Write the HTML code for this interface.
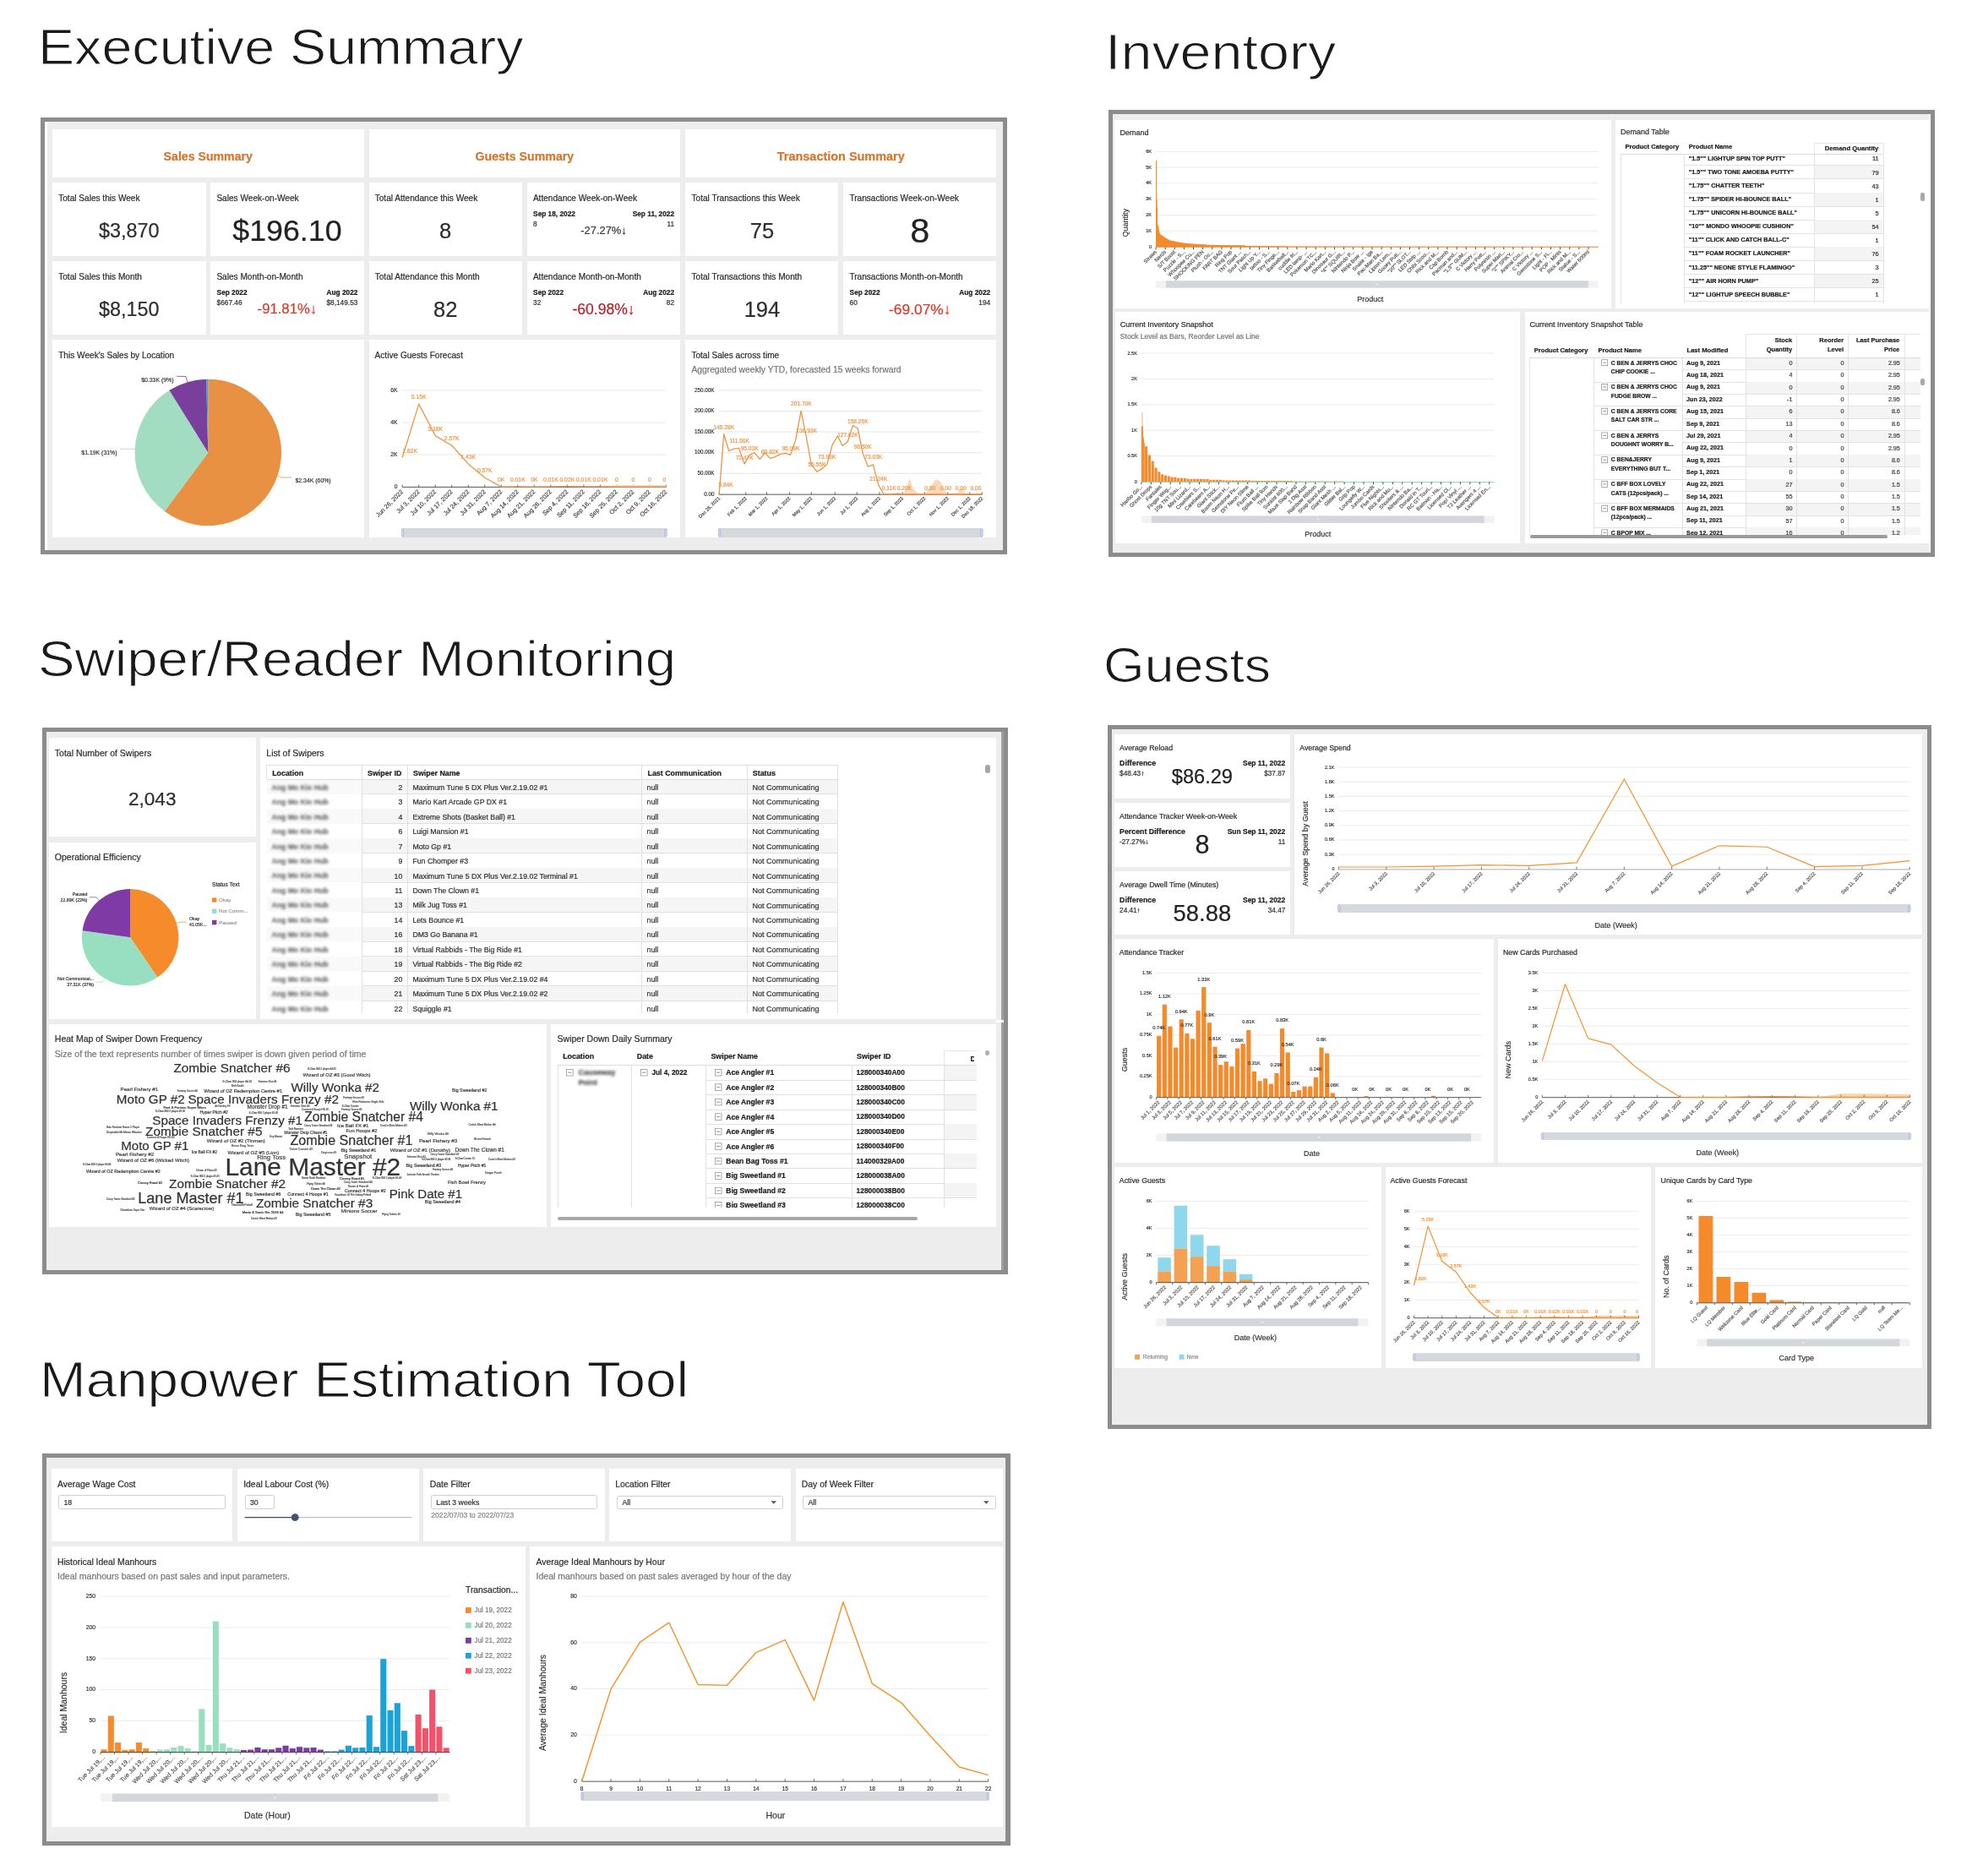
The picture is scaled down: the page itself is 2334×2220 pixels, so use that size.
<!DOCTYPE html>
<html><head><meta charset="utf-8"><title>Dashboards</title>
<style>
html,body{margin:0;padding:0;background:#fff;}
body{width:2334px;height:2220px;position:relative;overflow:hidden;font-family:"Liberation Sans",sans-serif;}
#bx div{position:absolute;}
.t{position:absolute;white-space:nowrap;line-height:1;-webkit-text-stroke:0.22px;}
svg{position:absolute;left:0;top:0;font-family:"Liberation Sans",sans-serif;will-change:transform;}
#tx{position:absolute;left:0;top:0;width:2334px;height:2220px;will-change:transform;}
</style></head><body>
<div id="bx">
<div style="left:48.4px;top:138.8px;width:1143.4px;height:517.4px;background:#8d8c8c;"></div>
<div style="left:53.4px;top:143.8px;width:1133.4px;height:507.4px;background:#ededed;"></div>
<div style="left:53.2px;top:143.8px;width:3px;height:507.6px;background:#fff;"></div>
<div style="left:62px;top:153.4px;width:368.6px;height:56.2px;background:#fff;"></div>
<div style="left:436.5px;top:153.4px;width:368.8px;height:56.2px;background:#fff;"></div>
<div style="left:811.3px;top:153.4px;width:368.1px;height:56.2px;background:#fff;"></div>
<div style="left:62px;top:216px;width:181.5px;height:86.8px;background:#fff;"></div>
<div style="left:62px;top:309px;width:181.5px;height:86.8px;background:#fff;"></div>
<div style="left:249.2px;top:216px;width:181.4px;height:86.8px;background:#fff;"></div>
<div style="left:249.2px;top:309px;width:181.4px;height:86.8px;background:#fff;"></div>
<div style="left:436.5px;top:216px;width:181.4px;height:86.8px;background:#fff;"></div>
<div style="left:436.5px;top:309px;width:181.4px;height:86.8px;background:#fff;"></div>
<div style="left:623.7px;top:216px;width:181.6px;height:86.8px;background:#fff;"></div>
<div style="left:623.7px;top:309px;width:181.6px;height:86.8px;background:#fff;"></div>
<div style="left:811.3px;top:216px;width:181.2px;height:86.8px;background:#fff;"></div>
<div style="left:811.3px;top:309px;width:181.2px;height:86.8px;background:#fff;"></div>
<div style="left:998.2px;top:216px;width:181.2px;height:86.8px;background:#fff;"></div>
<div style="left:998.2px;top:309px;width:181.2px;height:86.8px;background:#fff;"></div>
<div style="left:62px;top:402px;width:368.6px;height:233.7px;background:#fff;"></div>
<div style="left:436.5px;top:402px;width:368.8px;height:233.7px;background:#fff;"></div>
<div style="left:811.3px;top:402px;width:368.1px;height:233.7px;background:#fff;"></div>
<div style="left:1311.8px;top:130px;width:978px;height:529.4px;background:#8d8c8c;"></div>
<div style="left:1316.8px;top:135px;width:968px;height:519.4px;background:#ededed;"></div>
<div style="left:2283.1px;top:134.8px;width:1.9px;height:519.6px;background:#fff;"></div>
<div style="left:1319px;top:141.9px;width:587.8px;height:222.8px;background:#fff;"></div>
<div style="left:1912px;top:141.9px;width:371.1px;height:222.8px;background:#fff;"></div>
<div style="left:1319.8px;top:369.2px;width:479.4px;height:273.8px;background:#fff;"></div>
<div style="left:1804.5px;top:369.2px;width:478.6px;height:273.8px;background:#fff;"></div>
<div style="left:1993.8px;top:195.3px;width:235.5px;height:0.8px;background:#e2e2e2;"></div>
<div style="left:2147.3px;top:195.7px;width:82px;height:16.1px;background:#f4f4f4;"></div>
<div style="left:1993.8px;top:211.4px;width:235.5px;height:0.8px;background:#e2e2e2;"></div>
<div style="left:1993.8px;top:227.5px;width:235.5px;height:0.8px;background:#e2e2e2;"></div>
<div style="left:2147.3px;top:227.9px;width:82px;height:16.1px;background:#f4f4f4;"></div>
<div style="left:1993.8px;top:243.6px;width:235.5px;height:0.8px;background:#e2e2e2;"></div>
<div style="left:1993.8px;top:259.7px;width:235.5px;height:0.8px;background:#e2e2e2;"></div>
<div style="left:2147.3px;top:260.1px;width:82px;height:16.1px;background:#f4f4f4;"></div>
<div style="left:1993.8px;top:275.8px;width:235.5px;height:0.8px;background:#e2e2e2;"></div>
<div style="left:1993.8px;top:291.9px;width:235.5px;height:0.8px;background:#e2e2e2;"></div>
<div style="left:2147.3px;top:292.3px;width:82px;height:16.1px;background:#f4f4f4;"></div>
<div style="left:1993.8px;top:308px;width:235.5px;height:0.8px;background:#e2e2e2;"></div>
<div style="left:1993.8px;top:324.1px;width:235.5px;height:0.8px;background:#e2e2e2;"></div>
<div style="left:2147.3px;top:324.5px;width:82px;height:16.1px;background:#f4f4f4;"></div>
<div style="left:1993.8px;top:340.2px;width:235.5px;height:0.8px;background:#e2e2e2;"></div>
<div style="left:1993.8px;top:356.3px;width:235.5px;height:0.8px;background:#e2e2e2;"></div>
<div style="left:1917.6px;top:182.8px;width:0.8px;height:176.4px;background:#e2e2e2;"></div>
<div style="left:1993.4px;top:182.8px;width:0.8px;height:176.4px;background:#e2e2e2;"></div>
<div style="left:2146.9px;top:168.8px;width:0.8px;height:190.4px;background:#e2e2e2;"></div>
<div style="left:2228.9px;top:168.8px;width:0.8px;height:190.4px;background:#e2e2e2;"></div>
<div style="left:2273.3px;top:227.6px;width:4.3px;height:10.4px;background:#a8a8a8;border-radius:2px;"></div>
<div style="left:2066.4px;top:423.3px;width:206.7px;height:14.37px;background:#f4f4f4;"></div>
<div style="left:1991.7px;top:437.27px;width:281.4px;height:0.8px;background:#e2e2e2;"></div>
<div style="left:1886.8px;top:451.64px;width:386.3px;height:0.8px;background:#e2e2e2;"></div>
<div style="left:2066.4px;top:452.04px;width:206.7px;height:14.37px;background:#f4f4f4;"></div>
<div style="left:1991.7px;top:466.01px;width:281.4px;height:0.8px;background:#e2e2e2;"></div>
<div style="left:1886.8px;top:480.38px;width:386.3px;height:0.8px;background:#e2e2e2;"></div>
<div style="left:2066.4px;top:480.78px;width:206.7px;height:14.37px;background:#f4f4f4;"></div>
<div style="left:1991.7px;top:494.75px;width:281.4px;height:0.8px;background:#e2e2e2;"></div>
<div style="left:1886.8px;top:509.12px;width:386.3px;height:0.8px;background:#e2e2e2;"></div>
<div style="left:2066.4px;top:509.52px;width:206.7px;height:14.37px;background:#f4f4f4;"></div>
<div style="left:1991.7px;top:523.49px;width:281.4px;height:0.8px;background:#e2e2e2;"></div>
<div style="left:1886.8px;top:537.86px;width:386.3px;height:0.8px;background:#e2e2e2;"></div>
<div style="left:2066.4px;top:538.26px;width:206.7px;height:14.37px;background:#f4f4f4;"></div>
<div style="left:1991.7px;top:552.23px;width:281.4px;height:0.8px;background:#e2e2e2;"></div>
<div style="left:1886.8px;top:566.6px;width:386.3px;height:0.8px;background:#e2e2e2;"></div>
<div style="left:2066.4px;top:567px;width:206.7px;height:14.37px;background:#f4f4f4;"></div>
<div style="left:1991.7px;top:580.97px;width:281.4px;height:0.8px;background:#e2e2e2;"></div>
<div style="left:1886.8px;top:595.34px;width:386.3px;height:0.8px;background:#e2e2e2;"></div>
<div style="left:2066.4px;top:595.74px;width:206.7px;height:14.37px;background:#f4f4f4;"></div>
<div style="left:1991.7px;top:609.71px;width:281.4px;height:0.8px;background:#e2e2e2;"></div>
<div style="left:1886.8px;top:624.08px;width:386.3px;height:0.8px;background:#e2e2e2;"></div>
<div style="left:2066.4px;top:624.48px;width:206.7px;height:8.12px;background:#f4f4f4;"></div>
<div style="left:1810.2px;top:423.3px;width:0.8px;height:209.3px;background:#e2e2e2;"></div>
<div style="left:1886.4px;top:423.3px;width:0.8px;height:209.3px;background:#e2e2e2;"></div>
<div style="left:1991.3px;top:423.3px;width:0.8px;height:209.3px;background:#e2e2e2;"></div>
<div style="left:2066px;top:423.3px;width:0.8px;height:209.3px;background:#e2e2e2;"></div>
<div style="left:2126.4px;top:423.3px;width:0.8px;height:209.3px;background:#e2e2e2;"></div>
<div style="left:2187.3px;top:423.3px;width:0.8px;height:209.3px;background:#e2e2e2;"></div>
<div style="left:2254.3px;top:423.3px;width:0.8px;height:209.3px;background:#e2e2e2;"></div>
<div style="left:1810.6px;top:422.8px;width:462.5px;height:1px;background:#dcdcdc;"></div>
<div style="left:2066.4px;top:394.8px;width:206.7px;height:0.8px;background:#e6e6e6;"></div>
<div style="left:2066px;top:395.2px;width:0.8px;height:28.1px;background:#e6e6e6;"></div>
<div style="left:2126.4px;top:395.2px;width:0.8px;height:28.1px;background:#e6e6e6;"></div>
<div style="left:2187.3px;top:395.2px;width:0.8px;height:28.1px;background:#e6e6e6;"></div>
<div style="left:2254.3px;top:395.2px;width:0.8px;height:28.1px;background:#e6e6e6;"></div>
<div style="left:2273.3px;top:448.3px;width:4.3px;height:7.5px;background:#a8a8a8;border-radius:2px;"></div>
<div style="left:49.8px;top:861.4px;width:1143.1px;height:647px;background:#8d8c8c;"></div>
<div style="left:54.8px;top:866.4px;width:1129.9px;height:637px;background:#ededed;"></div>
<div style="left:1184.7px;top:866.4px;width:3.3px;height:637px;background:#9e9e9e;"></div>
<div style="left:57.7px;top:873.4px;width:244.9px;height:117px;background:#fff;"></div>
<div style="left:57.7px;top:996.7px;width:244.9px;height:209.1px;background:#fff;"></div>
<div style="left:308.3px;top:873.4px;width:871px;height:332.4px;background:#fff;"></div>
<div style="left:57.7px;top:1212px;width:589.3px;height:239.7px;background:#fff;"></div>
<div style="left:652.4px;top:1212px;width:526.9px;height:239.7px;background:#fff;"></div>
<div style="left:1179.3px;top:1207.2px;width:8.7px;height:2.8px;background:#fff;"></div>
<div style="left:315.5px;top:922.2px;width:676px;height:17.47px;background:#f5f5f5;"></div>
<div style="left:428px;top:939.27px;width:563.5px;height:0.8px;background:#e0e0e0;"></div>
<div style="left:428px;top:956.74px;width:563.5px;height:0.8px;background:#e0e0e0;"></div>
<div style="left:315.5px;top:957.14px;width:676px;height:17.47px;background:#f5f5f5;"></div>
<div style="left:428px;top:974.21px;width:563.5px;height:0.8px;background:#e0e0e0;"></div>
<div style="left:428px;top:991.68px;width:563.5px;height:0.8px;background:#e0e0e0;"></div>
<div style="left:315.5px;top:992.08px;width:676px;height:17.47px;background:#f5f5f5;"></div>
<div style="left:428px;top:1009.15px;width:563.5px;height:0.8px;background:#e0e0e0;"></div>
<div style="left:428px;top:1026.62px;width:563.5px;height:0.8px;background:#e0e0e0;"></div>
<div style="left:315.5px;top:1027.02px;width:676px;height:17.47px;background:#f5f5f5;"></div>
<div style="left:428px;top:1044.09px;width:563.5px;height:0.8px;background:#e0e0e0;"></div>
<div style="left:428px;top:1061.56px;width:563.5px;height:0.8px;background:#e0e0e0;"></div>
<div style="left:315.5px;top:1061.96px;width:676px;height:17.47px;background:#f5f5f5;"></div>
<div style="left:428px;top:1079.03px;width:563.5px;height:0.8px;background:#e0e0e0;"></div>
<div style="left:428px;top:1096.5px;width:563.5px;height:0.8px;background:#e0e0e0;"></div>
<div style="left:315.5px;top:1096.9px;width:676px;height:17.47px;background:#f5f5f5;"></div>
<div style="left:428px;top:1113.97px;width:563.5px;height:0.8px;background:#e0e0e0;"></div>
<div style="left:428px;top:1131.44px;width:563.5px;height:0.8px;background:#e0e0e0;"></div>
<div style="left:315.5px;top:1131.84px;width:676px;height:17.47px;background:#f5f5f5;"></div>
<div style="left:428px;top:1148.91px;width:563.5px;height:0.8px;background:#e0e0e0;"></div>
<div style="left:428px;top:1166.38px;width:563.5px;height:0.8px;background:#e0e0e0;"></div>
<div style="left:315.5px;top:1166.78px;width:676px;height:17.47px;background:#f5f5f5;"></div>
<div style="left:428px;top:1183.85px;width:563.5px;height:0.8px;background:#e0e0e0;"></div>
<div style="left:315.5px;top:922.2px;width:112px;height:276.8px;background:rgba(255,255,255,0.45);"></div>
<div style="left:427.6px;top:905.4px;width:0.8px;height:293.6px;background:#e0e0e0;"></div>
<div style="left:481.8px;top:905.4px;width:0.8px;height:293.6px;background:#e0e0e0;"></div>
<div style="left:759.3px;top:905.4px;width:0.8px;height:293.6px;background:#e0e0e0;"></div>
<div style="left:884.2px;top:905.4px;width:0.8px;height:293.6px;background:#e0e0e0;"></div>
<div style="left:991.1px;top:905.4px;width:0.8px;height:293.6px;background:#e0e0e0;"></div>
<div style="left:315.5px;top:905.4px;width:676px;height:16.8px;background:#fff;"></div>
<div style="left:315.5px;top:905px;width:676px;height:0.8px;background:#e0e0e0;"></div>
<div style="left:315.5px;top:921.8px;width:676px;height:0.8px;background:#dcdcdc;"></div>
<div style="left:315.1px;top:905.4px;width:0.8px;height:16.8px;background:#e0e0e0;"></div>
<div style="left:427.6px;top:905.4px;width:0.8px;height:16.8px;background:#e0e0e0;"></div>
<div style="left:481.8px;top:905.4px;width:0.8px;height:16.8px;background:#e0e0e0;"></div>
<div style="left:759.3px;top:905.4px;width:0.8px;height:16.8px;background:#e0e0e0;"></div>
<div style="left:884.2px;top:905.4px;width:0.8px;height:16.8px;background:#e0e0e0;"></div>
<div style="left:991.1px;top:905.4px;width:0.8px;height:16.8px;background:#e0e0e0;"></div>
<div style="left:1166px;top:905.2px;width:5.8px;height:9.4px;background:#a6a6a6;border-radius:3px;"></div>
<div style="left:1117.1px;top:1260.6px;width:38.6px;height:17.47px;background:#f4f4f4;"></div>
<div style="left:835.6px;top:1277.67px;width:320.1px;height:0.8px;background:#e0e0e0;"></div>
<div style="left:835.6px;top:1295.14px;width:320.1px;height:0.8px;background:#e0e0e0;"></div>
<div style="left:1117.1px;top:1295.54px;width:38.6px;height:17.47px;background:#f4f4f4;"></div>
<div style="left:835.6px;top:1312.61px;width:320.1px;height:0.8px;background:#e0e0e0;"></div>
<div style="left:835.6px;top:1330.08px;width:320.1px;height:0.8px;background:#e0e0e0;"></div>
<div style="left:1117.1px;top:1330.48px;width:38.6px;height:17.47px;background:#f4f4f4;"></div>
<div style="left:835.6px;top:1347.55px;width:320.1px;height:0.8px;background:#e0e0e0;"></div>
<div style="left:835.6px;top:1365.02px;width:320.1px;height:0.8px;background:#e0e0e0;"></div>
<div style="left:1117.1px;top:1365.42px;width:38.6px;height:17.47px;background:#f4f4f4;"></div>
<div style="left:835.6px;top:1382.49px;width:320.1px;height:0.8px;background:#e0e0e0;"></div>
<div style="left:835.6px;top:1399.96px;width:320.1px;height:0.8px;background:#e0e0e0;"></div>
<div style="left:1117.1px;top:1400.36px;width:38.6px;height:17.47px;background:#f4f4f4;"></div>
<div style="left:835.6px;top:1417.43px;width:320.1px;height:0.8px;background:#e0e0e0;"></div>
<div style="left:659.5px;top:1260.6px;width:0.8px;height:168px;background:#e0e0e0;"></div>
<div style="left:747.2px;top:1260.6px;width:0.8px;height:168px;background:#e0e0e0;"></div>
<div style="left:835.2px;top:1260.6px;width:0.8px;height:168px;background:#e0e0e0;"></div>
<div style="left:1007.5px;top:1260.6px;width:0.8px;height:168px;background:#e0e0e0;"></div>
<div style="left:1116.7px;top:1260.6px;width:0.8px;height:168px;background:#e0e0e0;"></div>
<div style="left:659.9px;top:1260.1px;width:495.8px;height:1px;background:#dcdcdc;"></div>
<div style="left:1117.1px;top:1243.4px;width:38.6px;height:0.8px;background:#e6e6e6;"></div>
<div style="left:1116.7px;top:1243.8px;width:0.8px;height:16.8px;background:#e6e6e6;"></div>
<div style="left:1165.8px;top:1243.2px;width:5.6px;height:5.6px;background:#b0b0b0;border-radius:3px;"></div>
<div style="left:1310.6px;top:858px;width:975.2px;height:832.6px;background:#8d8c8c;"></div>
<div style="left:1315.6px;top:863px;width:965.2px;height:822.6px;background:#ededed;"></div>
<div style="left:1319px;top:869.2px;width:207.8px;height:75.4px;background:#fff;"></div>
<div style="left:1319px;top:950.2px;width:207.8px;height:75.4px;background:#fff;"></div>
<div style="left:1319px;top:1030.9px;width:207.8px;height:75.6px;background:#fff;"></div>
<div style="left:1532.1px;top:869.2px;width:743.1px;height:237.3px;background:#fff;"></div>
<div style="left:1319px;top:1111.4px;width:448.8px;height:264.6px;background:#fff;"></div>
<div style="left:1773px;top:1111.4px;width:501.8px;height:264.6px;background:#fff;"></div>
<div style="left:1319px;top:1380.9px;width:315.7px;height:237.7px;background:#fff;"></div>
<div style="left:1639.7px;top:1380.9px;width:314.5px;height:237.7px;background:#fff;"></div>
<div style="left:1959.4px;top:1380.9px;width:315.4px;height:237.7px;background:#fff;"></div>
<div style="left:49.8px;top:1719.8px;width:1146px;height:464px;background:#8d8c8c;"></div>
<div style="left:54.6px;top:1724.6px;width:1135.9px;height:454.4px;background:#ededed;"></div>
<div style="left:60.8px;top:1737.5px;width:214.5px;height:86.5px;background:#fff;"></div>
<div style="left:280.9px;top:1737.5px;width:214.8px;height:86.5px;background:#fff;"></div>
<div style="left:501.4px;top:1737.5px;width:214.2px;height:86.5px;background:#fff;"></div>
<div style="left:721px;top:1737.5px;width:214.8px;height:86.5px;background:#fff;"></div>
<div style="left:941.5px;top:1737.5px;width:245.8px;height:86.5px;background:#fff;"></div>
<div style="left:60.8px;top:1830px;width:560.8px;height:331.8px;background:#fff;"></div>
<div style="left:627.4px;top:1830px;width:559.9px;height:331.8px;background:#fff;"></div>
<div style="left:69.3px;top:1769.4px;width:197.5px;height:16.6px;background:#fff;border:1px solid #cfcfcf;border-radius:2.5px;box-sizing:border-box;"></div>
<div style="left:289.7px;top:1769.4px;width:34.9px;height:16.6px;background:#fff;border:1px solid #cfcfcf;border-radius:2.5px;box-sizing:border-box;"></div>
<div style="left:510.1px;top:1769.4px;width:196.8px;height:16.6px;background:#fff;border:1px solid #cfcfcf;border-radius:2.5px;box-sizing:border-box;"></div>
<div style="left:730.2px;top:1769.5px;width:196.8px;height:16.1px;background:#fff;border:1px solid #cfcfcf;border-radius:2.5px;box-sizing:border-box;"></div>
<div style="left:950.3px;top:1769.5px;width:228.3px;height:16.1px;background:#fff;border:1px solid #cfcfcf;border-radius:2.5px;box-sizing:border-box;"></div>
</div>
<svg width="2334" height="2220" viewBox="0 0 2334 2220">
<path d="M246.3,535.4 L246.3,448.7 A86.7,86.7 0 1 1 194.73,605.09 Z" fill="#e99142"/>
<path d="M246.3,535.4 L194.73,605.09 A86.7,86.7 0 0 1 200.36,461.87 Z" fill="#a2dcc1"/>
<path d="M246.3,535.4 L200.36,461.87 A86.7,86.7 0 0 1 244.18,448.73 Z" fill="#7a3f9c"/>
<path d="M246.3,535.4 L244.18,448.73 A86.7,86.7 0 0 1 246.3,448.7 Z" fill="#3aa0d0"/>
<text x="214.5" y="591.84" font-size="1" fill="#333" stroke="#333" stroke-width="0.18" text-anchor="start"></text>
<polyline points="328.5,563 333,565 345,565" fill="none" stroke="#e99142" stroke-width="0.8" stroke-linejoin="round" />
<text x="349.5" y="571.17" font-size="6.9" fill="#333" stroke="#333" stroke-width="0.18" text-anchor="start">$2.34K (60%)</text>
<polyline points="160.5,531.5 152,531.2 142,531.2" fill="none" stroke="#a2dcc1" stroke-width="0.8" stroke-linejoin="round" />
<text x="138.5" y="537.57" font-size="6.9" fill="#333" stroke="#333" stroke-width="0.18" text-anchor="end">$1.19K (31%)</text>
<polyline points="221.8,452.5 220,445.5 209,445.3" fill="none" stroke="#7a3f9c" stroke-width="0.8" stroke-linejoin="round" />
<text x="205.5" y="451.57" font-size="6.9" fill="#333" stroke="#333" stroke-width="0.18" text-anchor="end">$0.33K (9%)</text>
<line x1="476.2" y1="462" x2="788.4" y2="462" stroke="#e4e4e4" stroke-width="0.9"/>
<text x="470.4" y="463.9" font-size="6.7" fill="#333" stroke="#333" stroke-width="0.18" text-anchor="end">6K</text>
<line x1="476.2" y1="500.03" x2="788.4" y2="500.03" stroke="#e4e4e4" stroke-width="0.9"/>
<text x="470.4" y="501.94" font-size="6.7" fill="#333" stroke="#333" stroke-width="0.18" text-anchor="end">4K</text>
<line x1="476.2" y1="538.07" x2="788.4" y2="538.07" stroke="#e4e4e4" stroke-width="0.9"/>
<text x="470.4" y="539.97" font-size="6.7" fill="#333" stroke="#333" stroke-width="0.18" text-anchor="end">2K</text>
<text x="470.4" y="577.8" font-size="6.7" fill="#333" stroke="#333" stroke-width="0.18" text-anchor="end">0</text>
<line x1="476.2" y1="576.4" x2="788.4" y2="576.4" stroke="#444" stroke-width="0.9"/>
<line x1="476.2" y1="573.6" x2="476.2" y2="576.6" stroke="#444" stroke-width="0.8"/>
<line x1="495.71" y1="573.6" x2="495.71" y2="576.6" stroke="#444" stroke-width="0.8"/>
<line x1="515.23" y1="573.6" x2="515.23" y2="576.6" stroke="#444" stroke-width="0.8"/>
<line x1="534.74" y1="573.6" x2="534.74" y2="576.6" stroke="#444" stroke-width="0.8"/>
<line x1="554.25" y1="573.6" x2="554.25" y2="576.6" stroke="#444" stroke-width="0.8"/>
<line x1="573.76" y1="573.6" x2="573.76" y2="576.6" stroke="#444" stroke-width="0.8"/>
<line x1="593.27" y1="573.6" x2="593.27" y2="576.6" stroke="#444" stroke-width="0.8"/>
<line x1="612.79" y1="573.6" x2="612.79" y2="576.6" stroke="#444" stroke-width="0.8"/>
<line x1="632.3" y1="573.6" x2="632.3" y2="576.6" stroke="#444" stroke-width="0.8"/>
<line x1="651.81" y1="573.6" x2="651.81" y2="576.6" stroke="#444" stroke-width="0.8"/>
<line x1="671.33" y1="573.6" x2="671.33" y2="576.6" stroke="#444" stroke-width="0.8"/>
<line x1="690.84" y1="573.6" x2="690.84" y2="576.6" stroke="#444" stroke-width="0.8"/>
<line x1="710.35" y1="573.6" x2="710.35" y2="576.6" stroke="#444" stroke-width="0.8"/>
<line x1="729.86" y1="573.6" x2="729.86" y2="576.6" stroke="#444" stroke-width="0.8"/>
<line x1="749.38" y1="573.6" x2="749.38" y2="576.6" stroke="#444" stroke-width="0.8"/>
<line x1="768.89" y1="573.6" x2="768.89" y2="576.6" stroke="#444" stroke-width="0.8"/>
<line x1="788.4" y1="573.6" x2="788.4" y2="576.6" stroke="#444" stroke-width="0.8"/>
<polygon points="710.35,576.1 729.86,573.7 788.4,574.1 788.4,576.1" fill="#fbd9b8" />
<polyline points="476.2,541.49 495.71,478.16 515.23,515.63 534.74,527.23 554.25,548.91 573.76,565.26 593.27,576.1 612.79,575.91 632.3,576.1 651.81,575.91 671.33,575.72 690.84,575.91 710.35,575.91 729.86,576.1 749.38,576.1 768.89,576.1 788.4,576.1" fill="none" stroke="#ef9440" stroke-width="1.3" stroke-linejoin="round" />
<text x="485.2" y="535.63" font-size="6.8" fill="#ef9440" stroke="#ef9440" stroke-width="0.18" text-anchor="middle">1.82K</text>
<text x="495.71" y="472.3" font-size="6.8" fill="#ef9440" stroke="#ef9440" stroke-width="0.18" text-anchor="middle">5.15K</text>
<text x="515.23" y="509.77" font-size="6.8" fill="#ef9440" stroke="#ef9440" stroke-width="0.18" text-anchor="middle">3.18K</text>
<text x="534.74" y="521.37" font-size="6.8" fill="#ef9440" stroke="#ef9440" stroke-width="0.18" text-anchor="middle">2.57K</text>
<text x="554.25" y="543.05" font-size="6.8" fill="#ef9440" stroke="#ef9440" stroke-width="0.18" text-anchor="middle">1.43K</text>
<text x="573.76" y="559.4" font-size="6.8" fill="#ef9440" stroke="#ef9440" stroke-width="0.18" text-anchor="middle">0.57K</text>
<text x="593.27" y="570.24" font-size="6.8" fill="#ef9440" stroke="#ef9440" stroke-width="0.18" text-anchor="middle">0K</text>
<text x="612.79" y="570.24" font-size="6.8" fill="#ef9440" stroke="#ef9440" stroke-width="0.18" text-anchor="middle">0.01K</text>
<text x="632.3" y="570.24" font-size="6.8" fill="#ef9440" stroke="#ef9440" stroke-width="0.18" text-anchor="middle">0K</text>
<text x="651.81" y="570.24" font-size="6.8" fill="#ef9440" stroke="#ef9440" stroke-width="0.18" text-anchor="middle">0.01K</text>
<text x="671.33" y="570.24" font-size="6.8" fill="#ef9440" stroke="#ef9440" stroke-width="0.18" text-anchor="middle">0.02K</text>
<text x="690.84" y="570.24" font-size="6.8" fill="#ef9440" stroke="#ef9440" stroke-width="0.18" text-anchor="middle">0.01K</text>
<text x="710.35" y="570.24" font-size="6.8" fill="#ef9440" stroke="#ef9440" stroke-width="0.18" text-anchor="middle">0.01K</text>
<text x="729.86" y="570.24" font-size="6.8" fill="#ef9440" stroke="#ef9440" stroke-width="0.18" text-anchor="middle">0</text>
<text x="749.38" y="570.24" font-size="6.8" fill="#ef9440" stroke="#ef9440" stroke-width="0.18" text-anchor="middle">0</text>
<text x="768.89" y="570.24" font-size="6.8" fill="#ef9440" stroke="#ef9440" stroke-width="0.18" text-anchor="middle">0</text>
<text x="786.4" y="570.24" font-size="6.8" fill="#ef9440" stroke="#ef9440" stroke-width="0.18" text-anchor="middle">0</text>
<text transform="translate(477.7,582.5) rotate(-45)" font-size="7.3" fill="#444" stroke="#444" stroke-width="0.18" text-anchor="end">Jun 26, 2022</text>
<text transform="translate(497.21,582.5) rotate(-45)" font-size="7.3" fill="#444" stroke="#444" stroke-width="0.18" text-anchor="end">Jul 3, 2022</text>
<text transform="translate(516.73,582.5) rotate(-45)" font-size="7.3" fill="#444" stroke="#444" stroke-width="0.18" text-anchor="end">Jul 10, 2022</text>
<text transform="translate(536.24,582.5) rotate(-45)" font-size="7.3" fill="#444" stroke="#444" stroke-width="0.18" text-anchor="end">Jul 17, 2022</text>
<text transform="translate(555.75,582.5) rotate(-45)" font-size="7.3" fill="#444" stroke="#444" stroke-width="0.18" text-anchor="end">Jul 24, 2022</text>
<text transform="translate(575.26,582.5) rotate(-45)" font-size="7.3" fill="#444" stroke="#444" stroke-width="0.18" text-anchor="end">Jul 31, 2022</text>
<text transform="translate(594.77,582.5) rotate(-45)" font-size="7.3" fill="#444" stroke="#444" stroke-width="0.18" text-anchor="end">Aug 7, 2022</text>
<text transform="translate(614.29,582.5) rotate(-45)" font-size="7.3" fill="#444" stroke="#444" stroke-width="0.18" text-anchor="end">Aug 14, 2022</text>
<text transform="translate(633.8,582.5) rotate(-45)" font-size="7.3" fill="#444" stroke="#444" stroke-width="0.18" text-anchor="end">Aug 21, 2022</text>
<text transform="translate(653.31,582.5) rotate(-45)" font-size="7.3" fill="#444" stroke="#444" stroke-width="0.18" text-anchor="end">Aug 28, 2022</text>
<text transform="translate(672.83,582.5) rotate(-45)" font-size="7.3" fill="#444" stroke="#444" stroke-width="0.18" text-anchor="end">Sep 4, 2022</text>
<text transform="translate(692.34,582.5) rotate(-45)" font-size="7.3" fill="#444" stroke="#444" stroke-width="0.18" text-anchor="end">Sep 11, 2022</text>
<text transform="translate(711.85,582.5) rotate(-45)" font-size="7.3" fill="#444" stroke="#444" stroke-width="0.18" text-anchor="end">Sep 18, 2022</text>
<text transform="translate(731.36,582.5) rotate(-45)" font-size="7.3" fill="#444" stroke="#444" stroke-width="0.18" text-anchor="end">Sep 25, 2022</text>
<text transform="translate(750.88,582.5) rotate(-45)" font-size="7.3" fill="#444" stroke="#444" stroke-width="0.18" text-anchor="end">Oct 2, 2022</text>
<text transform="translate(770.39,582.5) rotate(-45)" font-size="7.3" fill="#444" stroke="#444" stroke-width="0.18" text-anchor="end">Oct 9, 2022</text>
<text transform="translate(789.9,582.5) rotate(-45)" font-size="7.3" fill="#444" stroke="#444" stroke-width="0.18" text-anchor="end">Oct 16, 2022</text>
<rect x="476.2" y="625.2" width="312.2" height="10.5" fill="#d5d9de" stroke="#c8cdd6" stroke-width="0.5"/>
<rect x="475.3" y="625.8" width="2.4" height="9.3" fill="#cfd6ea" rx="1" stroke="#9fabd4" stroke-width="0.6"/>
<rect x="786.9" y="625.8" width="2.4" height="9.3" fill="#cfd6ea" rx="1" stroke="#9fabd4" stroke-width="0.6"/>
<line x1="851.15" y1="461.9" x2="1162.29" y2="461.9" stroke="#e4e4e4" stroke-width="0.9"/>
<text x="845.55" y="463.67" font-size="6.3" fill="#333" stroke="#333" stroke-width="0.18" text-anchor="end">250.00K</text>
<line x1="851.15" y1="486.49" x2="1162.29" y2="486.49" stroke="#e4e4e4" stroke-width="0.9"/>
<text x="845.55" y="488.25" font-size="6.3" fill="#333" stroke="#333" stroke-width="0.18" text-anchor="end">200.00K</text>
<line x1="851.15" y1="511.07" x2="1162.29" y2="511.07" stroke="#e4e4e4" stroke-width="0.9"/>
<text x="845.55" y="512.84" font-size="6.3" fill="#333" stroke="#333" stroke-width="0.18" text-anchor="end">150.00K</text>
<line x1="851.15" y1="535.66" x2="1162.29" y2="535.66" stroke="#e4e4e4" stroke-width="0.9"/>
<text x="845.55" y="537.43" font-size="6.3" fill="#333" stroke="#333" stroke-width="0.18" text-anchor="end">100.00K</text>
<line x1="851.15" y1="560.25" x2="1162.29" y2="560.25" stroke="#e4e4e4" stroke-width="0.9"/>
<text x="845.55" y="562.02" font-size="6.3" fill="#333" stroke="#333" stroke-width="0.18" text-anchor="end">50.00K</text>
<text x="845.55" y="586.61" font-size="6.3" fill="#333" stroke="#333" stroke-width="0.18" text-anchor="end">0.00</text>
<line x1="851.15" y1="585.14" x2="1162.29" y2="585.14" stroke="#444" stroke-width="0.9"/>
<line x1="851.15" y1="582.34" x2="851.15" y2="585.34" stroke="#444" stroke-width="0.8"/>
<line x1="882.79" y1="582.34" x2="882.79" y2="585.34" stroke="#444" stroke-width="0.8"/>
<line x1="907.51" y1="582.34" x2="907.51" y2="585.34" stroke="#444" stroke-width="0.8"/>
<line x1="934.54" y1="582.34" x2="934.54" y2="585.34" stroke="#444" stroke-width="0.8"/>
<line x1="960.25" y1="582.34" x2="960.25" y2="585.34" stroke="#444" stroke-width="0.8"/>
<line x1="988.27" y1="582.34" x2="988.27" y2="585.34" stroke="#444" stroke-width="0.8"/>
<line x1="1014.3" y1="582.34" x2="1014.3" y2="585.34" stroke="#444" stroke-width="0.8"/>
<line x1="1041" y1="582.34" x2="1041" y2="585.34" stroke="#444" stroke-width="0.8"/>
<line x1="1068.03" y1="582.34" x2="1068.03" y2="585.34" stroke="#444" stroke-width="0.8"/>
<line x1="1094.4" y1="582.34" x2="1094.4" y2="585.34" stroke="#444" stroke-width="0.8"/>
<line x1="1121.75" y1="582.34" x2="1121.75" y2="585.34" stroke="#444" stroke-width="0.8"/>
<line x1="1147.79" y1="582.34" x2="1147.79" y2="585.34" stroke="#444" stroke-width="0.8"/>
<line x1="1162.29" y1="582.34" x2="1162.29" y2="585.34" stroke="#444" stroke-width="0.8"/>
<polygon points="1068.03,584.84 1071.98,579.56 1076.6,566.05 1080.55,577.92 1086.16,583.52 1091.1,584.84" fill="#fbd9b8" />
<polygon points="1094.4,584.84 1100.99,576.27 1107.58,567.04 1112.85,569.35 1116.81,577.92 1121.42,584.84" fill="#fbd9b8" />
<polygon points="1131.31,584.84 1137.9,577.26 1143.84,584.84" fill="#fbd9b8" />
<polyline points="851.15,584.84 856.76,513.65 862.69,533.75 868.62,531.11 874.56,530.45 881.15,548.91 887.08,538.37 893.01,535.73 899.27,543.31 905.54,535.73 911.47,542.32 917.4,540.67 923.67,537.38 929.6,536.39 935.53,538.37 941.79,520.24 948.06,486.29 954.32,516.94 960.25,549.9 966.84,558.14 972.78,554.85 979.04,548.91 984.97,526.83 991.23,515.95 997.17,527.49 1003.43,522.54 1009.36,503.43 1015.29,507.05 1021.23,536.72 1027.49,552.21 1033.42,549.9 1040.01,574.62 1045.95,584.51 1054.85,584.84 1063.09,583.85 1068.03,584.84 1162.29,584.84" fill="none" stroke="#ef9440" stroke-width="1.3" stroke-linejoin="round" />
<text x="856.76" y="508.01" font-size="6.6" fill="#ef9440" stroke="#ef9440" stroke-width="0.18" text-anchor="middle">145.28K</text>
<text x="859.06" y="576.23" font-size="6.6" fill="#ef9440" stroke="#ef9440" stroke-width="0.18" text-anchor="middle">5.84K</text>
<text x="875.21" y="524.49" font-size="6.6" fill="#ef9440" stroke="#ef9440" stroke-width="0.18" text-anchor="middle">111.56K</text>
<text x="887.08" y="532.73" font-size="6.6" fill="#ef9440" stroke="#ef9440" stroke-width="0.18" text-anchor="middle">95.03K</text>
<text x="881.15" y="543.93" font-size="6.6" fill="#ef9440" stroke="#ef9440" stroke-width="0.18" text-anchor="middle">72.47K</text>
<text x="911.47" y="537.01" font-size="6.6" fill="#ef9440" stroke="#ef9440" stroke-width="0.18" text-anchor="middle">86.82K</text>
<text x="935.86" y="532.73" font-size="6.6" fill="#ef9440" stroke="#ef9440" stroke-width="0.18" text-anchor="middle">95.09K</text>
<text x="948.38" y="479.66" font-size="6.6" fill="#ef9440" stroke="#ef9440" stroke-width="0.18" text-anchor="middle">201.70K</text>
<text x="954.65" y="511.63" font-size="6.6" fill="#ef9440" stroke="#ef9440" stroke-width="0.18" text-anchor="middle">136.93K</text>
<text x="966.84" y="552.17" font-size="6.6" fill="#ef9440" stroke="#ef9440" stroke-width="0.18" text-anchor="middle">55.55K</text>
<text x="978.71" y="543.27" font-size="6.6" fill="#ef9440" stroke="#ef9440" stroke-width="0.18" text-anchor="middle">73.93K</text>
<text x="1003.43" y="516.57" font-size="6.6" fill="#ef9440" stroke="#ef9440" stroke-width="0.18" text-anchor="middle">127.62K</text>
<text x="1015.29" y="501.41" font-size="6.6" fill="#ef9440" stroke="#ef9440" stroke-width="0.18" text-anchor="middle">158.25K</text>
<text x="1021.23" y="530.75" font-size="6.6" fill="#ef9440" stroke="#ef9440" stroke-width="0.18" text-anchor="middle">98.50K</text>
<text x="1033.75" y="543.27" font-size="6.6" fill="#ef9440" stroke="#ef9440" stroke-width="0.18" text-anchor="middle">73.03K</text>
<text x="1039.68" y="569.31" font-size="6.6" fill="#ef9440" stroke="#ef9440" stroke-width="0.18" text-anchor="middle">21.24K</text>
<text x="1052.21" y="579.53" font-size="6.6" fill="#ef9440" stroke="#ef9440" stroke-width="0.18" text-anchor="middle">0.11K</text>
<text x="1070.34" y="579.53" font-size="6.6" fill="#ef9440" stroke="#ef9440" stroke-width="0.18" text-anchor="middle">0.20K</text>
<text x="1100.66" y="579.53" font-size="6.6" fill="#ef9440" stroke="#ef9440" stroke-width="0.18" text-anchor="middle">0.00</text>
<text x="1119.45" y="579.53" font-size="6.6" fill="#ef9440" stroke="#ef9440" stroke-width="0.18" text-anchor="middle">0.00</text>
<text x="1137.24" y="579.53" font-size="6.6" fill="#ef9440" stroke="#ef9440" stroke-width="0.18" text-anchor="middle">0.00</text>
<text x="1155.04" y="579.53" font-size="6.6" fill="#ef9440" stroke="#ef9440" stroke-width="0.18" text-anchor="middle">0.00</text>
<text transform="translate(852.65,590.04) rotate(-45)" font-size="5.6" fill="#444" stroke="#444" stroke-width="0.18" text-anchor="end">Dec 26, 2021</text>
<text transform="translate(884.29,590.04) rotate(-45)" font-size="5.6" fill="#444" stroke="#444" stroke-width="0.18" text-anchor="end">Feb 1, 2022</text>
<text transform="translate(909.01,590.04) rotate(-45)" font-size="5.6" fill="#444" stroke="#444" stroke-width="0.18" text-anchor="end">Mar 1, 2022</text>
<text transform="translate(936.04,590.04) rotate(-45)" font-size="5.6" fill="#444" stroke="#444" stroke-width="0.18" text-anchor="end">Apr 1, 2022</text>
<text transform="translate(961.75,590.04) rotate(-45)" font-size="5.6" fill="#444" stroke="#444" stroke-width="0.18" text-anchor="end">May 1, 2022</text>
<text transform="translate(989.77,590.04) rotate(-45)" font-size="5.6" fill="#444" stroke="#444" stroke-width="0.18" text-anchor="end">Jun 1, 2022</text>
<text transform="translate(1015.8,590.04) rotate(-45)" font-size="5.6" fill="#444" stroke="#444" stroke-width="0.18" text-anchor="end">Jul 1, 2022</text>
<text transform="translate(1042.5,590.04) rotate(-45)" font-size="5.6" fill="#444" stroke="#444" stroke-width="0.18" text-anchor="end">Aug 1, 2022</text>
<text transform="translate(1069.53,590.04) rotate(-45)" font-size="5.6" fill="#444" stroke="#444" stroke-width="0.18" text-anchor="end">Sep 1, 2022</text>
<text transform="translate(1095.9,590.04) rotate(-45)" font-size="5.6" fill="#444" stroke="#444" stroke-width="0.18" text-anchor="end">Oct 1, 2022</text>
<text transform="translate(1123.25,590.04) rotate(-45)" font-size="5.6" fill="#444" stroke="#444" stroke-width="0.18" text-anchor="end">Nov 1, 2022</text>
<text transform="translate(1149.29,590.04) rotate(-45)" font-size="5.6" fill="#444" stroke="#444" stroke-width="0.18" text-anchor="end">Dec 1, 2022</text>
<text transform="translate(1163.79,590.04) rotate(-45)" font-size="5.6" fill="#444" stroke="#444" stroke-width="0.18" text-anchor="end">Dec 18, 2022</text>
<rect x="851.15" y="625.2" width="311.14" height="10.5" fill="#d5d9de" stroke="#c8cdd6" stroke-width="0.5"/>
<rect x="850.25" y="625.8" width="2.4" height="9.3" fill="#cfd6ea" rx="1" stroke="#9fabd4" stroke-width="0.6"/>
<rect x="1160.79" y="625.8" width="2.4" height="9.3" fill="#cfd6ea" rx="1" stroke="#9fabd4" stroke-width="0.6"/>
<line x1="1368" y1="273.23" x2="1891.8" y2="273.23" stroke="#e6e6e6" stroke-width="0.8"/>
<text x="1363" y="274.76" font-size="5.6" fill="#333" stroke="#333" stroke-width="0.18" text-anchor="end">1K</text>
<line x1="1368" y1="254.47" x2="1891.8" y2="254.47" stroke="#e6e6e6" stroke-width="0.8"/>
<text x="1363" y="255.99" font-size="5.6" fill="#333" stroke="#333" stroke-width="0.18" text-anchor="end">2K</text>
<line x1="1368" y1="235.7" x2="1891.8" y2="235.7" stroke="#e6e6e6" stroke-width="0.8"/>
<text x="1363" y="237.23" font-size="5.6" fill="#333" stroke="#333" stroke-width="0.18" text-anchor="end">3K</text>
<line x1="1368" y1="216.93" x2="1891.8" y2="216.93" stroke="#e6e6e6" stroke-width="0.8"/>
<text x="1363" y="218.46" font-size="5.6" fill="#333" stroke="#333" stroke-width="0.18" text-anchor="end">4K</text>
<line x1="1368" y1="198.17" x2="1891.8" y2="198.17" stroke="#e6e6e6" stroke-width="0.8"/>
<text x="1363" y="199.69" font-size="5.6" fill="#333" stroke="#333" stroke-width="0.18" text-anchor="end">5K</text>
<line x1="1368" y1="179.4" x2="1891.8" y2="179.4" stroke="#e6e6e6" stroke-width="0.8"/>
<text x="1363" y="180.93" font-size="5.6" fill="#333" stroke="#333" stroke-width="0.18" text-anchor="end">6K</text>
<text x="1363" y="293.53" font-size="5.6" fill="#333" stroke="#333" stroke-width="0.18" text-anchor="end">0</text>
<polygon points="1368.04,291.94 1368.04,189.88 1369.09,189.88 1369.09,236.03 1369.62,236.03 1369.62,245.26 1370.15,245.26 1370.15,265.04 1371.2,268.21 1372.26,274.8 1373.84,277.7 1376.48,279.28 1379.11,281.13 1382.28,282.97 1384.92,284.56 1388.34,285.08 1392.3,285.88 1396.26,286.67 1401.53,287.46 1406.8,287.99 1412.08,288.51 1417.35,289.04 1427.9,289.3 1427.9,289.83 1447.68,290.09 1474.05,290.36 1474.05,290.89 1524.16,291.15 1524.16,291.55 1891.77,291.68 1891.77,292.1" fill="#f58a2b" />
<line x1="1368" y1="292.4" x2="1891.8" y2="292.4" stroke="#f08a30" stroke-width="0.9"/>
<line x1="1368" y1="292.5" x2="1368" y2="295.2" stroke="#333" stroke-width="0.9"/>
<line x1="1379.13" y1="292.5" x2="1379.13" y2="295.2" stroke="#333" stroke-width="0.9"/>
<line x1="1390.26" y1="292.5" x2="1390.26" y2="295.2" stroke="#333" stroke-width="0.9"/>
<line x1="1401.39" y1="292.5" x2="1401.39" y2="295.2" stroke="#333" stroke-width="0.9"/>
<line x1="1412.52" y1="292.5" x2="1412.52" y2="295.2" stroke="#333" stroke-width="0.9"/>
<line x1="1423.65" y1="292.5" x2="1423.65" y2="295.2" stroke="#333" stroke-width="0.9"/>
<line x1="1434.78" y1="292.5" x2="1434.78" y2="295.2" stroke="#333" stroke-width="0.9"/>
<line x1="1445.91" y1="292.5" x2="1445.91" y2="295.2" stroke="#333" stroke-width="0.9"/>
<line x1="1457.04" y1="292.5" x2="1457.04" y2="295.2" stroke="#333" stroke-width="0.9"/>
<line x1="1468.17" y1="292.5" x2="1468.17" y2="295.2" stroke="#333" stroke-width="0.9"/>
<line x1="1479.3" y1="292.5" x2="1479.3" y2="295.2" stroke="#333" stroke-width="0.9"/>
<line x1="1490.43" y1="292.5" x2="1490.43" y2="295.2" stroke="#333" stroke-width="0.9"/>
<line x1="1501.56" y1="292.5" x2="1501.56" y2="295.2" stroke="#333" stroke-width="0.9"/>
<line x1="1512.69" y1="292.5" x2="1512.69" y2="295.2" stroke="#333" stroke-width="0.9"/>
<line x1="1523.82" y1="292.5" x2="1523.82" y2="295.2" stroke="#333" stroke-width="0.9"/>
<line x1="1534.95" y1="292.5" x2="1534.95" y2="295.2" stroke="#333" stroke-width="0.9"/>
<line x1="1546.08" y1="292.5" x2="1546.08" y2="295.2" stroke="#333" stroke-width="0.9"/>
<line x1="1557.21" y1="292.5" x2="1557.21" y2="295.2" stroke="#333" stroke-width="0.9"/>
<line x1="1568.34" y1="292.5" x2="1568.34" y2="295.2" stroke="#333" stroke-width="0.9"/>
<line x1="1579.47" y1="292.5" x2="1579.47" y2="295.2" stroke="#333" stroke-width="0.9"/>
<line x1="1590.6" y1="292.5" x2="1590.6" y2="295.2" stroke="#333" stroke-width="0.9"/>
<line x1="1601.73" y1="292.5" x2="1601.73" y2="295.2" stroke="#333" stroke-width="0.9"/>
<line x1="1612.86" y1="292.5" x2="1612.86" y2="295.2" stroke="#333" stroke-width="0.9"/>
<line x1="1623.99" y1="292.5" x2="1623.99" y2="295.2" stroke="#333" stroke-width="0.9"/>
<line x1="1635.12" y1="292.5" x2="1635.12" y2="295.2" stroke="#333" stroke-width="0.9"/>
<line x1="1646.25" y1="292.5" x2="1646.25" y2="295.2" stroke="#333" stroke-width="0.9"/>
<line x1="1657.38" y1="292.5" x2="1657.38" y2="295.2" stroke="#333" stroke-width="0.9"/>
<line x1="1668.51" y1="292.5" x2="1668.51" y2="295.2" stroke="#333" stroke-width="0.9"/>
<line x1="1679.64" y1="292.5" x2="1679.64" y2="295.2" stroke="#333" stroke-width="0.9"/>
<line x1="1690.77" y1="292.5" x2="1690.77" y2="295.2" stroke="#333" stroke-width="0.9"/>
<line x1="1701.9" y1="292.5" x2="1701.9" y2="295.2" stroke="#333" stroke-width="0.9"/>
<line x1="1713.03" y1="292.5" x2="1713.03" y2="295.2" stroke="#333" stroke-width="0.9"/>
<line x1="1724.16" y1="292.5" x2="1724.16" y2="295.2" stroke="#333" stroke-width="0.9"/>
<line x1="1735.29" y1="292.5" x2="1735.29" y2="295.2" stroke="#333" stroke-width="0.9"/>
<line x1="1746.42" y1="292.5" x2="1746.42" y2="295.2" stroke="#333" stroke-width="0.9"/>
<line x1="1757.55" y1="292.5" x2="1757.55" y2="295.2" stroke="#333" stroke-width="0.9"/>
<line x1="1768.68" y1="292.5" x2="1768.68" y2="295.2" stroke="#333" stroke-width="0.9"/>
<line x1="1779.81" y1="292.5" x2="1779.81" y2="295.2" stroke="#333" stroke-width="0.9"/>
<line x1="1790.94" y1="292.5" x2="1790.94" y2="295.2" stroke="#333" stroke-width="0.9"/>
<line x1="1802.07" y1="292.5" x2="1802.07" y2="295.2" stroke="#333" stroke-width="0.9"/>
<line x1="1813.2" y1="292.5" x2="1813.2" y2="295.2" stroke="#333" stroke-width="0.9"/>
<line x1="1824.33" y1="292.5" x2="1824.33" y2="295.2" stroke="#333" stroke-width="0.9"/>
<line x1="1835.46" y1="292.5" x2="1835.46" y2="295.2" stroke="#333" stroke-width="0.9"/>
<line x1="1846.59" y1="292.5" x2="1846.59" y2="295.2" stroke="#333" stroke-width="0.9"/>
<line x1="1857.72" y1="292.5" x2="1857.72" y2="295.2" stroke="#333" stroke-width="0.9"/>
<line x1="1868.85" y1="292.5" x2="1868.85" y2="295.2" stroke="#333" stroke-width="0.9"/>
<line x1="1879.98" y1="292.5" x2="1879.98" y2="295.2" stroke="#333" stroke-width="0.9"/>
<text transform="translate(1369.5,298.5) rotate(-45)" font-size="6.2" fill="#555" stroke="#555" stroke-width="0.18" text-anchor="end">Straws</text>
<text transform="translate(1380.63,298.5) rotate(-45)" font-size="6.2" fill="#555" stroke="#555" stroke-width="0.18" text-anchor="end">Nerds</text>
<text transform="translate(1391.76,298.5) rotate(-45)" font-size="6.2" fill="#555" stroke="#555" stroke-width="0.18" text-anchor="end">S/T Boost</text>
<text transform="translate(1402.89,298.5) rotate(-45)" font-size="6.2" fill="#555" stroke="#555" stroke-width="0.18" text-anchor="end">Puzzle - S...</text>
<text transform="translate(1414.02,298.5) rotate(-45)" font-size="6.2" fill="#555" stroke="#555" stroke-width="0.18" text-anchor="end">Whoopee Cu...</text>
<text transform="translate(1425.15,298.5) rotate(-45)" font-size="6.2" fill="#555" stroke="#555" stroke-width="0.18" text-anchor="end">SHOCKING PEN</text>
<text transform="translate(1436.28,298.5) rotate(-45)" font-size="6.2" fill="#555" stroke="#555" stroke-width="0.18" text-anchor="end">Plush - Oc...</text>
<text transform="translate(1447.41,298.5) rotate(-45)" font-size="6.2" fill="#555" stroke="#555" stroke-width="0.18" text-anchor="end">FART BAG</text>
<text transform="translate(1458.54,298.5) rotate(-45)" font-size="6.2" fill="#555" stroke="#555" stroke-width="0.18" text-anchor="end">Ring Pop</text>
<text transform="translate(1469.67,298.5) rotate(-45)" font-size="6.2" fill="#555" stroke="#555" stroke-width="0.18" text-anchor="end">TNT Giant ...</text>
<text transform="translate(1480.8,298.5) rotate(-45)" font-size="6.2" fill="#555" stroke="#555" stroke-width="0.18" text-anchor="end">Sour Patch...</text>
<text transform="translate(1491.93,298.5) rotate(-45)" font-size="6.2" fill="#555" stroke="#555" stroke-width="0.18" text-anchor="end">Light Up Y...</text>
<text transform="translate(1503.06,298.5) rotate(-45)" font-size="6.2" fill="#555" stroke="#555" stroke-width="0.18" text-anchor="end">tattoo - S...</text>
<text transform="translate(1514.19,298.5) rotate(-45)" font-size="6.2" fill="#555" stroke="#555" stroke-width="0.18" text-anchor="end">Tiny Finge...</text>
<text transform="translate(1525.32,298.5) rotate(-45)" font-size="6.2" fill="#555" stroke="#555" stroke-width="0.18" text-anchor="end">Basketball...</text>
<text transform="translate(1536.45,298.5) rotate(-45)" font-size="6.2" fill="#555" stroke="#555" stroke-width="0.18" text-anchor="end">cuddle fri...</text>
<text transform="translate(1547.58,298.5) rotate(-45)" font-size="6.2" fill="#555" stroke="#555" stroke-width="0.18" text-anchor="end">LED lamp- ...</text>
<text transform="translate(1558.71,298.5) rotate(-45)" font-size="6.2" fill="#555" stroke="#555" stroke-width="0.18" text-anchor="end">Pokemon TC...</text>
<text transform="translate(1569.84,298.5) rotate(-45)" font-size="6.2" fill="#555" stroke="#555" stroke-width="0.18" text-anchor="end">Mario Kart...</text>
<text transform="translate(1580.97,298.5) rotate(-45)" font-size="6.2" fill="#555" stroke="#555" stroke-width="0.18" text-anchor="end">Dinosaur G...</text>
<text transform="translate(1592.1,298.5) rotate(-45)" font-size="6.2" fill="#555" stroke="#555" stroke-width="0.18" text-anchor="end">"4"" SQUIR...</text>
<text transform="translate(1603.23,298.5) rotate(-45)" font-size="6.2" fill="#555" stroke="#555" stroke-width="0.18" text-anchor="end">Nintendo P...</text>
<text transform="translate(1614.36,298.5) rotate(-45)" font-size="6.2" fill="#555" stroke="#555" stroke-width="0.18" text-anchor="end">Ninja Bow ...</text>
<text transform="translate(1625.49,298.5) rotate(-45)" font-size="6.2" fill="#555" stroke="#555" stroke-width="0.18" text-anchor="end">Snake - Ige</text>
<text transform="translate(1636.62,298.5) rotate(-45)" font-size="6.2" fill="#555" stroke="#555" stroke-width="0.18" text-anchor="end">Pac-Man Ba...</text>
<text transform="translate(1647.75,298.5) rotate(-45)" font-size="6.2" fill="#555" stroke="#555" stroke-width="0.18" text-anchor="end">Lipton Lem...</text>
<text transform="translate(1658.88,298.5) rotate(-45)" font-size="6.2" fill="#555" stroke="#555" stroke-width="0.18" text-anchor="end">Gooey Putt...</text>
<text transform="translate(1670.01,298.5) rotate(-45)" font-size="6.2" fill="#555" stroke="#555" stroke-width="0.18" text-anchor="end">"20"" SLOT...</text>
<text transform="translate(1681.14,298.5) rotate(-45)" font-size="6.2" fill="#555" stroke="#555" stroke-width="0.18" text-anchor="end">LED Strip ...</text>
<text transform="translate(1692.27,298.5) rotate(-45)" font-size="6.2" fill="#555" stroke="#555" stroke-width="0.18" text-anchor="end">Chibi Scoo...</text>
<text transform="translate(1703.4,298.5) rotate(-45)" font-size="6.2" fill="#555" stroke="#555" stroke-width="0.18" text-anchor="end">Rick and M...</text>
<text transform="translate(1714.53,298.5) rotate(-45)" font-size="6.2" fill="#555" stroke="#555" stroke-width="0.18" text-anchor="end">Cap Bomb</text>
<text transform="translate(1725.66,298.5) rotate(-45)" font-size="6.2" fill="#555" stroke="#555" stroke-width="0.18" text-anchor="end">Pacman and...</text>
<text transform="translate(1736.79,298.5) rotate(-45)" font-size="6.2" fill="#555" stroke="#555" stroke-width="0.18" text-anchor="end">"1.5"" GUM...</text>
<text transform="translate(1747.92,298.5) rotate(-45)" font-size="6.2" fill="#555" stroke="#555" stroke-width="0.18" text-anchor="end">C Victory ...</text>
<text transform="translate(1759.05,298.5) rotate(-45)" font-size="6.2" fill="#555" stroke="#555" stroke-width="0.18" text-anchor="end">Harry Pott...</text>
<text transform="translate(1770.18,298.5) rotate(-45)" font-size="6.2" fill="#555" stroke="#555" stroke-width="0.18" text-anchor="end">Polyresin ...</text>
<text transform="translate(1781.31,298.5) rotate(-45)" font-size="6.2" fill="#555" stroke="#555" stroke-width="0.18" text-anchor="end">Super Mari...</text>
<text transform="translate(1792.44,298.5) rotate(-45)" font-size="6.2" fill="#555" stroke="#555" stroke-width="0.18" text-anchor="end">"2"" SPIKY...</text>
<text transform="translate(1803.57,298.5) rotate(-45)" font-size="6.2" fill="#555" stroke="#555" stroke-width="0.18" text-anchor="end">Animal Cro...</text>
<text transform="translate(1814.7,298.5) rotate(-45)" font-size="6.2" fill="#555" stroke="#555" stroke-width="0.18" text-anchor="end">C Victory ...</text>
<text transform="translate(1825.83,298.5) rotate(-45)" font-size="6.2" fill="#555" stroke="#555" stroke-width="0.18" text-anchor="end">Gemstone S...</text>
<text transform="translate(1836.96,298.5) rotate(-45)" font-size="6.2" fill="#555" stroke="#555" stroke-width="0.18" text-anchor="end">Light - Fi...</text>
<text transform="translate(1848.09,298.5) rotate(-45)" font-size="6.2" fill="#555" stroke="#555" stroke-width="0.18" text-anchor="end">POP - Mints</text>
<text transform="translate(1859.22,298.5) rotate(-45)" font-size="6.2" fill="#555" stroke="#555" stroke-width="0.18" text-anchor="end">Rick and M...</text>
<text transform="translate(1870.35,298.5) rotate(-45)" font-size="6.2" fill="#555" stroke="#555" stroke-width="0.18" text-anchor="end">Statue - S...</text>
<text transform="translate(1881.48,298.5) rotate(-45)" font-size="6.2" fill="#555" stroke="#555" stroke-width="0.18" text-anchor="end">Water 600ml</text>
<rect x="1368" y="332.3" width="523.8" height="8.3" fill="#f2f2f2" />
<rect x="1380" y="332.3" width="499.8" height="8.3" fill="#d3d7dc" />
<rect x="1628.4" y="335.45" width="3" height="2" fill="#e6e8ec" />
<text x="1621.7" y="357.1" font-size="9" fill="#333" stroke="#333" stroke-width="0.18" text-anchor="middle">Product</text>
<text transform="translate(1334.9,263.7) rotate(-90)" font-size="9" fill="#333" stroke="#333" stroke-width="0.18" text-anchor="middle">Quantity</text>
<line x1="1350.9" y1="418" x2="1768.6" y2="418" stroke="#e6e6e6" stroke-width="0.8"/>
<text x="1345.9" y="419.53" font-size="5.6" fill="#333" stroke="#333" stroke-width="0.18" text-anchor="end">2.5K</text>
<line x1="1350.9" y1="448.4" x2="1768.6" y2="448.4" stroke="#e6e6e6" stroke-width="0.8"/>
<text x="1345.9" y="449.93" font-size="5.6" fill="#333" stroke="#333" stroke-width="0.18" text-anchor="end">2K</text>
<line x1="1350.9" y1="478.8" x2="1768.6" y2="478.8" stroke="#e6e6e6" stroke-width="0.8"/>
<text x="1345.9" y="480.33" font-size="5.6" fill="#333" stroke="#333" stroke-width="0.18" text-anchor="end">1.5K</text>
<line x1="1350.9" y1="509.2" x2="1768.6" y2="509.2" stroke="#e6e6e6" stroke-width="0.8"/>
<text x="1345.9" y="510.73" font-size="5.6" fill="#333" stroke="#333" stroke-width="0.18" text-anchor="end">1K</text>
<line x1="1350.9" y1="539.6" x2="1768.6" y2="539.6" stroke="#e6e6e6" stroke-width="0.8"/>
<text x="1345.9" y="541.13" font-size="5.6" fill="#333" stroke="#333" stroke-width="0.18" text-anchor="end">0.5K</text>
<text x="1345.9" y="571.53" font-size="5.6" fill="#333" stroke="#333" stroke-width="0.18" text-anchor="end">0</text>
<rect x="1350.9" y="487.56" width="2" height="82.44" fill="#fbd8b8" />
<rect x="1350.9" y="504.58" width="2" height="65.42" fill="#f58a2b" />
<rect x="1355.06" y="528.18" width="3.1" height="41.82" fill="#f58a2b" />
<rect x="1358.88" y="538.49" width="3.1" height="31.51" fill="#f58a2b" />
<rect x="1362.69" y="545.61" width="3.1" height="24.39" fill="#f58a2b" />
<rect x="1366.5" y="553.5" width="3.1" height="16.5" fill="#f58a2b" />
<rect x="1370.32" y="558.31" width="3.1" height="11.69" fill="#f58a2b" />
<rect x="1374.13" y="561.29" width="3.1" height="8.71" fill="#f58a2b" />
<rect x="1377.94" y="562.57" width="3.1" height="7.43" fill="#f58a2b" />
<rect x="1381.75" y="563.46" width="3.1" height="6.54" fill="#f58a2b" />
<rect x="1385.57" y="564.47" width="3.1" height="5.53" fill="#f58a2b" />
<rect x="1389.38" y="564.77" width="3.1" height="5.23" fill="#f58a2b" />
<rect x="1393.19" y="565.68" width="3.1" height="4.32" fill="#f58a2b" />
<rect x="1397.01" y="565.68" width="3.1" height="4.32" fill="#f58a2b" />
<rect x="1400.82" y="565.83" width="3.1" height="4.17" fill="#f58a2b" />
<rect x="1404.63" y="566.72" width="3.1" height="3.28" fill="#f58a2b" />
<rect x="1408.44" y="566.75" width="3.1" height="3.25" fill="#f58a2b" />
<rect x="1412.26" y="566.78" width="3.1" height="3.22" fill="#f58a2b" />
<rect x="1416.07" y="566.8" width="3.1" height="3.2" fill="#f58a2b" />
<rect x="1419.88" y="566.83" width="3.1" height="3.17" fill="#f58a2b" />
<rect x="1423.7" y="566.86" width="3.1" height="3.14" fill="#f58a2b" />
<rect x="1427.51" y="566.89" width="3.1" height="3.11" fill="#f58a2b" />
<rect x="1431.32" y="567.75" width="3.1" height="2.25" fill="#f58a2b" />
<rect x="1435.14" y="567.75" width="3.1" height="2.25" fill="#f58a2b" />
<rect x="1438.95" y="567.75" width="3.1" height="2.25" fill="#f58a2b" />
<rect x="1442.76" y="567.75" width="3.1" height="2.25" fill="#f58a2b" />
<rect x="1446.58" y="568.36" width="3.1" height="1.64" fill="#f58a2b" />
<rect x="1450.39" y="568.48" width="3.1" height="1.52" fill="#f58a2b" />
<rect x="1454.2" y="568.48" width="3.1" height="1.52" fill="#f58a2b" />
<rect x="1458.01" y="568.48" width="3.1" height="1.52" fill="#f58a2b" />
<rect x="1461.83" y="568.48" width="3.1" height="1.52" fill="#f58a2b" />
<rect x="1465.64" y="568.48" width="3.1" height="1.52" fill="#f58a2b" />
<rect x="1469.45" y="568.48" width="3.1" height="1.52" fill="#f58a2b" />
<rect x="1473.27" y="568.48" width="3.1" height="1.52" fill="#f58a2b" />
<rect x="1477.08" y="568.48" width="3.1" height="1.52" fill="#f58a2b" />
<rect x="1480.89" y="568.85" width="3.1" height="1.15" fill="#f58a2b" />
<rect x="1484.7" y="568.97" width="3.1" height="1.03" fill="#f58a2b" />
<rect x="1488.52" y="568.97" width="3.1" height="1.03" fill="#f58a2b" />
<rect x="1492.33" y="568.97" width="3.1" height="1.03" fill="#f58a2b" />
<rect x="1496.14" y="568.97" width="3.1" height="1.03" fill="#f58a2b" />
<rect x="1499.96" y="568.97" width="3.1" height="1.03" fill="#f58a2b" />
<rect x="1503.77" y="568.97" width="3.1" height="1.03" fill="#f58a2b" />
<rect x="1507.58" y="568.97" width="3.1" height="1.03" fill="#f58a2b" />
<rect x="1511.4" y="568.97" width="3.1" height="1.03" fill="#f58a2b" />
<rect x="1515.21" y="568.97" width="3.1" height="1.03" fill="#f58a2b" />
<rect x="1519.02" y="568.97" width="3.1" height="1.03" fill="#f58a2b" />
<rect x="1522.84" y="568.97" width="3.1" height="1.03" fill="#f58a2b" />
<rect x="1526.65" y="568.97" width="3.1" height="1.03" fill="#f58a2b" />
<polygon points="1352.9,570 1352.9,514.06 1354.8,525.62 1354.8,570" fill="#f58a2b" />
<line x1="1530.11" y1="569.7" x2="1590.08" y2="569.7" stroke="#f5c89a" stroke-width="0.9"/>
<line x1="1350.9" y1="570.5" x2="1768.6" y2="570.5" stroke="#8edab8" stroke-width="1.1"/>
<line x1="1350.9" y1="570.5" x2="1350.9" y2="573.2" stroke="#333" stroke-width="0.9"/>
<line x1="1362.34" y1="570.5" x2="1362.34" y2="573.2" stroke="#333" stroke-width="0.9"/>
<line x1="1373.78" y1="570.5" x2="1373.78" y2="573.2" stroke="#333" stroke-width="0.9"/>
<line x1="1385.22" y1="570.5" x2="1385.22" y2="573.2" stroke="#333" stroke-width="0.9"/>
<line x1="1396.66" y1="570.5" x2="1396.66" y2="573.2" stroke="#333" stroke-width="0.9"/>
<line x1="1408.1" y1="570.5" x2="1408.1" y2="573.2" stroke="#333" stroke-width="0.9"/>
<line x1="1419.54" y1="570.5" x2="1419.54" y2="573.2" stroke="#333" stroke-width="0.9"/>
<line x1="1430.98" y1="570.5" x2="1430.98" y2="573.2" stroke="#333" stroke-width="0.9"/>
<line x1="1442.42" y1="570.5" x2="1442.42" y2="573.2" stroke="#333" stroke-width="0.9"/>
<line x1="1453.86" y1="570.5" x2="1453.86" y2="573.2" stroke="#333" stroke-width="0.9"/>
<line x1="1465.3" y1="570.5" x2="1465.3" y2="573.2" stroke="#333" stroke-width="0.9"/>
<line x1="1476.74" y1="570.5" x2="1476.74" y2="573.2" stroke="#333" stroke-width="0.9"/>
<line x1="1488.18" y1="570.5" x2="1488.18" y2="573.2" stroke="#333" stroke-width="0.9"/>
<line x1="1499.62" y1="570.5" x2="1499.62" y2="573.2" stroke="#333" stroke-width="0.9"/>
<line x1="1511.06" y1="570.5" x2="1511.06" y2="573.2" stroke="#333" stroke-width="0.9"/>
<line x1="1522.5" y1="570.5" x2="1522.5" y2="573.2" stroke="#333" stroke-width="0.9"/>
<line x1="1533.94" y1="570.5" x2="1533.94" y2="573.2" stroke="#333" stroke-width="0.9"/>
<line x1="1545.38" y1="570.5" x2="1545.38" y2="573.2" stroke="#333" stroke-width="0.9"/>
<line x1="1556.82" y1="570.5" x2="1556.82" y2="573.2" stroke="#333" stroke-width="0.9"/>
<line x1="1568.26" y1="570.5" x2="1568.26" y2="573.2" stroke="#333" stroke-width="0.9"/>
<line x1="1579.7" y1="570.5" x2="1579.7" y2="573.2" stroke="#333" stroke-width="0.9"/>
<line x1="1591.14" y1="570.5" x2="1591.14" y2="573.2" stroke="#333" stroke-width="0.9"/>
<line x1="1602.58" y1="570.5" x2="1602.58" y2="573.2" stroke="#333" stroke-width="0.9"/>
<line x1="1614.02" y1="570.5" x2="1614.02" y2="573.2" stroke="#333" stroke-width="0.9"/>
<line x1="1625.46" y1="570.5" x2="1625.46" y2="573.2" stroke="#333" stroke-width="0.9"/>
<line x1="1636.9" y1="570.5" x2="1636.9" y2="573.2" stroke="#333" stroke-width="0.9"/>
<line x1="1648.34" y1="570.5" x2="1648.34" y2="573.2" stroke="#333" stroke-width="0.9"/>
<line x1="1659.78" y1="570.5" x2="1659.78" y2="573.2" stroke="#333" stroke-width="0.9"/>
<line x1="1671.22" y1="570.5" x2="1671.22" y2="573.2" stroke="#333" stroke-width="0.9"/>
<line x1="1682.66" y1="570.5" x2="1682.66" y2="573.2" stroke="#333" stroke-width="0.9"/>
<line x1="1694.1" y1="570.5" x2="1694.1" y2="573.2" stroke="#333" stroke-width="0.9"/>
<line x1="1705.54" y1="570.5" x2="1705.54" y2="573.2" stroke="#333" stroke-width="0.9"/>
<line x1="1716.98" y1="570.5" x2="1716.98" y2="573.2" stroke="#333" stroke-width="0.9"/>
<line x1="1728.42" y1="570.5" x2="1728.42" y2="573.2" stroke="#333" stroke-width="0.9"/>
<line x1="1739.86" y1="570.5" x2="1739.86" y2="573.2" stroke="#333" stroke-width="0.9"/>
<line x1="1751.3" y1="570.5" x2="1751.3" y2="573.2" stroke="#333" stroke-width="0.9"/>
<line x1="1762.74" y1="570.5" x2="1762.74" y2="573.2" stroke="#333" stroke-width="0.9"/>
<text transform="translate(1352.4,576.5) rotate(-45)" font-size="6.2" fill="#555" stroke="#555" stroke-width="0.18" text-anchor="end">Haribo Go...</text>
<text transform="translate(1363.84,576.5) rotate(-45)" font-size="6.2" fill="#555" stroke="#555" stroke-width="0.18" text-anchor="end">Ghost Drops</text>
<text transform="translate(1375.28,576.5) rotate(-45)" font-size="6.2" fill="#555" stroke="#555" stroke-width="0.18" text-anchor="end">Fantales</text>
<text transform="translate(1386.72,576.5) rotate(-45)" font-size="6.2" fill="#555" stroke="#555" stroke-width="0.18" text-anchor="end">Finger Wrig...</text>
<text transform="translate(1398.16,576.5) rotate(-45)" font-size="6.2" fill="#555" stroke="#555" stroke-width="0.18" text-anchor="end">10g TNT Sou...</text>
<text transform="translate(1409.6,576.5) rotate(-45)" font-size="6.2" fill="#555" stroke="#555" stroke-width="0.18" text-anchor="end">Mini Lizard...</text>
<text transform="translate(1421.04,576.5) rotate(-45)" font-size="6.2" fill="#555" stroke="#555" stroke-width="0.18" text-anchor="end">Creebiers S...</text>
<text transform="translate(1432.48,576.5) rotate(-45)" font-size="6.2" fill="#555" stroke="#555" stroke-width="0.18" text-anchor="end">Carebears A...</text>
<text transform="translate(1443.92,576.5) rotate(-45)" font-size="6.2" fill="#555" stroke="#555" stroke-width="0.18" text-anchor="end">Giant Stick...</text>
<text transform="translate(1455.36,576.5) rotate(-45)" font-size="6.2" fill="#555" stroke="#555" stroke-width="0.18" text-anchor="end">Boom Neon H...</text>
<text transform="translate(1466.8,576.5) rotate(-45)" font-size="6.2" fill="#555" stroke="#555" stroke-width="0.18" text-anchor="end">Gemstone Pe...</text>
<text transform="translate(1478.24,576.5) rotate(-45)" font-size="6.2" fill="#555" stroke="#555" stroke-width="0.18" text-anchor="end">DIY Neon Slime</text>
<text transform="translate(1489.68,576.5) rotate(-45)" font-size="6.2" fill="#555" stroke="#555" stroke-width="0.18" text-anchor="end">Fluro Ball ...</text>
<text transform="translate(1501.12,576.5) rotate(-45)" font-size="6.2" fill="#555" stroke="#555" stroke-width="0.18" text-anchor="end">Spike Ball 9cm</text>
<text transform="translate(1512.56,576.5) rotate(-45)" font-size="6.2" fill="#555" stroke="#555" stroke-width="0.18" text-anchor="end">Tiny Hands</text>
<text transform="translate(1524,576.5) rotate(-45)" font-size="6.2" fill="#555" stroke="#555" stroke-width="0.18" text-anchor="end">Sunkist 600...</text>
<text transform="translate(1535.44,576.5) rotate(-45)" font-size="6.2" fill="#555" stroke="#555" stroke-width="0.18" text-anchor="end">Maze Slap Band</text>
<text transform="translate(1546.88,576.5) rotate(-45)" font-size="6.2" fill="#555" stroke="#555" stroke-width="0.18" text-anchor="end">1 Dig Asst</text>
<text transform="translate(1558.32,576.5) rotate(-45)" font-size="6.2" fill="#555" stroke="#555" stroke-width="0.18" text-anchor="end">Rainbow Ribbon</text>
<text transform="translate(1569.76,576.5) rotate(-45)" font-size="6.2" fill="#555" stroke="#555" stroke-width="0.18" text-anchor="end">Snap Band Asst</text>
<text transform="translate(1581.2,576.5) rotate(-45)" font-size="6.2" fill="#555" stroke="#555" stroke-width="0.18" text-anchor="end">Giant Mesh ...</text>
<text transform="translate(1592.64,576.5) rotate(-45)" font-size="6.2" fill="#555" stroke="#555" stroke-width="0.18" text-anchor="end">Glitter Bal...</text>
<text transform="translate(1604.08,576.5) rotate(-45)" font-size="6.2" fill="#555" stroke="#555" stroke-width="0.18" text-anchor="end">Grip Pop</text>
<text transform="translate(1615.52,576.5) rotate(-45)" font-size="6.2" fill="#555" stroke="#555" stroke-width="0.18" text-anchor="end">Loungefly W...</text>
<text transform="translate(1626.96,576.5) rotate(-45)" font-size="6.2" fill="#555" stroke="#555" stroke-width="0.18" text-anchor="end">Jumbo Cards</text>
<text transform="translate(1638.4,576.5) rotate(-45)" font-size="6.2" fill="#555" stroke="#555" stroke-width="0.18" text-anchor="end">Five Nights...</text>
<text transform="translate(1649.84,576.5) rotate(-45)" font-size="6.2" fill="#555" stroke="#555" stroke-width="0.18" text-anchor="end">Rick and Mo...</text>
<text transform="translate(1661.28,576.5) rotate(-45)" font-size="6.2" fill="#555" stroke="#555" stroke-width="0.18" text-anchor="end">Shooters &amp; ...</text>
<text transform="translate(1672.72,576.5) rotate(-45)" font-size="6.2" fill="#555" stroke="#555" stroke-width="0.18" text-anchor="end">Nintendo Ba...</text>
<text transform="translate(1684.16,576.5) rotate(-45)" font-size="6.2" fill="#555" stroke="#555" stroke-width="0.18" text-anchor="end">Donald in T...</text>
<text transform="translate(1695.6,576.5) rotate(-45)" font-size="6.2" fill="#555" stroke="#555" stroke-width="0.18" text-anchor="end">RC GT Touri...</text>
<text transform="translate(1707.04,576.5) rotate(-45)" font-size="6.2" fill="#555" stroke="#555" stroke-width="0.18" text-anchor="end">Batman - Ha...</text>
<text transform="translate(1718.48,576.5) rotate(-45)" font-size="6.2" fill="#555" stroke="#555" stroke-width="0.18" text-anchor="end">Licensed Cl...</text>
<text transform="translate(1729.92,576.5) rotate(-45)" font-size="6.2" fill="#555" stroke="#555" stroke-width="0.18" text-anchor="end">Pop! Vinyl ...</text>
<text transform="translate(1741.36,576.5) rotate(-45)" font-size="6.2" fill="#555" stroke="#555" stroke-width="0.18" text-anchor="end">T2 Leather ...</text>
<text transform="translate(1752.8,576.5) rotate(-45)" font-size="6.2" fill="#555" stroke="#555" stroke-width="0.18" text-anchor="end">Avengers 4 ...</text>
<text transform="translate(1764.24,576.5) rotate(-45)" font-size="6.2" fill="#555" stroke="#555" stroke-width="0.18" text-anchor="end">Licensed En...</text>
<rect x="1350.9" y="610.5" width="417.7" height="8.3" fill="#f2f2f2" />
<rect x="1362.9" y="610.5" width="393.7" height="8.3" fill="#d3d7dc" />
<rect x="1558.25" y="613.65" width="3" height="2" fill="#e6e8ec" />
<text x="1559.8" y="634.7" font-size="9" fill="#333" stroke="#333" stroke-width="0.18" text-anchor="middle">Product</text>
<rect x="1895.7" y="425.7" width="7" height="7" fill="#fff" stroke="#888" stroke-width="0.7"/>
<line x1="1897.3" y1="429.2" x2="1901.1" y2="429.2" stroke="#777" stroke-width="0.8"/>
<rect x="1895.7" y="454.44" width="7" height="7" fill="#fff" stroke="#888" stroke-width="0.7"/>
<line x1="1897.3" y1="457.94" x2="1901.1" y2="457.94" stroke="#777" stroke-width="0.8"/>
<rect x="1895.7" y="483.18" width="7" height="7" fill="#fff" stroke="#888" stroke-width="0.7"/>
<line x1="1897.3" y1="486.68" x2="1901.1" y2="486.68" stroke="#777" stroke-width="0.8"/>
<rect x="1895.7" y="511.92" width="7" height="7" fill="#fff" stroke="#888" stroke-width="0.7"/>
<line x1="1897.3" y1="515.42" x2="1901.1" y2="515.42" stroke="#777" stroke-width="0.8"/>
<rect x="1895.7" y="540.66" width="7" height="7" fill="#fff" stroke="#888" stroke-width="0.7"/>
<line x1="1897.3" y1="544.16" x2="1901.1" y2="544.16" stroke="#777" stroke-width="0.8"/>
<rect x="1895.7" y="569.4" width="7" height="7" fill="#fff" stroke="#888" stroke-width="0.7"/>
<line x1="1897.3" y1="572.9" x2="1901.1" y2="572.9" stroke="#777" stroke-width="0.8"/>
<rect x="1895.7" y="598.14" width="7" height="7" fill="#fff" stroke="#888" stroke-width="0.7"/>
<line x1="1897.3" y1="601.64" x2="1901.1" y2="601.64" stroke="#777" stroke-width="0.8"/>
<rect x="1895.7" y="626.88" width="7" height="7" fill="#fff" stroke="#888" stroke-width="0.7"/>
<line x1="1897.3" y1="630.38" x2="1901.1" y2="630.38" stroke="#777" stroke-width="0.8"/>
<path d="M154.2,1109.3 L154.2,1052.1 A57.2,57.2 0 0 1 186.35,1156.61 Z" fill="#f68b2c"/>
<path d="M154.2,1109.3 L186.35,1156.61 A57.2,57.2 0 0 1 97.58,1101.14 Z" fill="#97dfc0"/>
<path d="M154.2,1109.3 L97.58,1101.14 A57.2,57.2 0 0 1 154.2,1052.1 Z" fill="#7f3aa6"/>
<polyline points="208.8,1092.6 213,1091.2 221,1091.2" fill="none" stroke="#f68b2c" stroke-width="0.7" stroke-linejoin="round" />
<text x="224" y="1089.39" font-size="5.2" fill="#333" stroke="#333" stroke-width="0.18" text-anchor="start">Okay</text>
<text x="224" y="1095.99" font-size="5.2" fill="#333" stroke="#333" stroke-width="0.18" text-anchor="start">41.05K...</text>
<polyline points="117.8,1065.5 114,1061.8 106,1061.8" fill="none" stroke="#7f3aa6" stroke-width="0.7" stroke-linejoin="round" />
<text x="103.3" y="1060.39" font-size="5.2" fill="#333" stroke="#333" stroke-width="0.18" text-anchor="end">Paused</text>
<text x="103.3" y="1066.79" font-size="5.2" fill="#333" stroke="#333" stroke-width="0.18" text-anchor="end">22.89K (23%)</text>
<polyline points="124.5,1158.3 121,1162.2 113,1162.2" fill="none" stroke="#97dfc0" stroke-width="0.7" stroke-linejoin="round" />
<text x="111" y="1160.39" font-size="5.2" fill="#333" stroke="#333" stroke-width="0.18" text-anchor="end">Not Communicat...</text>
<text x="111" y="1166.79" font-size="5.2" fill="#333" stroke="#333" stroke-width="0.18" text-anchor="end">37.31K (37%)</text>
<text x="251" y="1048.67" font-size="6.6" fill="#222" stroke="#222" stroke-width="0.18" text-anchor="start">Status Text</text>
<rect x="251" y="1062.3" width="5.4" height="5.4" fill="#f68b2c" />
<text x="259" y="1067.13" font-size="6.2" fill="#999" stroke="#999" stroke-width="0.18" text-anchor="start">Okay</text>
<rect x="251" y="1075.6" width="5.4" height="5.4" fill="#97dfc0" />
<text x="259" y="1080.43" font-size="6.2" fill="#999" stroke="#999" stroke-width="0.18" text-anchor="start">Not Comm...</text>
<rect x="251" y="1088.9" width="5.4" height="5.4" fill="#7f3aa6" />
<text x="259" y="1093.73" font-size="6.2" fill="#999" stroke="#999" stroke-width="0.18" text-anchor="start">Paused</text>
<rect x="846.4" y="1265.4" width="7.6" height="7.6" fill="#fff" stroke="#888" stroke-width="0.7"/>
<line x1="848" y1="1269.2" x2="852.4" y2="1269.2" stroke="#777" stroke-width="0.8"/>
<rect x="846.4" y="1282.87" width="7.6" height="7.6" fill="#fff" stroke="#888" stroke-width="0.7"/>
<line x1="848" y1="1286.67" x2="852.4" y2="1286.67" stroke="#777" stroke-width="0.8"/>
<rect x="846.4" y="1300.34" width="7.6" height="7.6" fill="#fff" stroke="#888" stroke-width="0.7"/>
<line x1="848" y1="1304.14" x2="852.4" y2="1304.14" stroke="#777" stroke-width="0.8"/>
<rect x="846.4" y="1317.81" width="7.6" height="7.6" fill="#fff" stroke="#888" stroke-width="0.7"/>
<line x1="848" y1="1321.61" x2="852.4" y2="1321.61" stroke="#777" stroke-width="0.8"/>
<rect x="846.4" y="1335.28" width="7.6" height="7.6" fill="#fff" stroke="#888" stroke-width="0.7"/>
<line x1="848" y1="1339.08" x2="852.4" y2="1339.08" stroke="#777" stroke-width="0.8"/>
<rect x="846.4" y="1352.75" width="7.6" height="7.6" fill="#fff" stroke="#888" stroke-width="0.7"/>
<line x1="848" y1="1356.55" x2="852.4" y2="1356.55" stroke="#777" stroke-width="0.8"/>
<rect x="846.4" y="1370.22" width="7.6" height="7.6" fill="#fff" stroke="#888" stroke-width="0.7"/>
<line x1="848" y1="1374.02" x2="852.4" y2="1374.02" stroke="#777" stroke-width="0.8"/>
<rect x="846.4" y="1387.69" width="7.6" height="7.6" fill="#fff" stroke="#888" stroke-width="0.7"/>
<line x1="848" y1="1391.49" x2="852.4" y2="1391.49" stroke="#777" stroke-width="0.8"/>
<rect x="846.4" y="1405.16" width="7.6" height="7.6" fill="#fff" stroke="#888" stroke-width="0.7"/>
<line x1="848" y1="1408.96" x2="852.4" y2="1408.96" stroke="#777" stroke-width="0.8"/>
<rect x="846.4" y="1422.63" width="7.6" height="7.6" fill="#fff" stroke="#888" stroke-width="0.7"/>
<line x1="848" y1="1426.43" x2="852.4" y2="1426.43" stroke="#777" stroke-width="0.8"/>
<rect x="670.6" y="1265.4" width="7.6" height="7.6" fill="#fff" stroke="#888" stroke-width="0.7"/>
<line x1="672.2" y1="1269.2" x2="676.6" y2="1269.2" stroke="#777" stroke-width="0.8"/>
<rect x="758.4" y="1265.4" width="7.6" height="7.6" fill="#fff" stroke="#888" stroke-width="0.7"/>
<line x1="760" y1="1269.2" x2="764.4" y2="1269.2" stroke="#777" stroke-width="0.8"/>
<line x1="1584.5" y1="908" x2="2260.2" y2="908" stroke="#e6e6e6" stroke-width="0.8"/>
<text x="1579.5" y="909.53" font-size="5.6" fill="#333" stroke="#333" stroke-width="0.18" text-anchor="end">2.1K</text>
<line x1="1584.5" y1="925.19" x2="2260.2" y2="925.19" stroke="#e6e6e6" stroke-width="0.8"/>
<text x="1579.5" y="926.71" font-size="5.6" fill="#333" stroke="#333" stroke-width="0.18" text-anchor="end">1.8K</text>
<line x1="1584.5" y1="942.37" x2="2260.2" y2="942.37" stroke="#e6e6e6" stroke-width="0.8"/>
<text x="1579.5" y="943.9" font-size="5.6" fill="#333" stroke="#333" stroke-width="0.18" text-anchor="end">1.5K</text>
<line x1="1584.5" y1="959.56" x2="2260.2" y2="959.56" stroke="#e6e6e6" stroke-width="0.8"/>
<text x="1579.5" y="961.08" font-size="5.6" fill="#333" stroke="#333" stroke-width="0.18" text-anchor="end">1.2K</text>
<line x1="1584.5" y1="976.74" x2="2260.2" y2="976.74" stroke="#e6e6e6" stroke-width="0.8"/>
<text x="1579.5" y="978.27" font-size="5.6" fill="#333" stroke="#333" stroke-width="0.18" text-anchor="end">0.9K</text>
<line x1="1584.5" y1="993.93" x2="2260.2" y2="993.93" stroke="#e6e6e6" stroke-width="0.8"/>
<text x="1579.5" y="995.45" font-size="5.6" fill="#333" stroke="#333" stroke-width="0.18" text-anchor="end">0.6K</text>
<line x1="1584.5" y1="1011.11" x2="2260.2" y2="1011.11" stroke="#e6e6e6" stroke-width="0.8"/>
<text x="1579.5" y="1012.64" font-size="5.6" fill="#333" stroke="#333" stroke-width="0.18" text-anchor="end">0.3K</text>
<text x="1579.5" y="1029.83" font-size="5.6" fill="#333" stroke="#333" stroke-width="0.18" text-anchor="end">0</text>
<line x1="1584.5" y1="1028.8" x2="2260.2" y2="1028.8" stroke="#bbb" stroke-width="1.2"/>
<line x1="1584.5" y1="1025.7" x2="1584.5" y2="1028.9" stroke="#444" stroke-width="0.7"/>
<line x1="1640.81" y1="1025.7" x2="1640.81" y2="1028.9" stroke="#444" stroke-width="0.7"/>
<line x1="1697.12" y1="1025.7" x2="1697.12" y2="1028.9" stroke="#444" stroke-width="0.7"/>
<line x1="1753.42" y1="1025.7" x2="1753.42" y2="1028.9" stroke="#444" stroke-width="0.7"/>
<line x1="1809.73" y1="1025.7" x2="1809.73" y2="1028.9" stroke="#444" stroke-width="0.7"/>
<line x1="1866.04" y1="1025.7" x2="1866.04" y2="1028.9" stroke="#444" stroke-width="0.7"/>
<line x1="1922.35" y1="1025.7" x2="1922.35" y2="1028.9" stroke="#444" stroke-width="0.7"/>
<line x1="1978.66" y1="1025.7" x2="1978.66" y2="1028.9" stroke="#444" stroke-width="0.7"/>
<line x1="2034.97" y1="1025.7" x2="2034.97" y2="1028.9" stroke="#444" stroke-width="0.7"/>
<line x1="2091.27" y1="1025.7" x2="2091.27" y2="1028.9" stroke="#444" stroke-width="0.7"/>
<line x1="2147.58" y1="1025.7" x2="2147.58" y2="1028.9" stroke="#444" stroke-width="0.7"/>
<line x1="2203.89" y1="1025.7" x2="2203.89" y2="1028.9" stroke="#444" stroke-width="0.7"/>
<line x1="2260.2" y1="1025.7" x2="2260.2" y2="1028.9" stroke="#444" stroke-width="0.7"/>
<polyline points="1584.5,1026.01 1640.81,1026.01 1697.12,1025.15 1753.42,1023.72 1809.73,1024.29 1866.04,1020.85 1922.35,922.03 1978.66,1025.15 2034.97,1000.8 2091.27,1002.24 2147.58,1025.66 2203.89,1024.29 2260.2,1018.56" fill="none" stroke="#f7922d" stroke-width="1.2" stroke-linejoin="round" />
<text transform="translate(1586,1034.3) rotate(-45)" font-size="5.8" fill="#555" stroke="#555" stroke-width="0.18" text-anchor="end">Jun 26, 2022</text>
<text transform="translate(1642.31,1034.3) rotate(-45)" font-size="5.8" fill="#555" stroke="#555" stroke-width="0.18" text-anchor="end">Jul 3, 2022</text>
<text transform="translate(1698.62,1034.3) rotate(-45)" font-size="5.8" fill="#555" stroke="#555" stroke-width="0.18" text-anchor="end">Jul 10, 2022</text>
<text transform="translate(1754.92,1034.3) rotate(-45)" font-size="5.8" fill="#555" stroke="#555" stroke-width="0.18" text-anchor="end">Jul 17, 2022</text>
<text transform="translate(1811.23,1034.3) rotate(-45)" font-size="5.8" fill="#555" stroke="#555" stroke-width="0.18" text-anchor="end">Jul 24, 2022</text>
<text transform="translate(1867.54,1034.3) rotate(-45)" font-size="5.8" fill="#555" stroke="#555" stroke-width="0.18" text-anchor="end">Jul 31, 2022</text>
<text transform="translate(1923.85,1034.3) rotate(-45)" font-size="5.8" fill="#555" stroke="#555" stroke-width="0.18" text-anchor="end">Aug 7, 2022</text>
<text transform="translate(1980.16,1034.3) rotate(-45)" font-size="5.8" fill="#555" stroke="#555" stroke-width="0.18" text-anchor="end">Aug 14, 2022</text>
<text transform="translate(2036.47,1034.3) rotate(-45)" font-size="5.8" fill="#555" stroke="#555" stroke-width="0.18" text-anchor="end">Aug 21, 2022</text>
<text transform="translate(2092.77,1034.3) rotate(-45)" font-size="5.8" fill="#555" stroke="#555" stroke-width="0.18" text-anchor="end">Aug 28, 2022</text>
<text transform="translate(2149.08,1034.3) rotate(-45)" font-size="5.8" fill="#555" stroke="#555" stroke-width="0.18" text-anchor="end">Sep 4, 2022</text>
<text transform="translate(2205.39,1034.3) rotate(-45)" font-size="5.8" fill="#555" stroke="#555" stroke-width="0.18" text-anchor="end">Sep 11, 2022</text>
<text transform="translate(2261.7,1034.3) rotate(-45)" font-size="5.8" fill="#555" stroke="#555" stroke-width="0.18" text-anchor="end">Sep 18, 2022</text>
<rect x="1584.5" y="1070.4" width="675.7" height="9.2" fill="#d5d9de" stroke="#c8cdd6" stroke-width="0.5"/>
<rect x="1583.6" y="1071" width="2.4" height="8" fill="#cfd6ea" rx="1" stroke="#9fabd4" stroke-width="0.6"/>
<rect x="2258.7" y="1071" width="2.4" height="8" fill="#cfd6ea" rx="1" stroke="#9fabd4" stroke-width="0.6"/>
<text x="1912.7" y="1097.7" font-size="9" fill="#333" stroke="#333" stroke-width="0.18" text-anchor="middle">Date (Week)</text>
<text transform="translate(1547.8,998.5) rotate(-90)" font-size="9" fill="#333" stroke="#333" stroke-width="0.18" text-anchor="middle">Average Spend by Guest</text>
<line x1="1368.5" y1="1151.5" x2="1753.1" y2="1151.5" stroke="#e6e6e6" stroke-width="0.8"/>
<text x="1363.5" y="1153.03" font-size="5.6" fill="#333" stroke="#333" stroke-width="0.18" text-anchor="end">1.5K</text>
<line x1="1368.5" y1="1175.97" x2="1753.1" y2="1175.97" stroke="#e6e6e6" stroke-width="0.8"/>
<text x="1363.5" y="1177.49" font-size="5.6" fill="#333" stroke="#333" stroke-width="0.18" text-anchor="end">1.25K</text>
<line x1="1368.5" y1="1200.43" x2="1753.1" y2="1200.43" stroke="#e6e6e6" stroke-width="0.8"/>
<text x="1363.5" y="1201.96" font-size="5.6" fill="#333" stroke="#333" stroke-width="0.18" text-anchor="end">1K</text>
<line x1="1368.5" y1="1224.9" x2="1753.1" y2="1224.9" stroke="#e6e6e6" stroke-width="0.8"/>
<text x="1363.5" y="1226.43" font-size="5.6" fill="#333" stroke="#333" stroke-width="0.18" text-anchor="end">0.75K</text>
<line x1="1368.5" y1="1249.37" x2="1753.1" y2="1249.37" stroke="#e6e6e6" stroke-width="0.8"/>
<text x="1363.5" y="1250.89" font-size="5.6" fill="#333" stroke="#333" stroke-width="0.18" text-anchor="end">0.5K</text>
<line x1="1368.5" y1="1273.83" x2="1753.1" y2="1273.83" stroke="#e6e6e6" stroke-width="0.8"/>
<text x="1363.5" y="1275.36" font-size="5.6" fill="#333" stroke="#333" stroke-width="0.18" text-anchor="end">0.25K</text>
<text x="1363.5" y="1299.83" font-size="5.6" fill="#333" stroke="#333" stroke-width="0.18" text-anchor="end">0</text>
<rect x="1369.1" y="1225.88" width="5.2" height="72.42" fill="#f58a2b" />
<rect x="1375.73" y="1188.69" width="5.2" height="109.61" fill="#f58a2b" />
<rect x="1382.36" y="1214.62" width="5.2" height="83.68" fill="#f58a2b" />
<rect x="1388.99" y="1239.58" width="5.2" height="58.72" fill="#f58a2b" />
<rect x="1395.62" y="1206.31" width="5.2" height="91.99" fill="#f58a2b" />
<rect x="1402.26" y="1222.94" width="5.2" height="75.36" fill="#f58a2b" />
<rect x="1408.89" y="1229.3" width="5.2" height="69" fill="#f58a2b" />
<rect x="1415.52" y="1196.03" width="5.2" height="102.27" fill="#f58a2b" />
<rect x="1422.15" y="1168.14" width="5.2" height="130.16" fill="#f58a2b" />
<rect x="1428.78" y="1210.22" width="5.2" height="88.08" fill="#f58a2b" />
<rect x="1435.41" y="1238.6" width="5.2" height="59.7" fill="#f58a2b" />
<rect x="1442.04" y="1260.13" width="5.2" height="38.17" fill="#f58a2b" />
<rect x="1448.67" y="1256.22" width="5.2" height="42.08" fill="#f58a2b" />
<rect x="1455.3" y="1262.09" width="5.2" height="36.21" fill="#f58a2b" />
<rect x="1461.93" y="1240.56" width="5.2" height="57.74" fill="#f58a2b" />
<rect x="1468.57" y="1235.18" width="5.2" height="63.12" fill="#f58a2b" />
<rect x="1475.2" y="1219.03" width="5.2" height="79.27" fill="#f58a2b" />
<rect x="1481.83" y="1267.96" width="5.2" height="30.34" fill="#f58a2b" />
<rect x="1488.46" y="1279.22" width="5.2" height="19.08" fill="#f58a2b" />
<rect x="1495.09" y="1276.28" width="5.2" height="22.02" fill="#f58a2b" />
<rect x="1501.72" y="1282.64" width="5.2" height="15.66" fill="#f58a2b" />
<rect x="1508.35" y="1269.92" width="5.2" height="28.38" fill="#f58a2b" />
<rect x="1514.98" y="1217.07" width="5.2" height="81.23" fill="#f58a2b" />
<rect x="1521.61" y="1245.45" width="5.2" height="52.85" fill="#f58a2b" />
<rect x="1528.24" y="1291.94" width="5.2" height="6.36" fill="#f58a2b" />
<rect x="1534.88" y="1290.18" width="5.2" height="8.12" fill="#f58a2b" />
<rect x="1541.51" y="1285.58" width="5.2" height="12.72" fill="#f58a2b" />
<rect x="1548.14" y="1285.58" width="5.2" height="12.72" fill="#f58a2b" />
<rect x="1554.77" y="1274.81" width="5.2" height="23.49" fill="#f58a2b" />
<rect x="1561.4" y="1239.58" width="5.2" height="58.72" fill="#f58a2b" />
<rect x="1568.03" y="1246.43" width="5.2" height="51.87" fill="#f58a2b" />
<rect x="1574.66" y="1293.41" width="5.2" height="4.89" fill="#f58a2b" />
<rect x="1581.29" y="1298.1" width="5.2" height="0.2" fill="#f58a2b" />
<rect x="1587.92" y="1298.1" width="5.2" height="0.2" fill="#f58a2b" />
<rect x="1594.56" y="1298.1" width="5.2" height="0.2" fill="#f58a2b" />
<rect x="1601.19" y="1298.1" width="5.2" height="0.2" fill="#f58a2b" />
<rect x="1607.82" y="1298.1" width="5.2" height="0.2" fill="#f58a2b" />
<rect x="1614.45" y="1297.13" width="5.2" height="1.17" fill="#f58a2b" />
<rect x="1621.08" y="1298.1" width="5.2" height="0.2" fill="#f58a2b" />
<rect x="1627.71" y="1298.1" width="5.2" height="0.2" fill="#f58a2b" />
<rect x="1634.34" y="1298.1" width="5.2" height="0.2" fill="#f58a2b" />
<rect x="1640.97" y="1298.1" width="5.2" height="0.2" fill="#f58a2b" />
<rect x="1647.6" y="1298.1" width="5.2" height="0.2" fill="#f58a2b" />
<rect x="1654.23" y="1298.1" width="5.2" height="0.2" fill="#f58a2b" />
<rect x="1660.87" y="1298.1" width="5.2" height="0.2" fill="#f58a2b" />
<rect x="1667.5" y="1298.1" width="5.2" height="0.2" fill="#f58a2b" />
<rect x="1674.13" y="1298.1" width="5.2" height="0.2" fill="#f58a2b" />
<rect x="1680.76" y="1298.1" width="5.2" height="0.2" fill="#f58a2b" />
<rect x="1687.39" y="1298.1" width="5.2" height="0.2" fill="#f58a2b" />
<rect x="1694.02" y="1296.73" width="5.2" height="1.57" fill="#f58a2b" />
<rect x="1700.65" y="1298.1" width="5.2" height="0.2" fill="#f58a2b" />
<rect x="1707.28" y="1298.1" width="5.2" height="0.2" fill="#f58a2b" />
<rect x="1713.91" y="1298.1" width="5.2" height="0.2" fill="#f58a2b" />
<rect x="1720.54" y="1298.1" width="5.2" height="0.2" fill="#f58a2b" />
<rect x="1727.18" y="1298.1" width="5.2" height="0.2" fill="#f58a2b" />
<rect x="1733.81" y="1298.1" width="5.2" height="0.2" fill="#f58a2b" />
<rect x="1740.44" y="1298.1" width="5.2" height="0.2" fill="#f58a2b" />
<rect x="1747.07" y="1298.1" width="5.2" height="0.2" fill="#f58a2b" />
<line x1="1368.5" y1="1298.7" x2="1753.1" y2="1298.7" stroke="#444" stroke-width="0.9"/>
<line x1="1368.5" y1="1298.8" x2="1368.5" y2="1301.3" stroke="#444" stroke-width="0.7"/>
<line x1="1381.76" y1="1298.8" x2="1381.76" y2="1301.3" stroke="#444" stroke-width="0.7"/>
<line x1="1395.02" y1="1298.8" x2="1395.02" y2="1301.3" stroke="#444" stroke-width="0.7"/>
<line x1="1408.29" y1="1298.8" x2="1408.29" y2="1301.3" stroke="#444" stroke-width="0.7"/>
<line x1="1421.55" y1="1298.8" x2="1421.55" y2="1301.3" stroke="#444" stroke-width="0.7"/>
<line x1="1434.81" y1="1298.8" x2="1434.81" y2="1301.3" stroke="#444" stroke-width="0.7"/>
<line x1="1448.07" y1="1298.8" x2="1448.07" y2="1301.3" stroke="#444" stroke-width="0.7"/>
<line x1="1461.33" y1="1298.8" x2="1461.33" y2="1301.3" stroke="#444" stroke-width="0.7"/>
<line x1="1474.6" y1="1298.8" x2="1474.6" y2="1301.3" stroke="#444" stroke-width="0.7"/>
<line x1="1487.86" y1="1298.8" x2="1487.86" y2="1301.3" stroke="#444" stroke-width="0.7"/>
<line x1="1501.12" y1="1298.8" x2="1501.12" y2="1301.3" stroke="#444" stroke-width="0.7"/>
<line x1="1514.38" y1="1298.8" x2="1514.38" y2="1301.3" stroke="#444" stroke-width="0.7"/>
<line x1="1527.64" y1="1298.8" x2="1527.64" y2="1301.3" stroke="#444" stroke-width="0.7"/>
<line x1="1540.91" y1="1298.8" x2="1540.91" y2="1301.3" stroke="#444" stroke-width="0.7"/>
<line x1="1554.17" y1="1298.8" x2="1554.17" y2="1301.3" stroke="#444" stroke-width="0.7"/>
<line x1="1567.43" y1="1298.8" x2="1567.43" y2="1301.3" stroke="#444" stroke-width="0.7"/>
<line x1="1580.69" y1="1298.8" x2="1580.69" y2="1301.3" stroke="#444" stroke-width="0.7"/>
<line x1="1593.96" y1="1298.8" x2="1593.96" y2="1301.3" stroke="#444" stroke-width="0.7"/>
<line x1="1607.22" y1="1298.8" x2="1607.22" y2="1301.3" stroke="#444" stroke-width="0.7"/>
<line x1="1620.48" y1="1298.8" x2="1620.48" y2="1301.3" stroke="#444" stroke-width="0.7"/>
<line x1="1633.74" y1="1298.8" x2="1633.74" y2="1301.3" stroke="#444" stroke-width="0.7"/>
<line x1="1647" y1="1298.8" x2="1647" y2="1301.3" stroke="#444" stroke-width="0.7"/>
<line x1="1660.27" y1="1298.8" x2="1660.27" y2="1301.3" stroke="#444" stroke-width="0.7"/>
<line x1="1673.53" y1="1298.8" x2="1673.53" y2="1301.3" stroke="#444" stroke-width="0.7"/>
<line x1="1686.79" y1="1298.8" x2="1686.79" y2="1301.3" stroke="#444" stroke-width="0.7"/>
<line x1="1700.05" y1="1298.8" x2="1700.05" y2="1301.3" stroke="#444" stroke-width="0.7"/>
<line x1="1713.31" y1="1298.8" x2="1713.31" y2="1301.3" stroke="#444" stroke-width="0.7"/>
<line x1="1726.58" y1="1298.8" x2="1726.58" y2="1301.3" stroke="#444" stroke-width="0.7"/>
<line x1="1739.84" y1="1298.8" x2="1739.84" y2="1301.3" stroke="#444" stroke-width="0.7"/>
<text x="1371.7" y="1218.24" font-size="5.7" fill="#333" stroke="#333" stroke-width="0.18" text-anchor="middle">0.74K</text>
<text x="1378.33" y="1181.05" font-size="5.7" fill="#333" stroke="#333" stroke-width="0.18" text-anchor="middle">1.12K</text>
<text x="1398.22" y="1198.67" font-size="5.7" fill="#333" stroke="#333" stroke-width="0.18" text-anchor="middle">0.94K</text>
<text x="1404.86" y="1215.3" font-size="5.7" fill="#333" stroke="#333" stroke-width="0.18" text-anchor="middle">0.77K</text>
<text x="1424.75" y="1160.5" font-size="5.7" fill="#333" stroke="#333" stroke-width="0.18" text-anchor="middle">1.33K</text>
<text x="1431.38" y="1202.58" font-size="5.7" fill="#333" stroke="#333" stroke-width="0.18" text-anchor="middle">0.9K</text>
<text x="1438.01" y="1230.96" font-size="5.7" fill="#333" stroke="#333" stroke-width="0.18" text-anchor="middle">0.61K</text>
<text x="1444.64" y="1252.49" font-size="5.7" fill="#333" stroke="#333" stroke-width="0.18" text-anchor="middle">0.39K</text>
<text x="1464.53" y="1232.92" font-size="5.7" fill="#333" stroke="#333" stroke-width="0.18" text-anchor="middle">0.59K</text>
<text x="1477.8" y="1211.39" font-size="5.7" fill="#333" stroke="#333" stroke-width="0.18" text-anchor="middle">0.81K</text>
<text x="1484.43" y="1260.32" font-size="5.7" fill="#333" stroke="#333" stroke-width="0.18" text-anchor="middle">0.31K</text>
<text x="1510.95" y="1262.28" font-size="5.7" fill="#333" stroke="#333" stroke-width="0.18" text-anchor="middle">0.29K</text>
<text x="1517.58" y="1209.43" font-size="5.7" fill="#333" stroke="#333" stroke-width="0.18" text-anchor="middle">0.83K</text>
<text x="1524.21" y="1237.81" font-size="5.7" fill="#333" stroke="#333" stroke-width="0.18" text-anchor="middle">0.54K</text>
<text x="1530.84" y="1284.3" font-size="5.7" fill="#333" stroke="#333" stroke-width="0.18" text-anchor="middle">0.07K</text>
<text x="1557.37" y="1267.17" font-size="5.7" fill="#333" stroke="#333" stroke-width="0.18" text-anchor="middle">0.24K</text>
<text x="1564" y="1231.94" font-size="5.7" fill="#333" stroke="#333" stroke-width="0.18" text-anchor="middle">0.6K</text>
<text x="1577.26" y="1285.77" font-size="5.7" fill="#333" stroke="#333" stroke-width="0.18" text-anchor="middle">0.06K</text>
<text x="1603.79" y="1290.66" font-size="5.7" fill="#333" stroke="#333" stroke-width="0.18" text-anchor="middle">0K</text>
<text x="1623.68" y="1290.66" font-size="5.7" fill="#333" stroke="#333" stroke-width="0.18" text-anchor="middle">0K</text>
<text x="1643.57" y="1290.66" font-size="5.7" fill="#333" stroke="#333" stroke-width="0.18" text-anchor="middle">0K</text>
<text x="1663.47" y="1290.66" font-size="5.7" fill="#333" stroke="#333" stroke-width="0.18" text-anchor="middle">0K</text>
<text x="1689.99" y="1290.66" font-size="5.7" fill="#333" stroke="#333" stroke-width="0.18" text-anchor="middle">0K</text>
<text x="1716.51" y="1290.66" font-size="5.7" fill="#333" stroke="#333" stroke-width="0.18" text-anchor="middle">0K</text>
<text x="1736.41" y="1290.66" font-size="5.7" fill="#333" stroke="#333" stroke-width="0.18" text-anchor="middle">0K</text>
<text transform="translate(1373,1304.8) rotate(-45)" font-size="6" fill="#555" stroke="#555" stroke-width="0.18" text-anchor="end">Jul 1, 2022</text>
<text transform="translate(1386.26,1304.8) rotate(-45)" font-size="6" fill="#555" stroke="#555" stroke-width="0.18" text-anchor="end">Jul 3, 2022</text>
<text transform="translate(1399.52,1304.8) rotate(-45)" font-size="6" fill="#555" stroke="#555" stroke-width="0.18" text-anchor="end">Jul 5, 2022</text>
<text transform="translate(1412.79,1304.8) rotate(-45)" font-size="6" fill="#555" stroke="#555" stroke-width="0.18" text-anchor="end">Jul 7, 2022</text>
<text transform="translate(1426.05,1304.8) rotate(-45)" font-size="6" fill="#555" stroke="#555" stroke-width="0.18" text-anchor="end">Jul 9, 2022</text>
<text transform="translate(1439.31,1304.8) rotate(-45)" font-size="6" fill="#555" stroke="#555" stroke-width="0.18" text-anchor="end">Jul 11, 2022</text>
<text transform="translate(1452.57,1304.8) rotate(-45)" font-size="6" fill="#555" stroke="#555" stroke-width="0.18" text-anchor="end">Jul 13, 2022</text>
<text transform="translate(1465.83,1304.8) rotate(-45)" font-size="6" fill="#555" stroke="#555" stroke-width="0.18" text-anchor="end">Jul 15, 2022</text>
<text transform="translate(1479.1,1304.8) rotate(-45)" font-size="6" fill="#555" stroke="#555" stroke-width="0.18" text-anchor="end">Jul 17, 2022</text>
<text transform="translate(1492.36,1304.8) rotate(-45)" font-size="6" fill="#555" stroke="#555" stroke-width="0.18" text-anchor="end">Jul 19, 2022</text>
<text transform="translate(1505.62,1304.8) rotate(-45)" font-size="6" fill="#555" stroke="#555" stroke-width="0.18" text-anchor="end">Jul 21, 2022</text>
<text transform="translate(1518.88,1304.8) rotate(-45)" font-size="6" fill="#555" stroke="#555" stroke-width="0.18" text-anchor="end">Jul 23, 2022</text>
<text transform="translate(1532.14,1304.8) rotate(-45)" font-size="6" fill="#555" stroke="#555" stroke-width="0.18" text-anchor="end">Jul 25, 2022</text>
<text transform="translate(1545.41,1304.8) rotate(-45)" font-size="6" fill="#555" stroke="#555" stroke-width="0.18" text-anchor="end">Jul 27, 2022</text>
<text transform="translate(1558.67,1304.8) rotate(-45)" font-size="6" fill="#555" stroke="#555" stroke-width="0.18" text-anchor="end">Jul 29, 2022</text>
<text transform="translate(1571.93,1304.8) rotate(-45)" font-size="6" fill="#555" stroke="#555" stroke-width="0.18" text-anchor="end">Jul 31, 2022</text>
<text transform="translate(1585.19,1304.8) rotate(-45)" font-size="6" fill="#555" stroke="#555" stroke-width="0.18" text-anchor="end">Aug 2, 2022</text>
<text transform="translate(1598.46,1304.8) rotate(-45)" font-size="6" fill="#555" stroke="#555" stroke-width="0.18" text-anchor="end">Aug 5, 2022</text>
<text transform="translate(1611.72,1304.8) rotate(-45)" font-size="6" fill="#555" stroke="#555" stroke-width="0.18" text-anchor="end">Aug 11, 2022</text>
<text transform="translate(1624.98,1304.8) rotate(-45)" font-size="6" fill="#555" stroke="#555" stroke-width="0.18" text-anchor="end">Aug 16, 2022</text>
<text transform="translate(1638.24,1304.8) rotate(-45)" font-size="6" fill="#555" stroke="#555" stroke-width="0.18" text-anchor="end">Aug 24, 2022</text>
<text transform="translate(1651.5,1304.8) rotate(-45)" font-size="6" fill="#555" stroke="#555" stroke-width="0.18" text-anchor="end">Aug 29, 2022</text>
<text transform="translate(1664.77,1304.8) rotate(-45)" font-size="6" fill="#555" stroke="#555" stroke-width="0.18" text-anchor="end">Aug 31, 2022</text>
<text transform="translate(1678.03,1304.8) rotate(-45)" font-size="6" fill="#555" stroke="#555" stroke-width="0.18" text-anchor="end">Sep 6, 2022</text>
<text transform="translate(1691.29,1304.8) rotate(-45)" font-size="6" fill="#555" stroke="#555" stroke-width="0.18" text-anchor="end">Sep 8, 2022</text>
<text transform="translate(1704.55,1304.8) rotate(-45)" font-size="6" fill="#555" stroke="#555" stroke-width="0.18" text-anchor="end">Sep 10, 2022</text>
<text transform="translate(1717.81,1304.8) rotate(-45)" font-size="6" fill="#555" stroke="#555" stroke-width="0.18" text-anchor="end">Sep 13, 2022</text>
<text transform="translate(1731.08,1304.8) rotate(-45)" font-size="6" fill="#555" stroke="#555" stroke-width="0.18" text-anchor="end">Sep 15, 2022</text>
<text transform="translate(1744.34,1304.8) rotate(-45)" font-size="6" fill="#555" stroke="#555" stroke-width="0.18" text-anchor="end">Sep 20, 2022</text>
<rect x="1368.5" y="1341.4" width="384.6" height="9.2" fill="#f2f2f2" />
<rect x="1380.5" y="1341.4" width="360.6" height="9.2" fill="#d3d7dc" />
<rect x="1559.3" y="1345" width="3" height="2" fill="#e6e8ec" />
<text x="1552.5" y="1367.6" font-size="9" fill="#333" stroke="#333" stroke-width="0.18" text-anchor="middle">Date</text>
<text transform="translate(1334.3,1254) rotate(-90)" font-size="9" fill="#333" stroke="#333" stroke-width="0.18" text-anchor="middle">Guests</text>
<line x1="1825.3" y1="1151.3" x2="2260.6" y2="1151.3" stroke="#e6e6e6" stroke-width="0.8"/>
<text x="1820.3" y="1152.83" font-size="5.6" fill="#333" stroke="#333" stroke-width="0.18" text-anchor="end">3.5K</text>
<line x1="1825.3" y1="1172.3" x2="2260.6" y2="1172.3" stroke="#e6e6e6" stroke-width="0.8"/>
<text x="1820.3" y="1173.83" font-size="5.6" fill="#333" stroke="#333" stroke-width="0.18" text-anchor="end">3K</text>
<line x1="1825.3" y1="1193.3" x2="2260.6" y2="1193.3" stroke="#e6e6e6" stroke-width="0.8"/>
<text x="1820.3" y="1194.83" font-size="5.6" fill="#333" stroke="#333" stroke-width="0.18" text-anchor="end">2.5K</text>
<line x1="1825.3" y1="1214.3" x2="2260.6" y2="1214.3" stroke="#e6e6e6" stroke-width="0.8"/>
<text x="1820.3" y="1215.83" font-size="5.6" fill="#333" stroke="#333" stroke-width="0.18" text-anchor="end">2K</text>
<line x1="1825.3" y1="1235.3" x2="2260.6" y2="1235.3" stroke="#e6e6e6" stroke-width="0.8"/>
<text x="1820.3" y="1236.83" font-size="5.6" fill="#333" stroke="#333" stroke-width="0.18" text-anchor="end">1.5K</text>
<line x1="1825.3" y1="1256.3" x2="2260.6" y2="1256.3" stroke="#e6e6e6" stroke-width="0.8"/>
<text x="1820.3" y="1257.83" font-size="5.6" fill="#333" stroke="#333" stroke-width="0.18" text-anchor="end">1K</text>
<line x1="1825.3" y1="1277.3" x2="2260.6" y2="1277.3" stroke="#e6e6e6" stroke-width="0.8"/>
<text x="1820.3" y="1278.83" font-size="5.6" fill="#333" stroke="#333" stroke-width="0.18" text-anchor="end">0.5K</text>
<text x="1820.3" y="1299.83" font-size="5.6" fill="#333" stroke="#333" stroke-width="0.18" text-anchor="end">0</text>
<polygon points="2151.78,1298.3 2178.98,1294.3 2206.19,1294.3 2260.6,1295.1 2260.6,1298.3" fill="#fbd3a8" />
<line x1="1825.3" y1="1298.7" x2="2260.6" y2="1298.7" stroke="#444" stroke-width="0.9"/>
<line x1="1825.3" y1="1295.7" x2="1825.3" y2="1298.9" stroke="#444" stroke-width="0.7"/>
<line x1="1852.51" y1="1295.7" x2="1852.51" y2="1298.9" stroke="#444" stroke-width="0.7"/>
<line x1="1879.71" y1="1295.7" x2="1879.71" y2="1298.9" stroke="#444" stroke-width="0.7"/>
<line x1="1906.92" y1="1295.7" x2="1906.92" y2="1298.9" stroke="#444" stroke-width="0.7"/>
<line x1="1934.12" y1="1295.7" x2="1934.12" y2="1298.9" stroke="#444" stroke-width="0.7"/>
<line x1="1961.33" y1="1295.7" x2="1961.33" y2="1298.9" stroke="#444" stroke-width="0.7"/>
<line x1="1988.54" y1="1295.7" x2="1988.54" y2="1298.9" stroke="#444" stroke-width="0.7"/>
<line x1="2015.74" y1="1295.7" x2="2015.74" y2="1298.9" stroke="#444" stroke-width="0.7"/>
<line x1="2042.95" y1="1295.7" x2="2042.95" y2="1298.9" stroke="#444" stroke-width="0.7"/>
<line x1="2070.16" y1="1295.7" x2="2070.16" y2="1298.9" stroke="#444" stroke-width="0.7"/>
<line x1="2097.36" y1="1295.7" x2="2097.36" y2="1298.9" stroke="#444" stroke-width="0.7"/>
<line x1="2124.57" y1="1295.7" x2="2124.57" y2="1298.9" stroke="#444" stroke-width="0.7"/>
<line x1="2151.78" y1="1295.7" x2="2151.78" y2="1298.9" stroke="#444" stroke-width="0.7"/>
<line x1="2178.98" y1="1295.7" x2="2178.98" y2="1298.9" stroke="#444" stroke-width="0.7"/>
<line x1="2206.19" y1="1295.7" x2="2206.19" y2="1298.9" stroke="#444" stroke-width="0.7"/>
<line x1="2233.39" y1="1295.7" x2="2233.39" y2="1298.9" stroke="#444" stroke-width="0.7"/>
<line x1="2260.6" y1="1295.7" x2="2260.6" y2="1298.9" stroke="#444" stroke-width="0.7"/>
<polyline points="1825.3,1255.63 1852.51,1164.74 1879.71,1228.87 1906.92,1236.14 1934.12,1261.21 1961.33,1281.29 1988.54,1298.3 2015.74,1298.3 2042.95,1298.3 2070.16,1297.88 2097.36,1297.67 2124.57,1297.88 2151.78,1298.3 2178.98,1298.3 2206.19,1298.3 2233.39,1298.3 2260.6,1298.3" fill="none" stroke="#f7922d" stroke-width="1.2" stroke-linejoin="round" />
<text transform="translate(1826.8,1304.3) rotate(-45)" font-size="5.8" fill="#555" stroke="#555" stroke-width="0.18" text-anchor="end">Jun 26, 2022</text>
<text transform="translate(1854.01,1304.3) rotate(-45)" font-size="5.8" fill="#555" stroke="#555" stroke-width="0.18" text-anchor="end">Jul 3, 2022</text>
<text transform="translate(1881.21,1304.3) rotate(-45)" font-size="5.8" fill="#555" stroke="#555" stroke-width="0.18" text-anchor="end">Jul 10, 2022</text>
<text transform="translate(1908.42,1304.3) rotate(-45)" font-size="5.8" fill="#555" stroke="#555" stroke-width="0.18" text-anchor="end">Jul 17, 2022</text>
<text transform="translate(1935.62,1304.3) rotate(-45)" font-size="5.8" fill="#555" stroke="#555" stroke-width="0.18" text-anchor="end">Jul 24, 2022</text>
<text transform="translate(1962.83,1304.3) rotate(-45)" font-size="5.8" fill="#555" stroke="#555" stroke-width="0.18" text-anchor="end">Jul 31, 2022</text>
<text transform="translate(1990.04,1304.3) rotate(-45)" font-size="5.8" fill="#555" stroke="#555" stroke-width="0.18" text-anchor="end">Aug 7, 2022</text>
<text transform="translate(2017.24,1304.3) rotate(-45)" font-size="5.8" fill="#555" stroke="#555" stroke-width="0.18" text-anchor="end">Aug 14, 2022</text>
<text transform="translate(2044.45,1304.3) rotate(-45)" font-size="5.8" fill="#555" stroke="#555" stroke-width="0.18" text-anchor="end">Aug 21, 2022</text>
<text transform="translate(2071.66,1304.3) rotate(-45)" font-size="5.8" fill="#555" stroke="#555" stroke-width="0.18" text-anchor="end">Aug 28, 2022</text>
<text transform="translate(2098.86,1304.3) rotate(-45)" font-size="5.8" fill="#555" stroke="#555" stroke-width="0.18" text-anchor="end">Sep 4, 2022</text>
<text transform="translate(2126.07,1304.3) rotate(-45)" font-size="5.8" fill="#555" stroke="#555" stroke-width="0.18" text-anchor="end">Sep 11, 2022</text>
<text transform="translate(2153.28,1304.3) rotate(-45)" font-size="5.8" fill="#555" stroke="#555" stroke-width="0.18" text-anchor="end">Sep 18, 2022</text>
<text transform="translate(2180.48,1304.3) rotate(-45)" font-size="5.8" fill="#555" stroke="#555" stroke-width="0.18" text-anchor="end">Sep 25, 2022</text>
<text transform="translate(2207.69,1304.3) rotate(-45)" font-size="5.8" fill="#555" stroke="#555" stroke-width="0.18" text-anchor="end">Oct 2, 2022</text>
<text transform="translate(2234.89,1304.3) rotate(-45)" font-size="5.8" fill="#555" stroke="#555" stroke-width="0.18" text-anchor="end">Oct 9, 2022</text>
<text transform="translate(2262.1,1304.3) rotate(-45)" font-size="5.8" fill="#555" stroke="#555" stroke-width="0.18" text-anchor="end">Oct 16, 2022</text>
<rect x="1825.3" y="1340.4" width="435.3" height="8.4" fill="#d5d9de" stroke="#c8cdd6" stroke-width="0.5"/>
<rect x="1824.4" y="1341" width="2.4" height="7.2" fill="#cfd6ea" rx="1" stroke="#9fabd4" stroke-width="0.6"/>
<rect x="2259.1" y="1341" width="2.4" height="7.2" fill="#cfd6ea" rx="1" stroke="#9fabd4" stroke-width="0.6"/>
<text x="2032.8" y="1367.2" font-size="9" fill="#333" stroke="#333" stroke-width="0.18" text-anchor="middle">Date (Week)</text>
<text transform="translate(1788.4,1254.2) rotate(-90)" font-size="9" fill="#333" stroke="#333" stroke-width="0.18" text-anchor="middle">New Cards</text>
<line x1="1368.5" y1="1421.5" x2="1619.5" y2="1421.5" stroke="#e6e6e6" stroke-width="0.8"/>
<text x="1363.5" y="1423.03" font-size="5.6" fill="#333" stroke="#333" stroke-width="0.18" text-anchor="end">6K</text>
<line x1="1368.5" y1="1453.43" x2="1619.5" y2="1453.43" stroke="#e6e6e6" stroke-width="0.8"/>
<text x="1363.5" y="1454.96" font-size="5.6" fill="#333" stroke="#333" stroke-width="0.18" text-anchor="end">4K</text>
<line x1="1368.5" y1="1485.37" x2="1619.5" y2="1485.37" stroke="#e6e6e6" stroke-width="0.8"/>
<text x="1363.5" y="1486.89" font-size="5.6" fill="#333" stroke="#333" stroke-width="0.18" text-anchor="end">2K</text>
<text x="1363.5" y="1518.83" font-size="5.6" fill="#333" stroke="#333" stroke-width="0.18" text-anchor="end">0</text>
<rect x="1370.3" y="1488.16" width="15.6" height="16.21" fill="#8fd7ec" />
<rect x="1370.3" y="1504.37" width="15.6" height="12.93" fill="#f4a153" />
<rect x="1389.61" y="1426.77" width="15.6" height="50.77" fill="#8fd7ec" />
<rect x="1389.61" y="1477.54" width="15.6" height="39.76" fill="#f4a153" />
<rect x="1408.92" y="1461.26" width="15.6" height="25.87" fill="#8fd7ec" />
<rect x="1408.92" y="1487.12" width="15.6" height="30.18" fill="#f4a153" />
<rect x="1428.22" y="1474.19" width="15.6" height="23.95" fill="#8fd7ec" />
<rect x="1428.22" y="1498.14" width="15.6" height="19.16" fill="#f4a153" />
<rect x="1447.53" y="1490.16" width="15.6" height="14.21" fill="#8fd7ec" />
<rect x="1447.53" y="1504.37" width="15.6" height="12.93" fill="#f4a153" />
<rect x="1466.84" y="1507.72" width="15.6" height="6.39" fill="#8fd7ec" />
<rect x="1466.84" y="1514.11" width="15.6" height="3.19" fill="#f4a153" />
<line x1="1368.5" y1="1517.7" x2="1619.5" y2="1517.7" stroke="#333" stroke-width="0.9"/>
<line x1="1368.5" y1="1517.8" x2="1368.5" y2="1520.3" stroke="#333" stroke-width="0.7"/>
<line x1="1387.81" y1="1517.8" x2="1387.81" y2="1520.3" stroke="#333" stroke-width="0.7"/>
<line x1="1407.12" y1="1517.8" x2="1407.12" y2="1520.3" stroke="#333" stroke-width="0.7"/>
<line x1="1426.42" y1="1517.8" x2="1426.42" y2="1520.3" stroke="#333" stroke-width="0.7"/>
<line x1="1445.73" y1="1517.8" x2="1445.73" y2="1520.3" stroke="#333" stroke-width="0.7"/>
<line x1="1465.04" y1="1517.8" x2="1465.04" y2="1520.3" stroke="#333" stroke-width="0.7"/>
<line x1="1484.35" y1="1517.8" x2="1484.35" y2="1520.3" stroke="#333" stroke-width="0.7"/>
<line x1="1503.65" y1="1517.8" x2="1503.65" y2="1520.3" stroke="#333" stroke-width="0.7"/>
<line x1="1522.96" y1="1517.8" x2="1522.96" y2="1520.3" stroke="#333" stroke-width="0.7"/>
<line x1="1542.27" y1="1517.8" x2="1542.27" y2="1520.3" stroke="#333" stroke-width="0.7"/>
<line x1="1561.58" y1="1517.8" x2="1561.58" y2="1520.3" stroke="#333" stroke-width="0.7"/>
<line x1="1580.88" y1="1517.8" x2="1580.88" y2="1520.3" stroke="#333" stroke-width="0.7"/>
<line x1="1600.19" y1="1517.8" x2="1600.19" y2="1520.3" stroke="#333" stroke-width="0.7"/>
<line x1="1619.5" y1="1517.8" x2="1619.5" y2="1520.3" stroke="#333" stroke-width="0.7"/>
<text transform="translate(1380.65,1523.8) rotate(-45)" font-size="6.1" fill="#555" stroke="#555" stroke-width="0.18" text-anchor="end">Jun 26, 2022</text>
<text transform="translate(1399.96,1523.8) rotate(-45)" font-size="6.1" fill="#555" stroke="#555" stroke-width="0.18" text-anchor="end">Jul 3, 2022</text>
<text transform="translate(1419.27,1523.8) rotate(-45)" font-size="6.1" fill="#555" stroke="#555" stroke-width="0.18" text-anchor="end">Jul 10, 2022</text>
<text transform="translate(1438.58,1523.8) rotate(-45)" font-size="6.1" fill="#555" stroke="#555" stroke-width="0.18" text-anchor="end">Jul 17, 2022</text>
<text transform="translate(1457.88,1523.8) rotate(-45)" font-size="6.1" fill="#555" stroke="#555" stroke-width="0.18" text-anchor="end">Jul 24, 2022</text>
<text transform="translate(1477.19,1523.8) rotate(-45)" font-size="6.1" fill="#555" stroke="#555" stroke-width="0.18" text-anchor="end">Jul 31, 2022</text>
<text transform="translate(1496.5,1523.8) rotate(-45)" font-size="6.1" fill="#555" stroke="#555" stroke-width="0.18" text-anchor="end">Aug 7, 2022</text>
<text transform="translate(1515.81,1523.8) rotate(-45)" font-size="6.1" fill="#555" stroke="#555" stroke-width="0.18" text-anchor="end">Aug 14, 2022</text>
<text transform="translate(1535.12,1523.8) rotate(-45)" font-size="6.1" fill="#555" stroke="#555" stroke-width="0.18" text-anchor="end">Aug 21, 2022</text>
<text transform="translate(1554.42,1523.8) rotate(-45)" font-size="6.1" fill="#555" stroke="#555" stroke-width="0.18" text-anchor="end">Aug 28, 2022</text>
<text transform="translate(1573.73,1523.8) rotate(-45)" font-size="6.1" fill="#555" stroke="#555" stroke-width="0.18" text-anchor="end">Sep 4, 2022</text>
<text transform="translate(1593.04,1523.8) rotate(-45)" font-size="6.1" fill="#555" stroke="#555" stroke-width="0.18" text-anchor="end">Sep 11, 2022</text>
<text transform="translate(1612.35,1523.8) rotate(-45)" font-size="6.1" fill="#555" stroke="#555" stroke-width="0.18" text-anchor="end">Sep 18, 2022</text>
<rect x="1368.5" y="1560.2" width="251" height="9.1" fill="#f2f2f2" />
<rect x="1380.5" y="1560.2" width="227" height="9.1" fill="#d3d7dc" />
<rect x="1492.5" y="1563.75" width="3" height="2" fill="#e6e8ec" />
<text x="1485.9" y="1586.3" font-size="9" fill="#333" stroke="#333" stroke-width="0.18" text-anchor="middle">Date (Week)</text>
<text transform="translate(1334.3,1510.7) rotate(-90)" font-size="9" fill="#333" stroke="#333" stroke-width="0.18" text-anchor="middle">Active Guests</text>
<rect x="1343.1" y="1602.9" width="5.9" height="5.9" fill="#f4a153" />
<text x="1352.5" y="1608.14" font-size="6.8" fill="#888" stroke="#888" stroke-width="0.18" text-anchor="start">Returning</text>
<rect x="1395.6" y="1602.9" width="5.9" height="5.9" fill="#8fd7ec" />
<text x="1404.5" y="1608.14" font-size="6.8" fill="#888" stroke="#888" stroke-width="0.18" text-anchor="start">New</text>
<line x1="1673.5" y1="1433.3" x2="1939.5" y2="1433.3" stroke="#e6e6e6" stroke-width="0.8"/>
<text x="1668.5" y="1434.83" font-size="5.6" fill="#333" stroke="#333" stroke-width="0.18" text-anchor="end">6K</text>
<line x1="1673.5" y1="1454.3" x2="1939.5" y2="1454.3" stroke="#e6e6e6" stroke-width="0.8"/>
<text x="1668.5" y="1455.83" font-size="5.6" fill="#333" stroke="#333" stroke-width="0.18" text-anchor="end">5K</text>
<line x1="1673.5" y1="1475.3" x2="1939.5" y2="1475.3" stroke="#e6e6e6" stroke-width="0.8"/>
<text x="1668.5" y="1476.83" font-size="5.6" fill="#333" stroke="#333" stroke-width="0.18" text-anchor="end">4K</text>
<line x1="1673.5" y1="1496.3" x2="1939.5" y2="1496.3" stroke="#e6e6e6" stroke-width="0.8"/>
<text x="1668.5" y="1497.83" font-size="5.6" fill="#333" stroke="#333" stroke-width="0.18" text-anchor="end">3K</text>
<line x1="1673.5" y1="1517.3" x2="1939.5" y2="1517.3" stroke="#e6e6e6" stroke-width="0.8"/>
<text x="1668.5" y="1518.83" font-size="5.6" fill="#333" stroke="#333" stroke-width="0.18" text-anchor="end">2K</text>
<line x1="1673.5" y1="1538.3" x2="1939.5" y2="1538.3" stroke="#e6e6e6" stroke-width="0.8"/>
<text x="1668.5" y="1539.83" font-size="5.6" fill="#333" stroke="#333" stroke-width="0.18" text-anchor="end">1K</text>
<text x="1668.5" y="1560.83" font-size="5.6" fill="#333" stroke="#333" stroke-width="0.18" text-anchor="end">0</text>
<polygon points="1873,1559.3 1889.62,1556.7 1939.5,1557.1 1939.5,1559.3" fill="#fbd3a8" />
<line x1="1673.5" y1="1559.7" x2="1939.5" y2="1559.7" stroke="#444" stroke-width="0.9"/>
<line x1="1673.5" y1="1556.7" x2="1673.5" y2="1559.9" stroke="#444" stroke-width="0.7"/>
<line x1="1690.12" y1="1556.7" x2="1690.12" y2="1559.9" stroke="#444" stroke-width="0.7"/>
<line x1="1706.75" y1="1556.7" x2="1706.75" y2="1559.9" stroke="#444" stroke-width="0.7"/>
<line x1="1723.38" y1="1556.7" x2="1723.38" y2="1559.9" stroke="#444" stroke-width="0.7"/>
<line x1="1740" y1="1556.7" x2="1740" y2="1559.9" stroke="#444" stroke-width="0.7"/>
<line x1="1756.62" y1="1556.7" x2="1756.62" y2="1559.9" stroke="#444" stroke-width="0.7"/>
<line x1="1773.25" y1="1556.7" x2="1773.25" y2="1559.9" stroke="#444" stroke-width="0.7"/>
<line x1="1789.88" y1="1556.7" x2="1789.88" y2="1559.9" stroke="#444" stroke-width="0.7"/>
<line x1="1806.5" y1="1556.7" x2="1806.5" y2="1559.9" stroke="#444" stroke-width="0.7"/>
<line x1="1823.12" y1="1556.7" x2="1823.12" y2="1559.9" stroke="#444" stroke-width="0.7"/>
<line x1="1839.75" y1="1556.7" x2="1839.75" y2="1559.9" stroke="#444" stroke-width="0.7"/>
<line x1="1856.38" y1="1556.7" x2="1856.38" y2="1559.9" stroke="#444" stroke-width="0.7"/>
<line x1="1873" y1="1556.7" x2="1873" y2="1559.9" stroke="#444" stroke-width="0.7"/>
<line x1="1889.62" y1="1556.7" x2="1889.62" y2="1559.9" stroke="#444" stroke-width="0.7"/>
<line x1="1906.25" y1="1556.7" x2="1906.25" y2="1559.9" stroke="#444" stroke-width="0.7"/>
<line x1="1922.88" y1="1556.7" x2="1922.88" y2="1559.9" stroke="#444" stroke-width="0.7"/>
<line x1="1939.5" y1="1556.7" x2="1939.5" y2="1559.9" stroke="#444" stroke-width="0.7"/>
<polyline points="1673.5,1521.08 1690.12,1451.15 1706.75,1492.52 1723.38,1505.33 1740,1529.27 1756.62,1547.33 1773.25,1559.3 1789.88,1559.09 1806.5,1559.3 1823.12,1559.09 1839.75,1558.88 1856.38,1559.09 1873,1559.09 1889.62,1559.3 1906.25,1559.3 1922.88,1559.3 1939.5,1559.3" fill="none" stroke="#f7922d" stroke-width="1.2" stroke-linejoin="round" />
<text x="1681.5" y="1515.34" font-size="5.4" fill="#f7922d" stroke="#f7922d" stroke-width="0.18" text-anchor="middle">1.82K</text>
<text x="1690.12" y="1445.41" font-size="5.4" fill="#f7922d" stroke="#f7922d" stroke-width="0.18" text-anchor="middle">5.15K</text>
<text x="1706.75" y="1486.78" font-size="5.4" fill="#f7922d" stroke="#f7922d" stroke-width="0.18" text-anchor="middle">3.18K</text>
<text x="1723.38" y="1499.59" font-size="5.4" fill="#f7922d" stroke="#f7922d" stroke-width="0.18" text-anchor="middle">2.57K</text>
<text x="1740" y="1523.53" font-size="5.4" fill="#f7922d" stroke="#f7922d" stroke-width="0.18" text-anchor="middle">1.43K</text>
<text x="1756.62" y="1541.59" font-size="5.4" fill="#f7922d" stroke="#f7922d" stroke-width="0.18" text-anchor="middle">0.57K</text>
<text x="1773.25" y="1553.56" font-size="5.4" fill="#f7922d" stroke="#f7922d" stroke-width="0.18" text-anchor="middle">0K</text>
<text x="1789.88" y="1553.56" font-size="5.4" fill="#f7922d" stroke="#f7922d" stroke-width="0.18" text-anchor="middle">0.01K</text>
<text x="1806.5" y="1553.56" font-size="5.4" fill="#f7922d" stroke="#f7922d" stroke-width="0.18" text-anchor="middle">0K</text>
<text x="1823.12" y="1553.56" font-size="5.4" fill="#f7922d" stroke="#f7922d" stroke-width="0.18" text-anchor="middle">0.01K</text>
<text x="1839.75" y="1553.56" font-size="5.4" fill="#f7922d" stroke="#f7922d" stroke-width="0.18" text-anchor="middle">0.02K</text>
<text x="1856.38" y="1553.56" font-size="5.4" fill="#f7922d" stroke="#f7922d" stroke-width="0.18" text-anchor="middle">0.01K</text>
<text x="1873" y="1553.56" font-size="5.4" fill="#f7922d" stroke="#f7922d" stroke-width="0.18" text-anchor="middle">0.01K</text>
<text x="1889.62" y="1553.56" font-size="5.4" fill="#f7922d" stroke="#f7922d" stroke-width="0.18" text-anchor="middle">0</text>
<text x="1906.25" y="1553.56" font-size="5.4" fill="#f7922d" stroke="#f7922d" stroke-width="0.18" text-anchor="middle">0</text>
<text x="1922.88" y="1553.56" font-size="5.4" fill="#f7922d" stroke="#f7922d" stroke-width="0.18" text-anchor="middle">0</text>
<text x="1937.5" y="1553.56" font-size="5.4" fill="#f7922d" stroke="#f7922d" stroke-width="0.18" text-anchor="middle">0</text>
<text transform="translate(1675,1565.3) rotate(-45)" font-size="5.8" fill="#555" stroke="#555" stroke-width="0.18" text-anchor="end">Jun 26, 2022</text>
<text transform="translate(1691.62,1565.3) rotate(-45)" font-size="5.8" fill="#555" stroke="#555" stroke-width="0.18" text-anchor="end">Jul 3, 2022</text>
<text transform="translate(1708.25,1565.3) rotate(-45)" font-size="5.8" fill="#555" stroke="#555" stroke-width="0.18" text-anchor="end">Jul 10, 2022</text>
<text transform="translate(1724.88,1565.3) rotate(-45)" font-size="5.8" fill="#555" stroke="#555" stroke-width="0.18" text-anchor="end">Jul 17, 2022</text>
<text transform="translate(1741.5,1565.3) rotate(-45)" font-size="5.8" fill="#555" stroke="#555" stroke-width="0.18" text-anchor="end">Jul 24, 2022</text>
<text transform="translate(1758.12,1565.3) rotate(-45)" font-size="5.8" fill="#555" stroke="#555" stroke-width="0.18" text-anchor="end">Jul 31, 2022</text>
<text transform="translate(1774.75,1565.3) rotate(-45)" font-size="5.8" fill="#555" stroke="#555" stroke-width="0.18" text-anchor="end">Aug 7, 2022</text>
<text transform="translate(1791.38,1565.3) rotate(-45)" font-size="5.8" fill="#555" stroke="#555" stroke-width="0.18" text-anchor="end">Aug 14, 2022</text>
<text transform="translate(1808,1565.3) rotate(-45)" font-size="5.8" fill="#555" stroke="#555" stroke-width="0.18" text-anchor="end">Aug 21, 2022</text>
<text transform="translate(1824.62,1565.3) rotate(-45)" font-size="5.8" fill="#555" stroke="#555" stroke-width="0.18" text-anchor="end">Aug 28, 2022</text>
<text transform="translate(1841.25,1565.3) rotate(-45)" font-size="5.8" fill="#555" stroke="#555" stroke-width="0.18" text-anchor="end">Sep 4, 2022</text>
<text transform="translate(1857.88,1565.3) rotate(-45)" font-size="5.8" fill="#555" stroke="#555" stroke-width="0.18" text-anchor="end">Sep 11, 2022</text>
<text transform="translate(1874.5,1565.3) rotate(-45)" font-size="5.8" fill="#555" stroke="#555" stroke-width="0.18" text-anchor="end">Sep 18, 2022</text>
<text transform="translate(1891.12,1565.3) rotate(-45)" font-size="5.8" fill="#555" stroke="#555" stroke-width="0.18" text-anchor="end">Sep 25, 2022</text>
<text transform="translate(1907.75,1565.3) rotate(-45)" font-size="5.8" fill="#555" stroke="#555" stroke-width="0.18" text-anchor="end">Oct 2, 2022</text>
<text transform="translate(1924.38,1565.3) rotate(-45)" font-size="5.8" fill="#555" stroke="#555" stroke-width="0.18" text-anchor="end">Oct 9, 2022</text>
<text transform="translate(1941,1565.3) rotate(-45)" font-size="5.8" fill="#555" stroke="#555" stroke-width="0.18" text-anchor="end">Oct 16, 2022</text>
<rect x="1673.5" y="1601.6" width="266" height="9.1" fill="#d5d9de" stroke="#c8cdd6" stroke-width="0.5"/>
<rect x="1672.6" y="1602.2" width="2.4" height="7.9" fill="#cfd6ea" rx="1" stroke="#9fabd4" stroke-width="0.6"/>
<rect x="1938" y="1602.2" width="2.4" height="7.9" fill="#cfd6ea" rx="1" stroke="#9fabd4" stroke-width="0.6"/>
<line x1="2008.4" y1="1421.4" x2="2260.3" y2="1421.4" stroke="#e6e6e6" stroke-width="0.8"/>
<text x="2003.4" y="1422.93" font-size="5.6" fill="#333" stroke="#333" stroke-width="0.18" text-anchor="end">6K</text>
<line x1="2008.4" y1="1441.4" x2="2260.3" y2="1441.4" stroke="#e6e6e6" stroke-width="0.8"/>
<text x="2003.4" y="1442.93" font-size="5.6" fill="#333" stroke="#333" stroke-width="0.18" text-anchor="end">5K</text>
<line x1="2008.4" y1="1461.4" x2="2260.3" y2="1461.4" stroke="#e6e6e6" stroke-width="0.8"/>
<text x="2003.4" y="1462.93" font-size="5.6" fill="#333" stroke="#333" stroke-width="0.18" text-anchor="end">4K</text>
<line x1="2008.4" y1="1481.4" x2="2260.3" y2="1481.4" stroke="#e6e6e6" stroke-width="0.8"/>
<text x="2003.4" y="1482.93" font-size="5.6" fill="#333" stroke="#333" stroke-width="0.18" text-anchor="end">3K</text>
<line x1="2008.4" y1="1501.4" x2="2260.3" y2="1501.4" stroke="#e6e6e6" stroke-width="0.8"/>
<text x="2003.4" y="1502.93" font-size="5.6" fill="#333" stroke="#333" stroke-width="0.18" text-anchor="end">2K</text>
<line x1="2008.4" y1="1521.4" x2="2260.3" y2="1521.4" stroke="#e6e6e6" stroke-width="0.8"/>
<text x="2003.4" y="1522.93" font-size="5.6" fill="#333" stroke="#333" stroke-width="0.18" text-anchor="end">1K</text>
<text x="2003.4" y="1542.93" font-size="5.6" fill="#333" stroke="#333" stroke-width="0.18" text-anchor="end">0</text>
<rect x="2010.5" y="1439" width="16.8" height="102.4" fill="#f58a2b" />
<rect x="2031.49" y="1511" width="16.8" height="30.4" fill="#f58a2b" />
<rect x="2052.48" y="1517" width="16.8" height="24.4" fill="#f58a2b" />
<rect x="2073.47" y="1529.8" width="16.8" height="11.6" fill="#f58a2b" />
<rect x="2094.47" y="1538.4" width="16.8" height="3" fill="#f58a2b" />
<rect x="2115.46" y="1540.4" width="16.8" height="1" fill="#f58a2b" />
<rect x="2136.45" y="1541" width="16.8" height="0.4" fill="#f58a2b" />
<rect x="2157.44" y="1541.1" width="16.8" height="0.3" fill="#f58a2b" />
<rect x="2178.43" y="1541.16" width="16.8" height="0.24" fill="#f58a2b" />
<rect x="2199.43" y="1541.2" width="16.8" height="0.2" fill="#f58a2b" />
<rect x="2220.42" y="1541.2" width="16.8" height="0.2" fill="#f58a2b" />
<rect x="2241.41" y="1541.2" width="16.8" height="0.2" fill="#f58a2b" />
<line x1="2008.4" y1="1541.8" x2="2260.3" y2="1541.8" stroke="#333" stroke-width="0.9"/>
<line x1="2008.4" y1="1541.9" x2="2008.4" y2="1544.4" stroke="#333" stroke-width="0.7"/>
<line x1="2029.39" y1="1541.9" x2="2029.39" y2="1544.4" stroke="#333" stroke-width="0.7"/>
<line x1="2050.38" y1="1541.9" x2="2050.38" y2="1544.4" stroke="#333" stroke-width="0.7"/>
<line x1="2071.38" y1="1541.9" x2="2071.38" y2="1544.4" stroke="#333" stroke-width="0.7"/>
<line x1="2092.37" y1="1541.9" x2="2092.37" y2="1544.4" stroke="#333" stroke-width="0.7"/>
<line x1="2113.36" y1="1541.9" x2="2113.36" y2="1544.4" stroke="#333" stroke-width="0.7"/>
<line x1="2134.35" y1="1541.9" x2="2134.35" y2="1544.4" stroke="#333" stroke-width="0.7"/>
<line x1="2155.34" y1="1541.9" x2="2155.34" y2="1544.4" stroke="#333" stroke-width="0.7"/>
<line x1="2176.33" y1="1541.9" x2="2176.33" y2="1544.4" stroke="#333" stroke-width="0.7"/>
<line x1="2197.33" y1="1541.9" x2="2197.33" y2="1544.4" stroke="#333" stroke-width="0.7"/>
<line x1="2218.32" y1="1541.9" x2="2218.32" y2="1544.4" stroke="#333" stroke-width="0.7"/>
<line x1="2239.31" y1="1541.9" x2="2239.31" y2="1544.4" stroke="#333" stroke-width="0.7"/>
<line x1="2260.3" y1="1541.9" x2="2260.3" y2="1544.4" stroke="#333" stroke-width="0.7"/>
<text transform="translate(2021.4,1547.9) rotate(-45)" font-size="5.9" fill="#555" stroke="#555" stroke-width="0.18" text-anchor="end">LQ Guest</text>
<text transform="translate(2042.39,1547.9) rotate(-45)" font-size="5.9" fill="#555" stroke="#555" stroke-width="0.18" text-anchor="end">LQ Member</text>
<text transform="translate(2063.38,1547.9) rotate(-45)" font-size="5.9" fill="#555" stroke="#555" stroke-width="0.18" text-anchor="end">Welcome Card</text>
<text transform="translate(2084.37,1547.9) rotate(-45)" font-size="5.9" fill="#555" stroke="#555" stroke-width="0.18" text-anchor="end">Blue Elite...</text>
<text transform="translate(2105.36,1547.9) rotate(-45)" font-size="5.9" fill="#555" stroke="#555" stroke-width="0.18" text-anchor="end">Gold Card</text>
<text transform="translate(2126.35,1547.9) rotate(-45)" font-size="5.9" fill="#555" stroke="#555" stroke-width="0.18" text-anchor="end">Platinum Card</text>
<text transform="translate(2147.35,1547.9) rotate(-45)" font-size="5.9" fill="#555" stroke="#555" stroke-width="0.18" text-anchor="end">Normal Card</text>
<text transform="translate(2168.34,1547.9) rotate(-45)" font-size="5.9" fill="#555" stroke="#555" stroke-width="0.18" text-anchor="end">Paper Card</text>
<text transform="translate(2189.33,1547.9) rotate(-45)" font-size="5.9" fill="#555" stroke="#555" stroke-width="0.18" text-anchor="end">Standard Card</text>
<text transform="translate(2210.32,1547.9) rotate(-45)" font-size="5.9" fill="#555" stroke="#555" stroke-width="0.18" text-anchor="end">LQ Gold</text>
<text transform="translate(2231.31,1547.9) rotate(-45)" font-size="5.9" fill="#555" stroke="#555" stroke-width="0.18" text-anchor="end">null</text>
<text transform="translate(2252.3,1547.9) rotate(-45)" font-size="5.9" fill="#555" stroke="#555" stroke-width="0.18" text-anchor="end">LQ Team Me...</text>
<rect x="2008.4" y="1584.5" width="251.9" height="8.7" fill="#f2f2f2" />
<rect x="2020.4" y="1584.5" width="227.9" height="8.7" fill="#d3d7dc" />
<rect x="2132.85" y="1587.85" width="3" height="2" fill="#e6e8ec" />
<text x="2126.3" y="1610.3" font-size="9" fill="#333" stroke="#333" stroke-width="0.18" text-anchor="middle">Card Type</text>
<text transform="translate(1974.9,1510.7) rotate(-90)" font-size="9" fill="#333" stroke="#333" stroke-width="0.18" text-anchor="middle">No. of Cards</text>
<polygon points="912.4,1776.2 919,1776.2 915.7,1779.8" fill="#555" />
<polygon points="1164,1776.2 1170.6,1776.2 1167.3,1779.8" fill="#555" />
<line x1="289.7" y1="1795.7" x2="487.5" y2="1795.7" stroke="#9aa7ba" stroke-width="0.9"/>
<line x1="289.7" y1="1795.7" x2="349" y2="1795.7" stroke="#3f546f" stroke-width="1.2"/>
<circle cx="349.2" cy="1795.7" r="4.4" fill="#3f546f"/>
<line x1="119" y1="1889.2" x2="532.4" y2="1889.2" stroke="#e6e6e6" stroke-width="0.8"/>
<text x="113" y="1891.14" font-size="6.8" fill="#333" stroke="#333" stroke-width="0.18" text-anchor="end">250</text>
<line x1="119" y1="1925.98" x2="532.4" y2="1925.98" stroke="#e6e6e6" stroke-width="0.8"/>
<text x="113" y="1927.92" font-size="6.8" fill="#333" stroke="#333" stroke-width="0.18" text-anchor="end">200</text>
<line x1="119" y1="1962.76" x2="532.4" y2="1962.76" stroke="#e6e6e6" stroke-width="0.8"/>
<text x="113" y="1964.7" font-size="6.8" fill="#333" stroke="#333" stroke-width="0.18" text-anchor="end">150</text>
<line x1="119" y1="1999.54" x2="532.4" y2="1999.54" stroke="#e6e6e6" stroke-width="0.8"/>
<text x="113" y="2001.48" font-size="6.8" fill="#333" stroke="#333" stroke-width="0.18" text-anchor="end">100</text>
<line x1="119" y1="2036.32" x2="532.4" y2="2036.32" stroke="#e6e6e6" stroke-width="0.8"/>
<text x="113" y="2038.26" font-size="6.8" fill="#333" stroke="#333" stroke-width="0.18" text-anchor="end">50</text>
<text x="113" y="2075.04" font-size="6.8" fill="#333" stroke="#333" stroke-width="0.18" text-anchor="end">0</text>
<rect x="119.5" y="2070.16" width="7.1" height="2.94" fill="#f68b2c" />
<rect x="127.77" y="2030.44" width="7.1" height="42.66" fill="#f68b2c" />
<rect x="136.04" y="2062.07" width="7.1" height="11.03" fill="#f68b2c" />
<rect x="144.3" y="2070.89" width="7.1" height="2.21" fill="#f68b2c" />
<rect x="152.57" y="2070.16" width="7.1" height="2.94" fill="#f68b2c" />
<rect x="160.84" y="2062.07" width="7.1" height="11.03" fill="#f68b2c" />
<rect x="169.11" y="2069.05" width="7.1" height="4.05" fill="#f68b2c" />
<rect x="177.38" y="2072.36" width="7.1" height="0.74" fill="#f68b2c" />
<rect x="185.64" y="2070.53" width="7.1" height="2.57" fill="#98dfc0" />
<rect x="193.91" y="2070.16" width="7.1" height="2.94" fill="#98dfc0" />
<rect x="202.18" y="2067.95" width="7.1" height="5.15" fill="#98dfc0" />
<rect x="210.45" y="2066.11" width="7.1" height="6.99" fill="#98dfc0" />
<rect x="218.72" y="2069.05" width="7.1" height="4.05" fill="#98dfc0" />
<rect x="226.98" y="2072.36" width="7.1" height="0.74" fill="#98dfc0" />
<rect x="235.25" y="2022.34" width="7.1" height="50.76" fill="#98dfc0" />
<rect x="243.52" y="2065.01" width="7.1" height="8.09" fill="#98dfc0" />
<rect x="251.79" y="1918.62" width="7.1" height="154.48" fill="#98dfc0" />
<rect x="260.06" y="2063.17" width="7.1" height="9.93" fill="#98dfc0" />
<rect x="268.32" y="2068.32" width="7.1" height="4.78" fill="#98dfc0" />
<rect x="276.59" y="2070.16" width="7.1" height="2.94" fill="#98dfc0" />
<rect x="284.86" y="2070.89" width="7.1" height="2.21" fill="#7e3ba5" />
<rect x="293.13" y="2070.53" width="7.1" height="2.57" fill="#7e3ba5" />
<rect x="301.4" y="2067.95" width="7.1" height="5.15" fill="#7e3ba5" />
<rect x="309.66" y="2070.16" width="7.1" height="2.94" fill="#7e3ba5" />
<rect x="317.93" y="2070.16" width="7.1" height="2.94" fill="#7e3ba5" />
<rect x="326.2" y="2068.32" width="7.1" height="4.78" fill="#7e3ba5" />
<rect x="334.47" y="2065.74" width="7.1" height="7.36" fill="#7e3ba5" />
<rect x="342.74" y="2069.05" width="7.1" height="4.05" fill="#7e3ba5" />
<rect x="351" y="2067.22" width="7.1" height="5.88" fill="#7e3ba5" />
<rect x="359.27" y="2068.32" width="7.1" height="4.78" fill="#7e3ba5" />
<rect x="367.54" y="2067.95" width="7.1" height="5.15" fill="#7e3ba5" />
<rect x="375.81" y="2070.53" width="7.1" height="2.57" fill="#7e3ba5" />
<rect x="384.08" y="2072.36" width="7.1" height="0.74" fill="#1ba3d8" />
<rect x="392.34" y="2072.36" width="7.1" height="0.74" fill="#1ba3d8" />
<rect x="400.61" y="2070.53" width="7.1" height="2.57" fill="#1ba3d8" />
<rect x="408.88" y="2065.74" width="7.1" height="7.36" fill="#1ba3d8" />
<rect x="417.15" y="2068.32" width="7.1" height="4.78" fill="#1ba3d8" />
<rect x="425.42" y="2067.95" width="7.1" height="5.15" fill="#1ba3d8" />
<rect x="433.68" y="2030.07" width="7.1" height="43.03" fill="#1ba3d8" />
<rect x="441.95" y="2067.22" width="7.1" height="5.88" fill="#1ba3d8" />
<rect x="450.22" y="1963.13" width="7.1" height="109.97" fill="#1ba3d8" />
<rect x="458.49" y="2023.81" width="7.1" height="49.29" fill="#1ba3d8" />
<rect x="466.76" y="2015.36" width="7.1" height="57.74" fill="#1ba3d8" />
<rect x="475.02" y="2048.09" width="7.1" height="25.01" fill="#1ba3d8" />
<rect x="483.29" y="2066.11" width="7.1" height="6.99" fill="#1ba3d8" />
<rect x="491.56" y="2028.96" width="7.1" height="44.14" fill="#f4516b" />
<rect x="499.83" y="2045.15" width="7.1" height="27.95" fill="#f4516b" />
<rect x="508.1" y="1999.54" width="7.1" height="73.56" fill="#f4516b" />
<rect x="516.36" y="2043.31" width="7.1" height="29.79" fill="#f4516b" />
<rect x="524.63" y="2068.32" width="7.1" height="4.78" fill="#f4516b" />
<line x1="119" y1="2073.5" x2="532.4" y2="2073.5" stroke="#333" stroke-width="0.9"/>
<line x1="119" y1="2073.6" x2="119" y2="2076.3" stroke="#333" stroke-width="0.7"/>
<line x1="135.54" y1="2073.6" x2="135.54" y2="2076.3" stroke="#333" stroke-width="0.7"/>
<line x1="152.07" y1="2073.6" x2="152.07" y2="2076.3" stroke="#333" stroke-width="0.7"/>
<line x1="168.61" y1="2073.6" x2="168.61" y2="2076.3" stroke="#333" stroke-width="0.7"/>
<line x1="185.14" y1="2073.6" x2="185.14" y2="2076.3" stroke="#333" stroke-width="0.7"/>
<line x1="201.68" y1="2073.6" x2="201.68" y2="2076.3" stroke="#333" stroke-width="0.7"/>
<line x1="218.22" y1="2073.6" x2="218.22" y2="2076.3" stroke="#333" stroke-width="0.7"/>
<line x1="234.75" y1="2073.6" x2="234.75" y2="2076.3" stroke="#333" stroke-width="0.7"/>
<line x1="251.29" y1="2073.6" x2="251.29" y2="2076.3" stroke="#333" stroke-width="0.7"/>
<line x1="267.82" y1="2073.6" x2="267.82" y2="2076.3" stroke="#333" stroke-width="0.7"/>
<line x1="284.36" y1="2073.6" x2="284.36" y2="2076.3" stroke="#333" stroke-width="0.7"/>
<line x1="300.9" y1="2073.6" x2="300.9" y2="2076.3" stroke="#333" stroke-width="0.7"/>
<line x1="317.43" y1="2073.6" x2="317.43" y2="2076.3" stroke="#333" stroke-width="0.7"/>
<line x1="333.97" y1="2073.6" x2="333.97" y2="2076.3" stroke="#333" stroke-width="0.7"/>
<line x1="350.5" y1="2073.6" x2="350.5" y2="2076.3" stroke="#333" stroke-width="0.7"/>
<line x1="367.04" y1="2073.6" x2="367.04" y2="2076.3" stroke="#333" stroke-width="0.7"/>
<line x1="383.58" y1="2073.6" x2="383.58" y2="2076.3" stroke="#333" stroke-width="0.7"/>
<line x1="400.11" y1="2073.6" x2="400.11" y2="2076.3" stroke="#333" stroke-width="0.7"/>
<line x1="416.65" y1="2073.6" x2="416.65" y2="2076.3" stroke="#333" stroke-width="0.7"/>
<line x1="433.18" y1="2073.6" x2="433.18" y2="2076.3" stroke="#333" stroke-width="0.7"/>
<line x1="449.72" y1="2073.6" x2="449.72" y2="2076.3" stroke="#333" stroke-width="0.7"/>
<line x1="466.26" y1="2073.6" x2="466.26" y2="2076.3" stroke="#333" stroke-width="0.7"/>
<line x1="482.79" y1="2073.6" x2="482.79" y2="2076.3" stroke="#333" stroke-width="0.7"/>
<line x1="499.33" y1="2073.6" x2="499.33" y2="2076.3" stroke="#333" stroke-width="0.7"/>
<line x1="515.86" y1="2073.6" x2="515.86" y2="2076.3" stroke="#333" stroke-width="0.7"/>
<text transform="translate(124.5,2080.1) rotate(-45)" font-size="7.2" fill="#555" stroke="#555" stroke-width="0.18" text-anchor="end">Tue Jul 19,...</text>
<text transform="translate(141.04,2080.1) rotate(-45)" font-size="7.2" fill="#555" stroke="#555" stroke-width="0.18" text-anchor="end">Tue Jul 19,...</text>
<text transform="translate(157.57,2080.1) rotate(-45)" font-size="7.2" fill="#555" stroke="#555" stroke-width="0.18" text-anchor="end">Tue Jul 19,...</text>
<text transform="translate(174.11,2080.1) rotate(-45)" font-size="7.2" fill="#555" stroke="#555" stroke-width="0.18" text-anchor="end">Tue Jul 19,...</text>
<text transform="translate(190.64,2080.1) rotate(-45)" font-size="7.2" fill="#555" stroke="#555" stroke-width="0.18" text-anchor="end">Wed Jul 20,...</text>
<text transform="translate(207.18,2080.1) rotate(-45)" font-size="7.2" fill="#555" stroke="#555" stroke-width="0.18" text-anchor="end">Wed Jul 20,...</text>
<text transform="translate(223.72,2080.1) rotate(-45)" font-size="7.2" fill="#555" stroke="#555" stroke-width="0.18" text-anchor="end">Wed Jul 20,...</text>
<text transform="translate(240.25,2080.1) rotate(-45)" font-size="7.2" fill="#555" stroke="#555" stroke-width="0.18" text-anchor="end">Wed Jul 20,...</text>
<text transform="translate(256.79,2080.1) rotate(-45)" font-size="7.2" fill="#555" stroke="#555" stroke-width="0.18" text-anchor="end">Wed Jul 20,...</text>
<text transform="translate(273.32,2080.1) rotate(-45)" font-size="7.2" fill="#555" stroke="#555" stroke-width="0.18" text-anchor="end">Wed Jul 20,...</text>
<text transform="translate(289.86,2080.1) rotate(-45)" font-size="7.2" fill="#555" stroke="#555" stroke-width="0.18" text-anchor="end">Thu Jul 21,...</text>
<text transform="translate(306.4,2080.1) rotate(-45)" font-size="7.2" fill="#555" stroke="#555" stroke-width="0.18" text-anchor="end">Thu Jul 21,...</text>
<text transform="translate(322.93,2080.1) rotate(-45)" font-size="7.2" fill="#555" stroke="#555" stroke-width="0.18" text-anchor="end">Thu Jul 21,...</text>
<text transform="translate(339.47,2080.1) rotate(-45)" font-size="7.2" fill="#555" stroke="#555" stroke-width="0.18" text-anchor="end">Thu Jul 21,...</text>
<text transform="translate(356,2080.1) rotate(-45)" font-size="7.2" fill="#555" stroke="#555" stroke-width="0.18" text-anchor="end">Thu Jul 21,...</text>
<text transform="translate(372.54,2080.1) rotate(-45)" font-size="7.2" fill="#555" stroke="#555" stroke-width="0.18" text-anchor="end">Thu Jul 21,...</text>
<text transform="translate(389.08,2080.1) rotate(-45)" font-size="7.2" fill="#555" stroke="#555" stroke-width="0.18" text-anchor="end">Fri Jul 22,...</text>
<text transform="translate(405.61,2080.1) rotate(-45)" font-size="7.2" fill="#555" stroke="#555" stroke-width="0.18" text-anchor="end">Fri Jul 22,...</text>
<text transform="translate(422.15,2080.1) rotate(-45)" font-size="7.2" fill="#555" stroke="#555" stroke-width="0.18" text-anchor="end">Fri Jul 22,...</text>
<text transform="translate(438.68,2080.1) rotate(-45)" font-size="7.2" fill="#555" stroke="#555" stroke-width="0.18" text-anchor="end">Fri Jul 22,...</text>
<text transform="translate(455.22,2080.1) rotate(-45)" font-size="7.2" fill="#555" stroke="#555" stroke-width="0.18" text-anchor="end">Fri Jul 22,...</text>
<text transform="translate(471.76,2080.1) rotate(-45)" font-size="7.2" fill="#555" stroke="#555" stroke-width="0.18" text-anchor="end">Fri Jul 22,...</text>
<text transform="translate(488.29,2080.1) rotate(-45)" font-size="7.2" fill="#555" stroke="#555" stroke-width="0.18" text-anchor="end">Fri Jul 22,...</text>
<text transform="translate(504.83,2080.1) rotate(-45)" font-size="7.2" fill="#555" stroke="#555" stroke-width="0.18" text-anchor="end">Sat Jul 23,...</text>
<text transform="translate(521.36,2080.1) rotate(-45)" font-size="7.2" fill="#555" stroke="#555" stroke-width="0.18" text-anchor="end">Sat Jul 23,...</text>
<rect x="119" y="2122.5" width="413.4" height="9.7" fill="#f2f2f2" />
<rect x="133" y="2122.5" width="385.4" height="9.7" fill="#d3d7dc" />
<rect x="324.2" y="2126.35" width="3" height="2" fill="#e6e8ec" />
<text x="316.4" y="2151.51" font-size="10.5" fill="#333" stroke="#333" stroke-width="0.18" text-anchor="middle">Date (Hour)</text>
<text transform="translate(79.41,2015) rotate(-90)" font-size="10.5" fill="#333" stroke="#333" stroke-width="0.18" text-anchor="middle">Ideal Manhours</text>
<text x="551" y="1884.84" font-size="10.3" fill="#222" stroke="#222" stroke-width="0.18" text-anchor="start">Transaction...</text>
<rect x="551" y="1902.1" width="6.8" height="6.8" fill="#f68b2c" />
<text x="561.4" y="1908.3" font-size="8.15" fill="#777" stroke="#777" stroke-width="0.18" text-anchor="start">Jul 19, 2022</text>
<rect x="551" y="1920.03" width="6.8" height="6.8" fill="#98dfc0" />
<text x="561.4" y="1926.23" font-size="8.15" fill="#777" stroke="#777" stroke-width="0.18" text-anchor="start">Jul 20, 2022</text>
<rect x="551" y="1937.96" width="6.8" height="6.8" fill="#7e3ba5" />
<text x="561.4" y="1944.16" font-size="8.15" fill="#777" stroke="#777" stroke-width="0.18" text-anchor="start">Jul 21, 2022</text>
<rect x="551" y="1955.89" width="6.8" height="6.8" fill="#1ba3d8" />
<text x="561.4" y="1962.09" font-size="8.15" fill="#777" stroke="#777" stroke-width="0.18" text-anchor="start">Jul 22, 2022</text>
<rect x="551" y="1973.82" width="6.8" height="6.8" fill="#f4516b" />
<text x="561.4" y="1980.02" font-size="8.15" fill="#777" stroke="#777" stroke-width="0.18" text-anchor="start">Jul 23, 2022</text>
<line x1="688.7" y1="1889.2" x2="1169.7" y2="1889.2" stroke="#e6e6e6" stroke-width="0.8"/>
<text x="682.7" y="1891.14" font-size="6.8" fill="#333" stroke="#333" stroke-width="0.18" text-anchor="end">80</text>
<line x1="688.7" y1="1943.83" x2="1169.7" y2="1943.83" stroke="#e6e6e6" stroke-width="0.8"/>
<text x="682.7" y="1945.76" font-size="6.8" fill="#333" stroke="#333" stroke-width="0.18" text-anchor="end">60</text>
<line x1="688.7" y1="1998.45" x2="1169.7" y2="1998.45" stroke="#e6e6e6" stroke-width="0.8"/>
<text x="682.7" y="2000.39" font-size="6.8" fill="#333" stroke="#333" stroke-width="0.18" text-anchor="end">40</text>
<line x1="688.7" y1="2053.07" x2="1169.7" y2="2053.07" stroke="#e6e6e6" stroke-width="0.8"/>
<text x="682.7" y="2055.01" font-size="6.8" fill="#333" stroke="#333" stroke-width="0.18" text-anchor="end">20</text>
<text x="682.7" y="2109.64" font-size="6.8" fill="#333" stroke="#333" stroke-width="0.18" text-anchor="end">0</text>
<line x1="688.7" y1="2108.1" x2="1169.7" y2="2108.1" stroke="#444" stroke-width="0.9"/>
<line x1="688.7" y1="2104.9" x2="688.7" y2="2108.3" stroke="#444" stroke-width="0.7"/>
<line x1="723.06" y1="2104.9" x2="723.06" y2="2108.3" stroke="#444" stroke-width="0.7"/>
<line x1="757.41" y1="2104.9" x2="757.41" y2="2108.3" stroke="#444" stroke-width="0.7"/>
<line x1="791.77" y1="2104.9" x2="791.77" y2="2108.3" stroke="#444" stroke-width="0.7"/>
<line x1="826.13" y1="2104.9" x2="826.13" y2="2108.3" stroke="#444" stroke-width="0.7"/>
<line x1="860.49" y1="2104.9" x2="860.49" y2="2108.3" stroke="#444" stroke-width="0.7"/>
<line x1="894.84" y1="2104.9" x2="894.84" y2="2108.3" stroke="#444" stroke-width="0.7"/>
<line x1="929.2" y1="2104.9" x2="929.2" y2="2108.3" stroke="#444" stroke-width="0.7"/>
<line x1="963.56" y1="2104.9" x2="963.56" y2="2108.3" stroke="#444" stroke-width="0.7"/>
<line x1="997.91" y1="2104.9" x2="997.91" y2="2108.3" stroke="#444" stroke-width="0.7"/>
<line x1="1032.27" y1="2104.9" x2="1032.27" y2="2108.3" stroke="#444" stroke-width="0.7"/>
<line x1="1066.63" y1="2104.9" x2="1066.63" y2="2108.3" stroke="#444" stroke-width="0.7"/>
<line x1="1100.99" y1="2104.9" x2="1100.99" y2="2108.3" stroke="#444" stroke-width="0.7"/>
<line x1="1135.34" y1="2104.9" x2="1135.34" y2="2108.3" stroke="#444" stroke-width="0.7"/>
<line x1="1169.7" y1="2104.9" x2="1169.7" y2="2108.3" stroke="#444" stroke-width="0.7"/>
<polyline points="688.7,2107.7 723.06,1998.72 757.41,1943.28 791.77,1920.06 826.13,1993.53 860.49,1994.35 894.84,1955.57 929.2,1940.55 963.56,2012.11 997.91,1895.76 1032.27,1992.44 1066.63,2014.84 1100.99,2054.17 1135.34,2091.04 1169.7,2100.6" fill="none" stroke="#f7922d" stroke-width="1.45" stroke-linejoin="round" />
<text x="688.7" y="2118.87" font-size="6.6" fill="#333" stroke="#333" stroke-width="0.18" text-anchor="middle">8</text>
<text x="723.06" y="2118.87" font-size="6.6" fill="#333" stroke="#333" stroke-width="0.18" text-anchor="middle">9</text>
<text x="757.41" y="2118.87" font-size="6.6" fill="#333" stroke="#333" stroke-width="0.18" text-anchor="middle">10</text>
<text x="791.77" y="2118.87" font-size="6.6" fill="#333" stroke="#333" stroke-width="0.18" text-anchor="middle">11</text>
<text x="826.13" y="2118.87" font-size="6.6" fill="#333" stroke="#333" stroke-width="0.18" text-anchor="middle">12</text>
<text x="860.49" y="2118.87" font-size="6.6" fill="#333" stroke="#333" stroke-width="0.18" text-anchor="middle">13</text>
<text x="894.84" y="2118.87" font-size="6.6" fill="#333" stroke="#333" stroke-width="0.18" text-anchor="middle">14</text>
<text x="929.2" y="2118.87" font-size="6.6" fill="#333" stroke="#333" stroke-width="0.18" text-anchor="middle">15</text>
<text x="963.56" y="2118.87" font-size="6.6" fill="#333" stroke="#333" stroke-width="0.18" text-anchor="middle">16</text>
<text x="997.91" y="2118.87" font-size="6.6" fill="#333" stroke="#333" stroke-width="0.18" text-anchor="middle">17</text>
<text x="1032.27" y="2118.87" font-size="6.6" fill="#333" stroke="#333" stroke-width="0.18" text-anchor="middle">18</text>
<text x="1066.63" y="2118.87" font-size="6.6" fill="#333" stroke="#333" stroke-width="0.18" text-anchor="middle">19</text>
<text x="1100.99" y="2118.87" font-size="6.6" fill="#333" stroke="#333" stroke-width="0.18" text-anchor="middle">20</text>
<text x="1135.34" y="2118.87" font-size="6.6" fill="#333" stroke="#333" stroke-width="0.18" text-anchor="middle">21</text>
<text x="1169.7" y="2118.87" font-size="6.6" fill="#333" stroke="#333" stroke-width="0.18" text-anchor="middle">22</text>
<rect x="688.7" y="2120.4" width="481" height="10.2" fill="#d5d9de" stroke="#c8cdd6" stroke-width="0.5"/>
<rect x="687.8" y="2121" width="2.4" height="9" fill="#cfd6ea" rx="1" stroke="#9fabd4" stroke-width="0.6"/>
<rect x="1168.2" y="2121" width="2.4" height="9" fill="#cfd6ea" rx="1" stroke="#9fabd4" stroke-width="0.6"/>
<text x="917.9" y="2151.51" font-size="10.5" fill="#333" stroke="#333" stroke-width="0.18" text-anchor="middle">Hour</text>
<text transform="translate(645.61,2015) rotate(-90)" font-size="10.5" fill="#333" stroke="#333" stroke-width="0.18" text-anchor="middle">Average Ideal Manhours</text>
</svg>
<div id="tx">
<div class="t" style="left:44.85px;top:26px;font-size:59.4px;color:#1a1a1a;transform-origin:0 0;transform:scaleX(1.0878);-webkit-text-stroke:1px #fff;">Executive Summary</div>
<div class="t" style="left:193.6px;top:178px;font-size:14.15px;color:#d2772d;font-weight:bold;">Sales Summary</div>
<div class="t" style="left:562.5px;top:178px;font-size:14.2px;color:#d2772d;font-weight:bold;">Guests Summary</div>
<div class="t" style="left:919.85px;top:178px;font-size:14.45px;color:#d2772d;font-weight:bold;">Transaction Summary</div>
<div class="t" style="left:69.2px;top:230px;font-size:10.1px;color:#2d2d2d;">Total Sales this Week</div>
<div class="t" style="left:256.4px;top:230px;font-size:10.1px;color:#2d2d2d;">Sales Week-on-Week</div>
<div class="t" style="left:443.7px;top:230px;font-size:10.1px;color:#2d2d2d;">Total Attendance this Week</div>
<div class="t" style="left:630.9px;top:230px;font-size:10.1px;color:#2d2d2d;">Attendance Week-on-Week</div>
<div class="t" style="left:818.5px;top:230px;font-size:10.1px;color:#2d2d2d;">Total Transactions this Week</div>
<div class="t" style="left:1005.4px;top:230px;font-size:10.1px;color:#2d2d2d;">Transactions Week-on-Week</div>
<div class="t" style="left:69.2px;top:323px;font-size:10.1px;color:#2d2d2d;">Total Sales this Month</div>
<div class="t" style="left:256.4px;top:323px;font-size:10.1px;color:#2d2d2d;">Sales Month-on-Month</div>
<div class="t" style="left:443.7px;top:323px;font-size:10.1px;color:#2d2d2d;">Total Attendance this Month</div>
<div class="t" style="left:630.9px;top:323px;font-size:10.1px;color:#2d2d2d;">Attendance Month-on-Month</div>
<div class="t" style="left:818.5px;top:323px;font-size:10.1px;color:#2d2d2d;">Total Transactions this Month</div>
<div class="t" style="left:1005.4px;top:323px;font-size:10.1px;color:#2d2d2d;">Transactions Month-on-Month</div>
<div class="t" style="left:117.05px;top:262px;font-size:23.35px;color:#2d2d2d;">$3,870</div>
<div class="t" style="left:275.3px;top:256px;font-size:35.75px;color:#222;">$196.10</div>
<div class="t" style="left:520.11px;top:261px;font-size:25.5px;color:#2d2d2d;">8</div>
<div class="t" style="left:887.72px;top:261px;font-size:25.5px;color:#2d2d2d;">75</div>
<div class="t" style="left:1077.26px;top:252px;font-size:41.5px;color:#222;">8</div>
<div class="t" style="left:117.05px;top:355px;font-size:23.35px;color:#2d2d2d;">$8,150</div>
<div class="t" style="left:513.02px;top:354px;font-size:25.5px;color:#2d2d2d;">82</div>
<div class="t" style="left:880.63px;top:354px;font-size:25.5px;color:#2d2d2d;">194</div>
<div class="t" style="left:631.1px;top:249px;font-size:8.3px;color:#222;font-weight:bold;">Sep 18, 2022</div>
<div class="t" style="left:631.1px;top:261px;font-size:8.3px;color:#333;">8</div>
<div class="t" style="left:748.73px;top:249px;font-size:8.3px;color:#222;font-weight:bold;">Sep 11, 2022</div>
<div class="t" style="left:789.48px;top:261px;font-size:8.3px;color:#333;">11</div>
<div class="t" style="left:687.3px;top:267px;font-size:12.88px;color:#3a3a3a;">-27.27%↓</div>
<div class="t" style="left:256.6px;top:342px;font-size:8.3px;color:#222;font-weight:bold;">Sep 2022</div>
<div class="t" style="left:256.6px;top:354px;font-size:8.3px;color:#333;">$667.46</div>
<div class="t" style="left:386.5px;top:342px;font-size:8.3px;color:#222;font-weight:bold;">Aug 2022</div>
<div class="t" style="left:386.48px;top:354px;font-size:8.3px;color:#333;">$8,149.53</div>
<div class="t" style="left:304.6px;top:358px;font-size:16.71px;color:#d63a2c;">-91.81%↓</div>
<div class="t" style="left:631.1px;top:342px;font-size:8.3px;color:#222;font-weight:bold;">Sep 2022</div>
<div class="t" style="left:631.1px;top:354px;font-size:8.3px;color:#333;">32</div>
<div class="t" style="left:761.2px;top:342px;font-size:8.3px;color:#222;font-weight:bold;">Aug 2022</div>
<div class="t" style="left:788.87px;top:354px;font-size:8.3px;color:#333;">82</div>
<div class="t" style="left:677.45px;top:358px;font-size:17.54px;color:#b3242c;">-60.98%↓</div>
<div class="t" style="left:1005.6px;top:342px;font-size:8.3px;color:#222;font-weight:bold;">Sep 2022</div>
<div class="t" style="left:1005.6px;top:354px;font-size:8.3px;color:#333;">60</div>
<div class="t" style="left:1135.3px;top:342px;font-size:8.3px;color:#222;font-weight:bold;">Aug 2022</div>
<div class="t" style="left:1158.35px;top:354px;font-size:8.3px;color:#333;">194</div>
<div class="t" style="left:1052.05px;top:358px;font-size:17.4px;color:#d63a2c;">-69.07%↓</div>
<div class="t" style="left:69.2px;top:416px;font-size:10.1px;color:#2d2d2d;">This Week's Sales by Location</div>
<div class="t" style="left:443.6px;top:416px;font-size:10.1px;color:#2d2d2d;">Active Guests Forecast</div>
<div class="t" style="left:818.4px;top:416px;font-size:10.1px;color:#2d2d2d;">Total Sales across time</div>
<div class="t" style="left:818.4px;top:433px;font-size:10.3px;color:#777;">Aggregated weekly YTD, forecasted 15 weeks forward</div>
<div class="t" style="left:1308.09px;top:32px;font-size:59.4px;color:#1a1a1a;transform-origin:0 0;transform:scaleX(1.1184);-webkit-text-stroke:1px #fff;">Inventory</div>
<div class="t" style="left:1325.6px;top:153px;font-size:9px;color:#2d2d2d;">Demand</div>
<div class="t" style="left:1918px;top:152px;font-size:9px;color:#2d2d2d;">Demand Table</div>
<div class="t" style="left:1998.8px;top:184px;font-size:7.25px;color:#222;font-weight:bold;">"1.5"" LIGHTUP SPIN TOP PUTT"</div>
<div class="t" style="left:2216.02px;top:184px;font-size:7.4px;color:#333;">11</div>
<div class="t" style="left:1998.8px;top:200px;font-size:7.25px;color:#222;font-weight:bold;">"1.5"" TWO TONE AMOEBA PUTTY"</div>
<div class="t" style="left:2215.47px;top:201px;font-size:7.4px;color:#333;">79</div>
<div class="t" style="left:1998.8px;top:216px;font-size:7.25px;color:#222;font-weight:bold;">"1.75"" CHATTER TEETH"</div>
<div class="t" style="left:2215.47px;top:217px;font-size:7.4px;color:#333;">43</div>
<div class="t" style="left:1998.8px;top:232px;font-size:7.25px;color:#222;font-weight:bold;">"1.75"" SPIDER HI-BOUNCE BALL"</div>
<div class="t" style="left:2219.58px;top:233px;font-size:7.4px;color:#333;">1</div>
<div class="t" style="left:1998.8px;top:248px;font-size:7.25px;color:#222;font-weight:bold;">"1.75"" UNICORN HI-BOUNCE BALL"</div>
<div class="t" style="left:2219.58px;top:249px;font-size:7.4px;color:#333;">5</div>
<div class="t" style="left:1998.8px;top:264px;font-size:7.25px;color:#222;font-weight:bold;">"10"" MONDO WHOOPIE CUSHION"</div>
<div class="t" style="left:2215.47px;top:265px;font-size:7.4px;color:#333;">54</div>
<div class="t" style="left:1998.8px;top:280px;font-size:7.25px;color:#222;font-weight:bold;">"11"" CLICK AND CATCH BALL-C"</div>
<div class="t" style="left:2219.58px;top:281px;font-size:7.4px;color:#333;">1</div>
<div class="t" style="left:1998.8px;top:296px;font-size:7.25px;color:#222;font-weight:bold;">"11"" FOAM ROCKET LAUNCHER"</div>
<div class="t" style="left:2215.47px;top:297px;font-size:7.4px;color:#333;">76</div>
<div class="t" style="left:1998.8px;top:313px;font-size:7.25px;color:#222;font-weight:bold;">"11.25"" NEONE STYLE FLAMINGO"</div>
<div class="t" style="left:2219.58px;top:313px;font-size:7.4px;color:#333;">3</div>
<div class="t" style="left:1998.8px;top:329px;font-size:7.25px;color:#222;font-weight:bold;">"12"" AIR HORN PUMP"</div>
<div class="t" style="left:2215.47px;top:329px;font-size:7.4px;color:#333;">25</div>
<div class="t" style="left:1998.8px;top:345px;font-size:7.25px;color:#222;font-weight:bold;">"12"" LIGHTUP SPEECH BUBBLE"</div>
<div class="t" style="left:2219.58px;top:345px;font-size:7.4px;color:#333;">1</div>
<div class="t" style="left:1917px;top:166px;width:313.3px;height:16.5px;background:#fff;"></div>
<div class="t" style="left:1918px;top:182.4px;width:311.3px;height:0.9px;background:#dcdcdc;"></div>
<div class="t" style="left:2147.3px;top:168.6px;width:82px;height:0.7px;background:#e6e6e6;"></div>
<div class="t" style="left:2146.9px;top:168.6px;width:0.8px;height:13.9px;background:#e6e6e6;"></div>
<div class="t" style="left:2228.9px;top:168.6px;width:0.8px;height:13.9px;background:#e6e6e6;"></div>
<div class="t" style="left:1923.4px;top:170px;font-size:7.6px;color:#222;font-weight:bold;">Product Category</div>
<div class="t" style="left:1998.8px;top:170px;font-size:7.6px;color:#222;font-weight:bold;">Product Name</div>
<div class="t" style="left:2159.76px;top:172px;font-size:7.7px;color:#222;font-weight:bold;">Demand Quantity</div>
<div class="t" style="left:1325.8px;top:380px;font-size:9px;color:#2d2d2d;">Current Inventory Snapshot</div>
<div class="t" style="left:1325.8px;top:394px;font-size:8.6px;color:#777;">Stock Level as Bars, Reorder Level as Line</div>
<div class="t" style="left:1810.6px;top:380px;font-size:9px;color:#2d2d2d;">Current Inventory Snapshot Table</div>
<div class="t" style="left:1996.1px;top:426px;font-size:7.2px;color:#222;font-weight:bold;">Aug 9, 2021</div>
<div class="t" style="left:2117.5px;top:426px;font-size:7.2px;color:#444;">0</div>
<div class="t" style="left:2178.4px;top:426px;font-size:7.2px;color:#444;">0</div>
<div class="t" style="left:2234.89px;top:426px;font-size:7.2px;color:#444;">2.95</div>
<div class="t" style="left:1906.8px;top:427px;font-size:6.75px;color:#222;font-weight:bold;">C BEN &amp; JERRYS CHOC</div>
<div class="t" style="left:1906.8px;top:437px;font-size:6.75px;color:#222;font-weight:bold;">CHIP COOKIE ...</div>
<div class="t" style="left:1996.1px;top:440px;font-size:7.2px;color:#222;font-weight:bold;">Aug 18, 2021</div>
<div class="t" style="left:2117.5px;top:440px;font-size:7.2px;color:#444;">4</div>
<div class="t" style="left:2178.4px;top:440px;font-size:7.2px;color:#444;">0</div>
<div class="t" style="left:2234.89px;top:440px;font-size:7.2px;color:#444;">2.95</div>
<div class="t" style="left:1996.1px;top:454px;font-size:7.2px;color:#222;font-weight:bold;">Aug 9, 2021</div>
<div class="t" style="left:2117.5px;top:455px;font-size:7.2px;color:#444;">0</div>
<div class="t" style="left:2178.4px;top:455px;font-size:7.2px;color:#444;">0</div>
<div class="t" style="left:2234.89px;top:455px;font-size:7.2px;color:#444;">2.95</div>
<div class="t" style="left:1906.8px;top:455px;font-size:6.75px;color:#222;font-weight:bold;">C BEN &amp; JERRYS CHOC</div>
<div class="t" style="left:1906.8px;top:466px;font-size:6.75px;color:#222;font-weight:bold;">FUDGE BROW ...</div>
<div class="t" style="left:1996.1px;top:469px;font-size:7.2px;color:#222;font-weight:bold;">Jun 23, 2022</div>
<div class="t" style="left:2115.1px;top:469px;font-size:7.2px;color:#444;">-1</div>
<div class="t" style="left:2178.4px;top:469px;font-size:7.2px;color:#444;">0</div>
<div class="t" style="left:2234.89px;top:469px;font-size:7.2px;color:#444;">2.95</div>
<div class="t" style="left:1996.1px;top:483px;font-size:7.2px;color:#222;font-weight:bold;">Aug 15, 2021</div>
<div class="t" style="left:2117.5px;top:483px;font-size:7.2px;color:#444;">6</div>
<div class="t" style="left:2178.4px;top:483px;font-size:7.2px;color:#444;">0</div>
<div class="t" style="left:2238.89px;top:483px;font-size:7.2px;color:#444;">8.6</div>
<div class="t" style="left:1906.8px;top:484px;font-size:6.75px;color:#222;font-weight:bold;">C BEN &amp; JERRYS CORE</div>
<div class="t" style="left:1906.8px;top:494px;font-size:6.75px;color:#222;font-weight:bold;">SALT CAR STR ...</div>
<div class="t" style="left:1996.1px;top:498px;font-size:7.2px;color:#222;font-weight:bold;">Sep 9, 2021</div>
<div class="t" style="left:2113.49px;top:498px;font-size:7.2px;color:#444;">13</div>
<div class="t" style="left:2178.4px;top:498px;font-size:7.2px;color:#444;">0</div>
<div class="t" style="left:2238.89px;top:498px;font-size:7.2px;color:#444;">8.6</div>
<div class="t" style="left:1996.1px;top:512px;font-size:7.2px;color:#222;font-weight:bold;">Jul 29, 2021</div>
<div class="t" style="left:2117.5px;top:512px;font-size:7.2px;color:#444;">4</div>
<div class="t" style="left:2178.4px;top:512px;font-size:7.2px;color:#444;">0</div>
<div class="t" style="left:2234.89px;top:512px;font-size:7.2px;color:#444;">2.95</div>
<div class="t" style="left:1906.8px;top:513px;font-size:6.75px;color:#222;font-weight:bold;">C BEN &amp; JERRYS</div>
<div class="t" style="left:1906.8px;top:523px;font-size:6.75px;color:#222;font-weight:bold;">DOUGHNT WORRY B...</div>
<div class="t" style="left:1996.1px;top:526px;font-size:7.2px;color:#222;font-weight:bold;">Aug 22, 2021</div>
<div class="t" style="left:2117.5px;top:527px;font-size:7.2px;color:#444;">0</div>
<div class="t" style="left:2178.4px;top:527px;font-size:7.2px;color:#444;">0</div>
<div class="t" style="left:2234.89px;top:527px;font-size:7.2px;color:#444;">2.95</div>
<div class="t" style="left:1996.1px;top:541px;font-size:7.2px;color:#222;font-weight:bold;">Aug 9, 2021</div>
<div class="t" style="left:2117.5px;top:541px;font-size:7.2px;color:#444;">1</div>
<div class="t" style="left:2178.4px;top:541px;font-size:7.2px;color:#444;">0</div>
<div class="t" style="left:2238.89px;top:541px;font-size:7.2px;color:#444;">8.6</div>
<div class="t" style="left:1906.8px;top:541px;font-size:6.75px;color:#222;font-weight:bold;">C BEN&amp;JERRY</div>
<div class="t" style="left:1906.8px;top:552px;font-size:6.75px;color:#222;font-weight:bold;">EVERYTHING BUT T...</div>
<div class="t" style="left:1996.1px;top:555px;font-size:7.2px;color:#222;font-weight:bold;">Sep 1, 2021</div>
<div class="t" style="left:2117.5px;top:555px;font-size:7.2px;color:#444;">0</div>
<div class="t" style="left:2178.4px;top:555px;font-size:7.2px;color:#444;">0</div>
<div class="t" style="left:2238.89px;top:555px;font-size:7.2px;color:#444;">8.6</div>
<div class="t" style="left:1996.1px;top:569px;font-size:7.2px;color:#222;font-weight:bold;">Aug 22, 2021</div>
<div class="t" style="left:2113.49px;top:570px;font-size:7.2px;color:#444;">27</div>
<div class="t" style="left:2178.4px;top:570px;font-size:7.2px;color:#444;">0</div>
<div class="t" style="left:2238.89px;top:570px;font-size:7.2px;color:#444;">1.5</div>
<div class="t" style="left:1906.8px;top:570px;font-size:6.75px;color:#222;font-weight:bold;">C BFF BOX LOVELY</div>
<div class="t" style="left:1906.8px;top:581px;font-size:6.75px;color:#222;font-weight:bold;">CATS (12pcs/pack) ...</div>
<div class="t" style="left:1996.1px;top:584px;font-size:7.2px;color:#222;font-weight:bold;">Sep 14, 2021</div>
<div class="t" style="left:2113.49px;top:584px;font-size:7.2px;color:#444;">55</div>
<div class="t" style="left:2178.4px;top:584px;font-size:7.2px;color:#444;">0</div>
<div class="t" style="left:2238.89px;top:584px;font-size:7.2px;color:#444;">1.5</div>
<div class="t" style="left:1996.1px;top:598px;font-size:7.2px;color:#222;font-weight:bold;">Aug 21, 2021</div>
<div class="t" style="left:2113.49px;top:598px;font-size:7.2px;color:#444;">30</div>
<div class="t" style="left:2178.4px;top:598px;font-size:7.2px;color:#444;">0</div>
<div class="t" style="left:2238.89px;top:598px;font-size:7.2px;color:#444;">1.5</div>
<div class="t" style="left:1906.8px;top:599px;font-size:6.75px;color:#222;font-weight:bold;">C BFF BOX MERMAIDS</div>
<div class="t" style="left:1906.8px;top:609px;font-size:6.75px;color:#222;font-weight:bold;">(12pcs/pack) ...</div>
<div class="t" style="left:1996.1px;top:612px;font-size:7.2px;color:#222;font-weight:bold;">Sep 11, 2021</div>
<div class="t" style="left:2113.49px;top:613px;font-size:7.2px;color:#444;">57</div>
<div class="t" style="left:2178.4px;top:613px;font-size:7.2px;color:#444;">0</div>
<div class="t" style="left:2238.89px;top:613px;font-size:7.2px;color:#444;">1.5</div>
<div class="t" style="left:1996.1px;top:627px;font-size:7.2px;color:#222;font-weight:bold;">Sep 12, 2021</div>
<div class="t" style="left:2113.49px;top:627px;font-size:7.2px;color:#444;">16</div>
<div class="t" style="left:2178.4px;top:627px;font-size:7.2px;color:#444;">0</div>
<div class="t" style="left:2238.89px;top:627px;font-size:7.2px;color:#444;">1.2</div>
<div class="t" style="left:1906.8px;top:628px;font-size:6.75px;color:#222;font-weight:bold;">C BPOP MIX ...</div>
<div class="t" style="left:1809.6px;top:632.6px;width:465.5px;height:7.4px;background:#fff;"></div>
<div class="t" style="left:1815.8px;top:411px;font-size:7.6px;color:#222;font-weight:bold;">Product Category</div>
<div class="t" style="left:1891.5px;top:411px;font-size:7.6px;color:#222;font-weight:bold;">Product Name</div>
<div class="t" style="left:1996.5px;top:411px;font-size:7.6px;color:#222;font-weight:bold;">Last Modified</div>
<div class="t" style="left:2100.78px;top:399px;font-size:7.5px;color:#222;font-weight:bold;">Stock</div>
<div class="t" style="left:2090.79px;top:410px;font-size:7.5px;color:#222;font-weight:bold;">Quantity</div>
<div class="t" style="left:2153.34px;top:399px;font-size:7.5px;color:#222;font-weight:bold;">Reorder</div>
<div class="t" style="left:2162.92px;top:410px;font-size:7.5px;color:#222;font-weight:bold;">Level</div>
<div class="t" style="left:2197.03px;top:399px;font-size:7.5px;color:#222;font-weight:bold;">Last Purchase</div>
<div class="t" style="left:2229.95px;top:410px;font-size:7.5px;color:#222;font-weight:bold;">Price</div>
<div class="t" style="left:1810.6px;top:633.4px;width:423.2px;height:3.2px;background:#9a9a9a;border-radius:2px;"></div>
<div class="t" style="left:45.46px;top:751px;font-size:58.9px;color:#1a1a1a;transform-origin:0 0;transform:scaleX(1.1091);-webkit-text-stroke:1px #fff;">Swiper/Reader Monitoring</div>
<div class="t" style="left:64.8px;top:886px;font-size:10.5px;color:#2d2d2d;">Total Number of Swipers</div>
<div class="t" style="left:151.95px;top:935px;font-size:22.58px;color:#2d2d2d;">2,043</div>
<div class="t" style="left:64.8px;top:1009px;font-size:10.5px;color:#2d2d2d;">Operational Efficiency</div>
<div class="t" style="left:315.3px;top:886px;font-size:10.5px;color:#2d2d2d;">List of Swipers</div>
<div class="t" style="left:321.6px;top:928px;font-size:8.6px;color:#666;font-weight:bold;filter:blur(1.6px);">Ang Mo Kio Hub</div>
<div class="t" style="left:471.43px;top:928px;font-size:8.75px;color:#333;">2</div>
<div class="t" style="left:488.4px;top:928px;font-size:8.75px;color:#333;">Maximum Tune 5 DX Plus Ver.2.19.02 #1</div>
<div class="t" style="left:765.6px;top:928px;font-size:8.75px;color:#333;">null</div>
<div class="t" style="left:890.4px;top:928px;font-size:9px;color:#333;">Not Communicating</div>
<div class="t" style="left:321.6px;top:945px;font-size:8.6px;color:#666;font-weight:bold;filter:blur(1.6px);">Ang Mo Kio Hub</div>
<div class="t" style="left:471.43px;top:945px;font-size:8.75px;color:#333;">3</div>
<div class="t" style="left:488.4px;top:945px;font-size:8.75px;color:#333;">Mario Kart Arcade GP DX #1</div>
<div class="t" style="left:765.6px;top:945px;font-size:8.75px;color:#333;">null</div>
<div class="t" style="left:890.4px;top:945px;font-size:9px;color:#333;">Not Communicating</div>
<div class="t" style="left:321.6px;top:963px;font-size:8.6px;color:#666;font-weight:bold;filter:blur(1.6px);">Ang Mo Kio Hub</div>
<div class="t" style="left:471.43px;top:963px;font-size:8.75px;color:#333;">4</div>
<div class="t" style="left:488.4px;top:963px;font-size:8.75px;color:#333;">Extreme Shots (Basket Ball) #1</div>
<div class="t" style="left:765.6px;top:963px;font-size:8.75px;color:#333;">null</div>
<div class="t" style="left:890.4px;top:963px;font-size:9px;color:#333;">Not Communicating</div>
<div class="t" style="left:321.6px;top:980px;font-size:8.6px;color:#666;font-weight:bold;filter:blur(1.6px);">Ang Mo Kio Hub</div>
<div class="t" style="left:471.43px;top:980px;font-size:8.75px;color:#333;">6</div>
<div class="t" style="left:488.4px;top:980px;font-size:8.75px;color:#333;">Luigi Mansion #1</div>
<div class="t" style="left:765.6px;top:980px;font-size:8.75px;color:#333;">null</div>
<div class="t" style="left:890.4px;top:980px;font-size:9px;color:#333;">Not Communicating</div>
<div class="t" style="left:321.6px;top:998px;font-size:8.6px;color:#666;font-weight:bold;filter:blur(1.6px);">Ang Mo Kio Hub</div>
<div class="t" style="left:471.43px;top:998px;font-size:8.75px;color:#333;">7</div>
<div class="t" style="left:488.4px;top:998px;font-size:8.75px;color:#333;">Moto Gp #1</div>
<div class="t" style="left:765.6px;top:998px;font-size:8.75px;color:#333;">null</div>
<div class="t" style="left:890.4px;top:998px;font-size:9px;color:#333;">Not Communicating</div>
<div class="t" style="left:321.6px;top:1015px;font-size:8.6px;color:#666;font-weight:bold;filter:blur(1.6px);">Ang Mo Kio Hub</div>
<div class="t" style="left:471.43px;top:1015px;font-size:8.75px;color:#333;">9</div>
<div class="t" style="left:488.4px;top:1015px;font-size:8.75px;color:#333;">Fun Chomper #3</div>
<div class="t" style="left:765.6px;top:1015px;font-size:8.75px;color:#333;">null</div>
<div class="t" style="left:890.4px;top:1015px;font-size:9px;color:#333;">Not Communicating</div>
<div class="t" style="left:321.6px;top:1032px;font-size:8.6px;color:#666;font-weight:bold;filter:blur(1.6px);">Ang Mo Kio Hub</div>
<div class="t" style="left:466.57px;top:1033px;font-size:8.75px;color:#333;">10</div>
<div class="t" style="left:488.4px;top:1033px;font-size:8.75px;color:#333;">Maximum Tune 5 DX Plus Ver.2.19.02 Terminal  #1</div>
<div class="t" style="left:765.6px;top:1033px;font-size:8.75px;color:#333;">null</div>
<div class="t" style="left:890.4px;top:1033px;font-size:9px;color:#333;">Not Communicating</div>
<div class="t" style="left:321.6px;top:1050px;font-size:8.6px;color:#666;font-weight:bold;filter:blur(1.6px);">Ang Mo Kio Hub</div>
<div class="t" style="left:467.22px;top:1050px;font-size:8.75px;color:#333;">11</div>
<div class="t" style="left:488.4px;top:1050px;font-size:8.75px;color:#333;">Down The Clown #1</div>
<div class="t" style="left:765.6px;top:1050px;font-size:8.75px;color:#333;">null</div>
<div class="t" style="left:890.4px;top:1050px;font-size:9px;color:#333;">Not Communicating</div>
<div class="t" style="left:321.6px;top:1067px;font-size:8.6px;color:#666;font-weight:bold;filter:blur(1.6px);">Ang Mo Kio Hub</div>
<div class="t" style="left:466.57px;top:1067px;font-size:8.75px;color:#333;">13</div>
<div class="t" style="left:488.4px;top:1067px;font-size:8.75px;color:#333;">Milk Jug Toss #1</div>
<div class="t" style="left:765.6px;top:1067px;font-size:8.75px;color:#333;">null</div>
<div class="t" style="left:890.4px;top:1068px;font-size:9px;color:#333;">Not Communicating</div>
<div class="t" style="left:321.6px;top:1085px;font-size:8.6px;color:#666;font-weight:bold;filter:blur(1.6px);">Ang Mo Kio Hub</div>
<div class="t" style="left:466.57px;top:1085px;font-size:8.75px;color:#333;">14</div>
<div class="t" style="left:488.4px;top:1085px;font-size:8.75px;color:#333;">Lets Bounce #1</div>
<div class="t" style="left:765.6px;top:1085px;font-size:8.75px;color:#333;">null</div>
<div class="t" style="left:890.4px;top:1085px;font-size:9px;color:#333;">Not Communicating</div>
<div class="t" style="left:321.6px;top:1102px;font-size:8.6px;color:#666;font-weight:bold;filter:blur(1.6px);">Ang Mo Kio Hub</div>
<div class="t" style="left:466.57px;top:1102px;font-size:8.75px;color:#333;">16</div>
<div class="t" style="left:488.4px;top:1102px;font-size:8.75px;color:#333;">DM3 Go Banana #1</div>
<div class="t" style="left:765.6px;top:1102px;font-size:8.75px;color:#333;">null</div>
<div class="t" style="left:890.4px;top:1102px;font-size:9px;color:#333;">Not Communicating</div>
<div class="t" style="left:321.6px;top:1120px;font-size:8.6px;color:#666;font-weight:bold;filter:blur(1.6px);">Ang Mo Kio Hub</div>
<div class="t" style="left:466.57px;top:1120px;font-size:8.75px;color:#333;">18</div>
<div class="t" style="left:488.4px;top:1120px;font-size:8.75px;color:#333;">Virtual Rabbids - The Big Ride #1</div>
<div class="t" style="left:765.6px;top:1120px;font-size:8.75px;color:#333;">null</div>
<div class="t" style="left:890.4px;top:1120px;font-size:9px;color:#333;">Not Communicating</div>
<div class="t" style="left:321.6px;top:1137px;font-size:8.6px;color:#666;font-weight:bold;filter:blur(1.6px);">Ang Mo Kio Hub</div>
<div class="t" style="left:466.57px;top:1137px;font-size:8.75px;color:#333;">19</div>
<div class="t" style="left:488.4px;top:1137px;font-size:8.75px;color:#333;">Virtual Rabbids - The Big Ride #2</div>
<div class="t" style="left:765.6px;top:1137px;font-size:8.75px;color:#333;">null</div>
<div class="t" style="left:890.4px;top:1137px;font-size:9px;color:#333;">Not Communicating</div>
<div class="t" style="left:321.6px;top:1155px;font-size:8.6px;color:#666;font-weight:bold;filter:blur(1.6px);">Ang Mo Kio Hub</div>
<div class="t" style="left:466.57px;top:1155px;font-size:8.75px;color:#333;">20</div>
<div class="t" style="left:488.4px;top:1155px;font-size:8.75px;color:#333;">Maximum Tune 5 DX Plus Ver.2.19.02 #4</div>
<div class="t" style="left:765.6px;top:1155px;font-size:8.75px;color:#333;">null</div>
<div class="t" style="left:890.4px;top:1155px;font-size:9px;color:#333;">Not Communicating</div>
<div class="t" style="left:321.6px;top:1172px;font-size:8.6px;color:#666;font-weight:bold;filter:blur(1.6px);">Ang Mo Kio Hub</div>
<div class="t" style="left:466.57px;top:1172px;font-size:8.75px;color:#333;">21</div>
<div class="t" style="left:488.4px;top:1172px;font-size:8.75px;color:#333;">Maximum Tune 5 DX Plus Ver.2.19.02 #2</div>
<div class="t" style="left:765.6px;top:1172px;font-size:8.75px;color:#333;">null</div>
<div class="t" style="left:890.4px;top:1172px;font-size:9px;color:#333;">Not Communicating</div>
<div class="t" style="left:321.6px;top:1190px;font-size:8.6px;color:#666;font-weight:bold;filter:blur(1.6px);">Ang Mo Kio Hub</div>
<div class="t" style="left:466.57px;top:1190px;font-size:8.75px;color:#333;">22</div>
<div class="t" style="left:488.4px;top:1190px;font-size:8.75px;color:#333;">Squiggle #1</div>
<div class="t" style="left:765.6px;top:1190px;font-size:8.75px;color:#333;">null</div>
<div class="t" style="left:890.4px;top:1190px;font-size:9px;color:#333;">Not Communicating</div>
<div class="t" style="left:322.2px;top:911px;font-size:8.85px;color:#222;font-weight:bold;">Location</div>
<div class="t" style="left:435px;top:911px;font-size:8.85px;color:#222;font-weight:bold;">Swiper ID</div>
<div class="t" style="left:489px;top:911px;font-size:8.85px;color:#222;font-weight:bold;">Swiper Name</div>
<div class="t" style="left:766.5px;top:911px;font-size:8.85px;color:#222;font-weight:bold;">Last Communication</div>
<div class="t" style="left:890.8px;top:911px;font-size:8.85px;color:#222;font-weight:bold;">Status</div>
<div class="t" style="left:64.8px;top:1224px;font-size:10.5px;color:#2d2d2d;">Heat Map of Swiper Down Frequency</div>
<div class="t" style="left:64.8px;top:1242px;font-size:10.57px;color:#777;">Size of the text represents number of times swiper is down given period of time</div>
<div class="t" style="left:205.44px;top:1256px;font-size:15.33px;color:#333;">Zombie Snatcher #6</div>
<div class="t" style="left:344.41px;top:1279px;font-size:15.23px;color:#333;">Willy Wonka #2</div>
<div class="t" style="left:137.84px;top:1293px;font-size:15.2px;color:#333;">Moto GP #2</div>
<div class="t" style="left:222.42px;top:1293px;font-size:15.3px;color:#333;">Space Invaders Frenzy #2</div>
<div class="t" style="left:484.95px;top:1301px;font-size:15.23px;color:#333;">Willy Wonka #1</div>
<div class="t" style="left:360.13px;top:1314px;font-size:15.64px;color:#333;">Zombie Snatcher #4</div>
<div class="t" style="left:180.29px;top:1318px;font-size:15.22px;color:#333;">Space Invaders Frenzy #1</div>
<div class="t" style="left:172.11px;top:1331px;font-size:15.36px;color:#333;">Zombie Snatcher #5</div>
<div class="t" style="left:343.46px;top:1341px;font-size:16.1px;color:#333;">Zombie Snatcher #1</div>
<div class="t" style="left:143.19px;top:1348px;font-size:15.08px;color:#333;">Moto GP #1</div>
<div class="t" style="left:266.43px;top:1366px;font-size:29.91px;color:#333;">Lane Master #2</div>
<div class="t" style="left:200.09px;top:1393px;font-size:15.33px;color:#333;">Zombie Snatcher #2</div>
<div class="t" style="left:163.31px;top:1409px;font-size:18.05px;color:#333;">Lane Master #1</div>
<div class="t" style="left:460.74px;top:1405px;font-size:15.1px;color:#333;">Pink Date #1</div>
<div class="t" style="left:302.9px;top:1416px;font-size:15.36px;color:#333;">Zombie Snatcher #3</div>
<div class="t" style="left:358.55px;top:1270px;font-size:5.96px;color:#444;">Wizard of OZ #3 (Good Witch)</div>
<div class="t" style="left:142.56px;top:1286px;font-size:6.13px;color:#444;">Pearl Fishery #1</div>
<div class="t" style="left:241.6px;top:1289px;font-size:5.7px;color:#444;">Wizard of OZ Redemption Centre #1</div>
<div class="t" style="left:534.94px;top:1288px;font-size:5.33px;color:#444;">Big Sweetland #2</div>
<div class="t" style="left:292.53px;top:1307px;font-size:6.46px;color:#444;">Monster Drop #1</div>
<div class="t" style="left:236.56px;top:1314px;font-size:5.08px;color:#444;">Hyper Pitch #2</div>
<div class="t" style="left:193.49px;top:1309px;font-size:4.13px;color:#444;">Fast &amp; Furious Super Bikes</div>
<div class="t" style="left:399.11px;top:1329px;font-size:6.01px;color:#444;">Ice Ball FX #1</div>
<div class="t" style="left:409.49px;top:1336px;font-size:5.91px;color:#444;">Fun Hoops #2</div>
<div class="t" style="left:336.55px;top:1339px;font-size:4.8px;color:#444;">Monster Drop Chaos #1</div>
<div class="t" style="left:244.74px;top:1347px;font-size:6px;color:#444;">Wizard of OZ #2 (Tinman)</div>
<div class="t" style="left:495.95px;top:1347px;font-size:6.22px;color:#444;">Pearl Fishery #3</div>
<div class="t" style="left:269.58px;top:1361px;font-size:6px;color:#444;">Wizard of OZ #5 (Lion)</div>
<div class="t" style="left:226.82px;top:1362px;font-size:4.85px;color:#444;">Ice Ball FX #2</div>
<div class="t" style="left:403.51px;top:1359px;font-size:5.37px;color:#444;">Big Sweetland #1</div>
<div class="t" style="left:461.68px;top:1358px;font-size:6.09px;color:#444;">Wizard of OZ #1 (Dorothy)</div>
<div class="t" style="left:538.39px;top:1358px;font-size:6.51px;color:#444;">Down The Clown #1</div>
<div class="t" style="left:136.9px;top:1363px;font-size:6.22px;color:#444;">Pearl Fishery #2</div>
<div class="t" style="left:304.16px;top:1366px;font-size:7.77px;color:#444;">Ring Toss</div>
<div class="t" style="left:407.29px;top:1365px;font-size:7.81px;color:#444;">Snapshot</div>
<div class="t" style="left:138.78px;top:1371px;font-size:5.97px;color:#444;">Wizard of OZ #6 (Wicked Witch)</div>
<div class="t" style="left:480.54px;top:1377px;font-size:5.37px;color:#444;">Big Sweetland #3</div>
<div class="t" style="left:541.85px;top:1377px;font-size:5.13px;color:#444;">Hyper Pitch #1</div>
<div class="t" style="left:102px;top:1384px;font-size:5.41px;color:#444;">Wizard of OZ Redemption Centre #2</div>
<div class="t" style="left:162.99px;top:1398px;font-size:4.08px;color:#444;">Crossy Road #2</div>
<div class="t" style="left:529.91px;top:1397px;font-size:5.86px;color:#444;">Fish Bowl Frenzy</div>
<div class="t" style="left:401.94px;top:1393px;font-size:4.12px;color:#444;">Crossy Road #1</div>
<div class="t" style="left:407.92px;top:1407px;font-size:5.35px;color:#444;">Connect 4 Hoops #2</div>
<div class="t" style="left:367.99px;top:1405px;font-size:3.88px;color:#444;">Down The Clown #2</div>
<div class="t" style="left:290.96px;top:1411px;font-size:5.33px;color:#444;">Big Sweetland #6</div>
<div class="t" style="left:340.32px;top:1411px;font-size:5.31px;color:#444;">Connect 4 Hoops #1</div>
<div class="t" style="left:502.87px;top:1420px;font-size:5.41px;color:#444;">Big Sweetland #4</div>
<div class="t" style="left:176.83px;top:1428px;font-size:5.9px;color:#444;">Wizard of OZ #4 (Scarecrow)</div>
<div class="t" style="left:403.83px;top:1430px;font-size:6.26px;color:#444;">Minions Soccer</div>
<div class="t" style="left:349.75px;top:1435px;font-size:5.37px;color:#444;">Big Sweetland #5</div>
<div class="t" style="left:286.87px;top:1433px;font-size:4.1px;color:#444;">Mario &amp; Sonic Rio 2016 #4</div>
<div class="t" style="left:363.9px;top:1264px;font-size:2.88px;color:#666;">E-Claw 900 2 player #4 #1</div>
<div class="t" style="left:263.6px;top:1279px;font-size:3.16px;color:#666;">E-Claw 900 player #4 #1</div>
<div class="t" style="left:305.73px;top:1279px;font-size:2.96px;color:#666;">Extreme Shot #1</div>
<div class="t" style="left:273.66px;top:1284px;font-size:3.13px;color:#666;">Bish Bashi</div>
<div class="t" style="left:209.84px;top:1290px;font-size:2.87px;color:#666;">Fantasy Soccer #4</div>
<div class="t" style="left:406.34px;top:1298px;font-size:2.94px;color:#666;">Fantasy Soccer #3</div>
<div class="t" style="left:417.35px;top:1303px;font-size:2.99px;color:#666;">Elvis Redeemer Single Side</div>
<div class="t" style="left:254.17px;top:1308px;font-size:2.9px;color:#666;">Air Hockey FX</div>
<div class="t" style="left:343.78px;top:1308px;font-size:3.04px;color:#666;">Extreme Shot #3</div>
<div class="t" style="left:404.77px;top:1308px;font-size:2.9px;color:#666;">E-Claw Cosmic</div>
<div class="t" style="left:356.98px;top:1312px;font-size:2.96px;color:#666;">Connect 4 Hoops HD #1</div>
<div class="t" style="left:404.14px;top:1312px;font-size:2.94px;color:#666;">Fantasy Soccer #1</div>
<div class="t" style="left:184.06px;top:1314px;font-size:2.99px;color:#666;">E-Claw 900 2 player #3 #1</div>
<div class="t" style="left:294.73px;top:1316px;font-size:2.93px;color:#666;">E-Claw 900 2 player #3 #2</div>
<div class="t" style="left:360.13px;top:1331px;font-size:2.99px;color:#666;">Crazy Tower Standard #1</div>
<div class="t" style="left:450.05px;top:1331px;font-size:3.1px;color:#666;">Cruis'n Blast Motion #3</div>
<div class="t" style="left:554.43px;top:1330px;font-size:3.13px;color:#666;">Cruis'n Blast Motion #4</div>
<div class="t" style="left:125.89px;top:1333px;font-size:2.93px;color:#666;">Halo Fireteam Raven 2 Player</div>
<div class="t" style="left:125.89px;top:1339px;font-size:2.97px;color:#666;">Despicable Me Minion Whacker</div>
<div class="t" style="left:174px;top:1345px;font-size:3.02px;color:#666;">Connect 4 Hoops HD #2</div>
<div class="t" style="left:319.25px;top:1344px;font-size:2.98px;color:#666;">Key Master</div>
<div class="t" style="left:341.26px;top:1335px;font-size:2.83px;color:#666;">Tank Hammer</div>
<div class="t" style="left:505.7px;top:1341px;font-size:3.66px;color:#666;">Willy Wonka #4</div>
<div class="t" style="left:560.72px;top:1347px;font-size:3.07px;color:#666;">Hit and Smash</div>
<div class="t" style="left:273.66px;top:1354px;font-size:3.98px;color:#666;">Bean Bag Toss</div>
<div class="t" style="left:342.52px;top:1359px;font-size:3.55px;color:#666;">Ticket Coaster #3</div>
<div class="t" style="left:379.93px;top:1363px;font-size:3.63px;color:#666;">Daytona #1</div>
<div class="t" style="left:481.8px;top:1368px;font-size:2.96px;color:#666;">Extreme Shot #2</div>
<div class="t" style="left:509.47px;top:1365px;font-size:2.99px;color:#666;">Crazy Tower Standard #2</div>
<div class="t" style="left:499.41px;top:1371px;font-size:2.91px;color:#666;">E-Claw 900 2 player #2 #1</div>
<div class="t" style="left:538.71px;top:1370px;font-size:2.83px;color:#666;">E-Claw Cosmic XL</div>
<div class="t" style="left:578.01px;top:1371px;font-size:3.13px;color:#666;">Cruis'n Blast Motion #2</div>
<div class="t" style="left:97.91px;top:1377px;font-size:2.85px;color:#666;">E-Claw 900 2 player #3 #4</div>
<div class="t" style="left:511.98px;top:1383px;font-size:2.87px;color:#666;">Fantasy Soccer #4</div>
<div class="t" style="left:232.16px;top:1384px;font-size:2.98px;color:#666;">Dream of Piano #2</div>
<div class="t" style="left:573.92px;top:1387px;font-size:3.1px;color:#666;">Dragon Punch</div>
<div class="t" style="left:481.49px;top:1389px;font-size:2.93px;color:#666;">Jurassic Park Arcade Theatre</div>
<div class="t" style="left:225.87px;top:1391px;font-size:2.88px;color:#666;">E-Claw 900 2 player #1 #1</div>
<div class="t" style="left:356.98px;top:1393px;font-size:3.01px;color:#666;">Game Rush Random</div>
<div class="t" style="left:440.93px;top:1393px;font-size:2.93px;color:#666;">E-Claw 900 2 player #1 #2</div>
<div class="t" style="left:363.27px;top:1400px;font-size:2.87px;color:#666;">Flying Tickets #4</div>
<div class="t" style="left:406.97px;top:1398px;font-size:2.99px;color:#666;">Crazy Tower Standard #4</div>
<div class="t" style="left:412px;top:1403px;font-size:2.94px;color:#666;">Dream of Piano #1</div>
<div class="t" style="left:396.28px;top:1413px;font-size:2.95px;color:#666;">Guardians Of The Galaxy Pinball</div>
<div class="t" style="left:125.89px;top:1418px;font-size:2.99px;color:#666;">Crazy Tower Standard #3</div>
<div class="t" style="left:274.61px;top:1425px;font-size:3.07px;color:#666;">Hammerfit Pinball</div>
<div class="t" style="left:142.56px;top:1431px;font-size:2.81px;color:#666;">Chameleon Super Star</div>
<div class="t" style="left:451.93px;top:1436px;font-size:2.96px;color:#666;">Flying Tickets #1</div>
<div class="t" style="left:296.93px;top:1441px;font-size:3.04px;color:#666;">Cruis'n Blast Motion #1</div>
<div class="t" style="left:659.6px;top:1224px;font-size:10.5px;color:#2d2d2d;">Swiper Down Daily Summary</div>
<div class="t" style="left:859.2px;top:1265px;font-size:8.6px;color:#222;font-weight:bold;">Ace Angler #1</div>
<div class="t" style="left:1013.6px;top:1265px;font-size:8.4px;color:#222;font-weight:bold;">128000340A00</div>
<div class="t" style="left:859.2px;top:1283px;font-size:8.6px;color:#222;font-weight:bold;">Ace Angler #2</div>
<div class="t" style="left:1013.6px;top:1283px;font-size:8.4px;color:#222;font-weight:bold;">128000340B00</div>
<div class="t" style="left:859.2px;top:1300px;font-size:8.6px;color:#222;font-weight:bold;">Ace Angler #3</div>
<div class="t" style="left:1013.6px;top:1300px;font-size:8.4px;color:#222;font-weight:bold;">128000340C00</div>
<div class="t" style="left:859.2px;top:1318px;font-size:8.6px;color:#222;font-weight:bold;">Ace Angler #4</div>
<div class="t" style="left:1013.6px;top:1317px;font-size:8.4px;color:#222;font-weight:bold;">128000340D00</div>
<div class="t" style="left:859.2px;top:1335px;font-size:8.6px;color:#222;font-weight:bold;">Ace Angler #5</div>
<div class="t" style="left:1013.6px;top:1335px;font-size:8.4px;color:#222;font-weight:bold;">128000340E00</div>
<div class="t" style="left:859.2px;top:1353px;font-size:8.6px;color:#222;font-weight:bold;">Ace Angler #6</div>
<div class="t" style="left:1013.6px;top:1352px;font-size:8.4px;color:#222;font-weight:bold;">128000340F00</div>
<div class="t" style="left:859.2px;top:1370px;font-size:8.6px;color:#222;font-weight:bold;">Bean Bag Toss #1</div>
<div class="t" style="left:1013.6px;top:1370px;font-size:8.4px;color:#222;font-weight:bold;">114000329A00</div>
<div class="t" style="left:859.2px;top:1387px;font-size:8.6px;color:#222;font-weight:bold;">Big Sweetland #1</div>
<div class="t" style="left:1013.6px;top:1387px;font-size:8.4px;color:#222;font-weight:bold;">128000038A00</div>
<div class="t" style="left:859.2px;top:1405px;font-size:8.6px;color:#222;font-weight:bold;">Big Sweetland #2</div>
<div class="t" style="left:1013.6px;top:1405px;font-size:8.4px;color:#222;font-weight:bold;">128000038B00</div>
<div class="t" style="left:859.2px;top:1422px;font-size:8.6px;color:#222;font-weight:bold;">Big Sweetland #3</div>
<div class="t" style="left:1013.6px;top:1422px;font-size:8.4px;color:#222;font-weight:bold;">128000038C00</div>
<div class="t" style="left:658.9px;top:1428.6px;width:497.8px;height:9.4px;background:#fff;"></div>
<div class="t" style="left:684.5px;top:1265px;font-size:9px;color:#444;font-weight:bold;filter:blur(1.5px);">Causeway</div>
<div class="t" style="left:684.5px;top:1277px;font-size:9px;color:#444;font-weight:bold;filter:blur(1.5px);">Point</div>
<div class="t" style="left:771.4px;top:1265px;font-size:8.3px;color:#222;font-weight:bold;">Jul 4, 2022</div>
<div class="t" style="left:666.2px;top:1246px;font-size:8.85px;color:#222;font-weight:bold;">Location</div>
<div class="t" style="left:753.8px;top:1246px;font-size:8.85px;color:#222;font-weight:bold;">Date</div>
<div class="t" style="left:841.4px;top:1246px;font-size:8.85px;color:#222;font-weight:bold;">Swiper Name</div>
<div class="t" style="left:1014px;top:1246px;font-size:8.85px;color:#222;font-weight:bold;">Swiper ID</div>
<div class="t" style="left:1148.6px;top:1249px;font-size:8.85px;color:#222;font-weight:bold;">D</div>
<div class="t" style="left:1153px;top:1245px;width:5px;height:13px;background:#fff;"></div>
<div class="t" style="left:659.9px;top:1440px;width:426.1px;height:4.4px;background:#a8a8a8;border-radius:2px;"></div>
<div class="t" style="left:1305.57px;top:759px;font-size:57.8px;color:#1a1a1a;transform-origin:0 0;transform:scaleX(1.0817);-webkit-text-stroke:1px #fff;">Guests</div>
<div class="t" style="left:1325.1px;top:881px;font-size:8.8px;color:#2d2d2d;">Average Reload</div>
<div class="t" style="left:1325.1px;top:899px;font-size:8.8px;color:#222;font-weight:bold;">Difference</div>
<div class="t" style="left:1325.1px;top:912px;font-size:8.2px;color:#333;">$48.43↑</div>
<div class="t" style="left:1471.03px;top:899px;font-size:8.45px;color:#222;font-weight:bold;">Sep 11, 2022</div>
<div class="t" style="left:1496.22px;top:912px;font-size:8.2px;color:#333;">$37.87</div>
<div class="t" style="left:1386.75px;top:908px;font-size:23.64px;color:#222;">$86.29</div>
<div class="t" style="left:1325.1px;top:962px;font-size:8.8px;color:#2d2d2d;">Attendance Tracker Week-on-Week</div>
<div class="t" style="left:1325.1px;top:980px;font-size:8.8px;color:#222;font-weight:bold;">Percent Difference</div>
<div class="t" style="left:1325.1px;top:993px;font-size:8.2px;color:#333;">-27.27%↓</div>
<div class="t" style="left:1452.73px;top:980px;font-size:8.45px;color:#222;font-weight:bold;">Sun Sep 11, 2022</div>
<div class="t" style="left:1512.79px;top:993px;font-size:8.2px;color:#333;">11</div>
<div class="t" style="left:1414.4px;top:984px;font-size:30.57px;color:#222;">8</div>
<div class="t" style="left:1325.1px;top:1043px;font-size:8.8px;color:#2d2d2d;">Average Dwell Time (Minutes)</div>
<div class="t" style="left:1325.1px;top:1061px;font-size:8.8px;color:#222;font-weight:bold;">Difference</div>
<div class="t" style="left:1325.1px;top:1074px;font-size:8.2px;color:#333;">24.41↑</div>
<div class="t" style="left:1471.03px;top:1061px;font-size:8.45px;color:#222;font-weight:bold;">Sep 11, 2022</div>
<div class="t" style="left:1500.78px;top:1074px;font-size:8.2px;color:#333;">34.47</div>
<div class="t" style="left:1388.6px;top:1067px;font-size:27.42px;color:#222;">58.88</div>
<div class="t" style="left:1538.2px;top:881px;font-size:8.8px;color:#2d2d2d;">Average Spend</div>
<div class="t" style="left:1324.8px;top:1123px;font-size:8.8px;color:#2d2d2d;">Attendance Tracker</div>
<div class="t" style="left:1779px;top:1123px;font-size:8.8px;color:#2d2d2d;">New Cards Purchased</div>
<div class="t" style="left:1324.8px;top:1393px;font-size:8.8px;color:#2d2d2d;">Active Guests</div>
<div class="t" style="left:1645.4px;top:1393px;font-size:8.8px;color:#2d2d2d;">Active Guests Forecast</div>
<div class="t" style="left:1965.6px;top:1393px;font-size:8.8px;color:#2d2d2d;">Unique Cards by Card Type</div>
<div class="t" style="left:47.12px;top:1603px;font-size:59.3px;color:#1a1a1a;transform-origin:0 0;transform:scaleX(1.1061);-webkit-text-stroke:1px #fff;">Manpower Estimation Tool</div>
<div class="t" style="left:68.1px;top:1752px;font-size:10.4px;color:#2d2d2d;">Average Wage Cost</div>
<div class="t" style="left:288.2px;top:1752px;font-size:10.4px;color:#2d2d2d;">Ideal Labour Cost (%)</div>
<div class="t" style="left:508.7px;top:1752px;font-size:10.4px;color:#2d2d2d;">Date Filter</div>
<div class="t" style="left:728.3px;top:1752px;font-size:10.4px;color:#2d2d2d;">Location Filter</div>
<div class="t" style="left:948.8px;top:1752px;font-size:10.4px;color:#2d2d2d;">Day of Week Filter</div>
<div class="t" style="left:75.5px;top:1774px;font-size:8.75px;color:#333;">18</div>
<div class="t" style="left:295.9px;top:1774px;font-size:8.75px;color:#333;">30</div>
<div class="t" style="left:516.3px;top:1774px;font-size:8.75px;color:#333;">Last 3 weeks</div>
<div class="t" style="left:736.4px;top:1774px;font-size:8.75px;color:#333;">All</div>
<div class="t" style="left:956.5px;top:1774px;font-size:8.75px;color:#333;">All</div>
<div class="t" style="left:510.3px;top:1789px;font-size:8.6px;color:#8a8a8a;">2022/07/03 to 2022/07/23</div>
<div class="t" style="left:68px;top:1844px;font-size:10.4px;color:#2d2d2d;">Historical Ideal Manhours</div>
<div class="t" style="left:68px;top:1860px;font-size:10.55px;color:#777;">Ideal manhours based on past sales and input parameters.</div>
<div class="t" style="left:634.6px;top:1844px;font-size:10.4px;color:#2d2d2d;">Average Ideal Manhours by Hour</div>
<div class="t" style="left:634.6px;top:1861px;font-size:10.49px;color:#777;">Ideal manhours based on past sales averaged by hour of the day</div>
</div>
</body></html>
